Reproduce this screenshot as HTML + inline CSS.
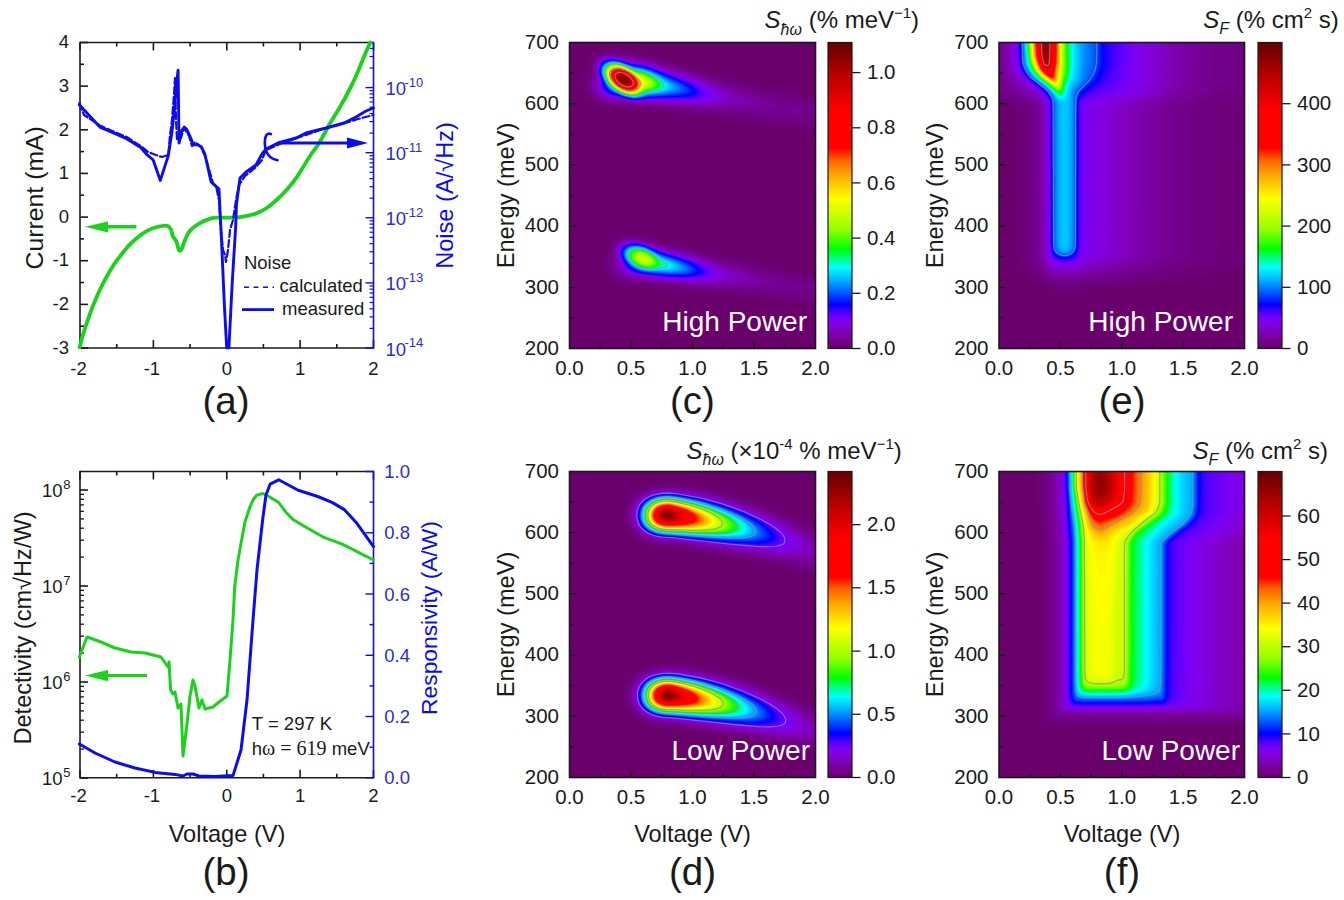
<!DOCTYPE html>
<html><head><meta charset="utf-8"><style>html,body{margin:0;padding:0;background:#fff;}svg{display:block}</style></head>
<body><svg width="1344" height="900" viewBox="0 0 1344 900" font-family="Liberation Sans, sans-serif">
<rect width="1344" height="900" fill="#fff"/>
<line x1="80.0" y1="42.5" x2="373.5" y2="42.5" stroke="#1a1a1a" stroke-width="1.6" />
<line x1="80.0" y1="348.0" x2="373.5" y2="348.0" stroke="#1a1a1a" stroke-width="1.6" />
<line x1="80.0" y1="41.7" x2="80.0" y2="348.8" stroke="#1a1a1a" stroke-width="1.6" />
<line x1="80.0" y1="348.0" x2="80.0" y2="340.0" stroke="#1a1a1a" stroke-width="1.6" />
<line x1="80.0" y1="42.5" x2="80.0" y2="50.5" stroke="#1a1a1a" stroke-width="1.6" />
<line x1="116.7" y1="348.0" x2="116.7" y2="344.0" stroke="#1a1a1a" stroke-width="1.6" />
<line x1="116.7" y1="42.5" x2="116.7" y2="46.5" stroke="#1a1a1a" stroke-width="1.6" />
<line x1="153.4" y1="348.0" x2="153.4" y2="340.0" stroke="#1a1a1a" stroke-width="1.6" />
<line x1="153.4" y1="42.5" x2="153.4" y2="50.5" stroke="#1a1a1a" stroke-width="1.6" />
<line x1="190.1" y1="348.0" x2="190.1" y2="344.0" stroke="#1a1a1a" stroke-width="1.6" />
<line x1="190.1" y1="42.5" x2="190.1" y2="46.5" stroke="#1a1a1a" stroke-width="1.6" />
<line x1="226.8" y1="348.0" x2="226.8" y2="340.0" stroke="#1a1a1a" stroke-width="1.6" />
<line x1="226.8" y1="42.5" x2="226.8" y2="50.5" stroke="#1a1a1a" stroke-width="1.6" />
<line x1="263.4" y1="348.0" x2="263.4" y2="344.0" stroke="#1a1a1a" stroke-width="1.6" />
<line x1="263.4" y1="42.5" x2="263.4" y2="46.5" stroke="#1a1a1a" stroke-width="1.6" />
<line x1="300.1" y1="348.0" x2="300.1" y2="340.0" stroke="#1a1a1a" stroke-width="1.6" />
<line x1="300.1" y1="42.5" x2="300.1" y2="50.5" stroke="#1a1a1a" stroke-width="1.6" />
<line x1="336.8" y1="348.0" x2="336.8" y2="344.0" stroke="#1a1a1a" stroke-width="1.6" />
<line x1="336.8" y1="42.5" x2="336.8" y2="46.5" stroke="#1a1a1a" stroke-width="1.6" />
<line x1="373.5" y1="348.0" x2="373.5" y2="340.0" stroke="#1a1a1a" stroke-width="1.6" />
<line x1="373.5" y1="42.5" x2="373.5" y2="50.5" stroke="#1a1a1a" stroke-width="1.6" />
<line x1="80.0" y1="348.0" x2="88.0" y2="348.0" stroke="#1a1a1a" stroke-width="1.6" />
<text x="69.0" y="353.7" font-size="18.5" text-anchor="end" fill="#1a1a1a" >-3</text>
<line x1="80.0" y1="326.2" x2="84.0" y2="326.2" stroke="#1a1a1a" stroke-width="1.6" />
<line x1="80.0" y1="304.4" x2="88.0" y2="304.4" stroke="#1a1a1a" stroke-width="1.6" />
<text x="69.0" y="310.1" font-size="18.5" text-anchor="end" fill="#1a1a1a" >-2</text>
<line x1="80.0" y1="282.5" x2="84.0" y2="282.5" stroke="#1a1a1a" stroke-width="1.6" />
<line x1="80.0" y1="260.7" x2="88.0" y2="260.7" stroke="#1a1a1a" stroke-width="1.6" />
<text x="69.0" y="266.4" font-size="18.5" text-anchor="end" fill="#1a1a1a" >-1</text>
<line x1="80.0" y1="238.9" x2="84.0" y2="238.9" stroke="#1a1a1a" stroke-width="1.6" />
<line x1="80.0" y1="217.1" x2="88.0" y2="217.1" stroke="#1a1a1a" stroke-width="1.6" />
<text x="69.0" y="222.8" font-size="18.5" text-anchor="end" fill="#1a1a1a" >0</text>
<line x1="80.0" y1="195.2" x2="84.0" y2="195.2" stroke="#1a1a1a" stroke-width="1.6" />
<line x1="80.0" y1="173.4" x2="88.0" y2="173.4" stroke="#1a1a1a" stroke-width="1.6" />
<text x="69.0" y="179.1" font-size="18.5" text-anchor="end" fill="#1a1a1a" >1</text>
<line x1="80.0" y1="151.6" x2="84.0" y2="151.6" stroke="#1a1a1a" stroke-width="1.6" />
<line x1="80.0" y1="129.8" x2="88.0" y2="129.8" stroke="#1a1a1a" stroke-width="1.6" />
<text x="69.0" y="135.5" font-size="18.5" text-anchor="end" fill="#1a1a1a" >2</text>
<line x1="80.0" y1="108.0" x2="84.0" y2="108.0" stroke="#1a1a1a" stroke-width="1.6" />
<line x1="80.0" y1="86.1" x2="88.0" y2="86.1" stroke="#1a1a1a" stroke-width="1.6" />
<text x="69.0" y="91.8" font-size="18.5" text-anchor="end" fill="#1a1a1a" >3</text>
<line x1="80.0" y1="64.3" x2="84.0" y2="64.3" stroke="#1a1a1a" stroke-width="1.6" />
<line x1="80.0" y1="42.5" x2="88.0" y2="42.5" stroke="#1a1a1a" stroke-width="1.6" />
<text x="69.0" y="48.2" font-size="18.5" text-anchor="end" fill="#1a1a1a" >4</text>
<text x="78.5" y="375.4" font-size="18.5" text-anchor="middle" fill="#1a1a1a" >-2</text>
<text x="151.9" y="375.4" font-size="18.5" text-anchor="middle" fill="#1a1a1a" >-1</text>
<text x="226.8" y="375.4" font-size="18.5" text-anchor="middle" fill="#1a1a1a" >0</text>
<text x="300.1" y="375.4" font-size="18.5" text-anchor="middle" fill="#1a1a1a" >1</text>
<text x="373.5" y="375.4" font-size="18.5" text-anchor="middle" fill="#1a1a1a" >2</text>
<line x1="373.5" y1="41.7" x2="373.5" y2="348.8" stroke="#0c0cf0" stroke-width="1.6" />
<line x1="373.5" y1="348.0" x2="365.5" y2="348.0" stroke="#0c0cf0" stroke-width="1.4" />
<line x1="373.5" y1="328.4" x2="369.5" y2="328.4" stroke="#0c0cf0" stroke-width="1.2" />
<line x1="373.5" y1="316.9" x2="369.5" y2="316.9" stroke="#0c0cf0" stroke-width="1.2" />
<line x1="373.5" y1="308.8" x2="369.5" y2="308.8" stroke="#0c0cf0" stroke-width="1.2" />
<line x1="373.5" y1="302.5" x2="369.5" y2="302.5" stroke="#0c0cf0" stroke-width="1.2" />
<line x1="373.5" y1="297.3" x2="369.5" y2="297.3" stroke="#0c0cf0" stroke-width="1.2" />
<line x1="373.5" y1="293.0" x2="369.5" y2="293.0" stroke="#0c0cf0" stroke-width="1.2" />
<line x1="373.5" y1="289.2" x2="369.5" y2="289.2" stroke="#0c0cf0" stroke-width="1.2" />
<line x1="373.5" y1="285.9" x2="369.5" y2="285.9" stroke="#0c0cf0" stroke-width="1.2" />
<text x="385.5" y="355.5" font-size="18.5" text-anchor="start" fill="#2b2bd9" >10</text>
<text x="404.5" y="347.2" font-size="13" text-anchor="start" fill="#2b2bd9" >-14</text>
<line x1="373.5" y1="282.9" x2="365.5" y2="282.9" stroke="#0c0cf0" stroke-width="1.4" />
<line x1="373.5" y1="263.3" x2="369.5" y2="263.3" stroke="#0c0cf0" stroke-width="1.2" />
<line x1="373.5" y1="251.8" x2="369.5" y2="251.8" stroke="#0c0cf0" stroke-width="1.2" />
<line x1="373.5" y1="243.7" x2="369.5" y2="243.7" stroke="#0c0cf0" stroke-width="1.2" />
<line x1="373.5" y1="237.4" x2="369.5" y2="237.4" stroke="#0c0cf0" stroke-width="1.2" />
<line x1="373.5" y1="232.2" x2="369.5" y2="232.2" stroke="#0c0cf0" stroke-width="1.2" />
<line x1="373.5" y1="227.9" x2="369.5" y2="227.9" stroke="#0c0cf0" stroke-width="1.2" />
<line x1="373.5" y1="224.1" x2="369.5" y2="224.1" stroke="#0c0cf0" stroke-width="1.2" />
<line x1="373.5" y1="220.8" x2="369.5" y2="220.8" stroke="#0c0cf0" stroke-width="1.2" />
<text x="385.5" y="290.4" font-size="18.5" text-anchor="start" fill="#2b2bd9" >10</text>
<text x="404.5" y="282.1" font-size="13" text-anchor="start" fill="#2b2bd9" >-13</text>
<line x1="373.5" y1="217.8" x2="365.5" y2="217.8" stroke="#0c0cf0" stroke-width="1.4" />
<line x1="373.5" y1="198.2" x2="369.5" y2="198.2" stroke="#0c0cf0" stroke-width="1.2" />
<line x1="373.5" y1="186.7" x2="369.5" y2="186.7" stroke="#0c0cf0" stroke-width="1.2" />
<line x1="373.5" y1="178.6" x2="369.5" y2="178.6" stroke="#0c0cf0" stroke-width="1.2" />
<line x1="373.5" y1="172.3" x2="369.5" y2="172.3" stroke="#0c0cf0" stroke-width="1.2" />
<line x1="373.5" y1="167.1" x2="369.5" y2="167.1" stroke="#0c0cf0" stroke-width="1.2" />
<line x1="373.5" y1="162.8" x2="369.5" y2="162.8" stroke="#0c0cf0" stroke-width="1.2" />
<line x1="373.5" y1="159.0" x2="369.5" y2="159.0" stroke="#0c0cf0" stroke-width="1.2" />
<line x1="373.5" y1="155.7" x2="369.5" y2="155.7" stroke="#0c0cf0" stroke-width="1.2" />
<text x="385.5" y="225.3" font-size="18.5" text-anchor="start" fill="#2b2bd9" >10</text>
<text x="404.5" y="217.0" font-size="13" text-anchor="start" fill="#2b2bd9" >-12</text>
<line x1="373.5" y1="152.7" x2="365.5" y2="152.7" stroke="#0c0cf0" stroke-width="1.4" />
<line x1="373.5" y1="133.1" x2="369.5" y2="133.1" stroke="#0c0cf0" stroke-width="1.2" />
<line x1="373.5" y1="121.6" x2="369.5" y2="121.6" stroke="#0c0cf0" stroke-width="1.2" />
<line x1="373.5" y1="113.5" x2="369.5" y2="113.5" stroke="#0c0cf0" stroke-width="1.2" />
<line x1="373.5" y1="107.2" x2="369.5" y2="107.2" stroke="#0c0cf0" stroke-width="1.2" />
<line x1="373.5" y1="102.0" x2="369.5" y2="102.0" stroke="#0c0cf0" stroke-width="1.2" />
<line x1="373.5" y1="97.7" x2="369.5" y2="97.7" stroke="#0c0cf0" stroke-width="1.2" />
<line x1="373.5" y1="93.9" x2="369.5" y2="93.9" stroke="#0c0cf0" stroke-width="1.2" />
<line x1="373.5" y1="90.6" x2="369.5" y2="90.6" stroke="#0c0cf0" stroke-width="1.2" />
<text x="385.5" y="160.2" font-size="18.5" text-anchor="start" fill="#2b2bd9" >10</text>
<text x="404.5" y="151.9" font-size="13" text-anchor="start" fill="#2b2bd9" >-11</text>
<line x1="373.5" y1="87.6" x2="365.5" y2="87.6" stroke="#0c0cf0" stroke-width="1.4" />
<line x1="373.5" y1="68.0" x2="369.5" y2="68.0" stroke="#0c0cf0" stroke-width="1.2" />
<line x1="373.5" y1="56.5" x2="369.5" y2="56.5" stroke="#0c0cf0" stroke-width="1.2" />
<line x1="373.5" y1="48.4" x2="369.5" y2="48.4" stroke="#0c0cf0" stroke-width="1.2" />
<text x="385.5" y="95.1" font-size="18.5" text-anchor="start" fill="#2b2bd9" >10</text>
<text x="404.5" y="86.8" font-size="13" text-anchor="start" fill="#2b2bd9" >-10</text>
<text transform="translate(42.8,197.8) rotate(-90)" font-size="24.8" text-anchor="middle" fill="#1a1a1a">Current (mA)</text>
<text transform="translate(452.8,195.5) rotate(-90)" font-size="23.6" text-anchor="middle" fill="#0c0cf0">Noise (A/√Hz)</text>
<text x="226.0" y="414.0" font-size="38.5" text-anchor="middle" fill="#1a1a1a" >(a)</text>
<path d="M79.6,347.3 C80.5,344.2 82.5,335.9 84.9,328.7 C87.3,321.4 90.8,311.2 93.8,303.8 C96.8,296.4 99.7,290.1 102.7,284.2 C105.7,278.3 108.6,272.9 111.6,268.2 C114.5,263.5 117.5,259.7 120.4,255.8 C123.4,252.0 126.3,248.2 129.3,245.1 C132.3,242.0 135.2,239.5 138.2,237.1 C141.2,234.7 144.1,232.5 147.1,230.9 C150.1,229.3 153.0,228.2 156.0,227.3 C159.0,226.4 162.8,225.8 164.9,225.6 C167.0,225.4 167.4,225.7 168.4,226.4 C169.4,227.1 170.3,228.4 171.1,230.0 C171.8,231.6 172.0,234.3 172.9,236.2 C173.8,238.1 175.4,239.2 176.4,241.6 C177.4,244.0 178.2,249.2 179.1,250.4 C180.0,251.6 180.9,250.2 181.8,248.7 C182.7,247.2 183.1,244.6 184.4,241.6 C185.7,238.6 187.1,234.0 189.8,230.9 C192.5,227.8 196.9,225.0 200.4,222.9 C203.9,220.8 208.1,219.3 211.1,218.4 C214.1,217.5 214.0,217.7 218.2,217.6 C222.3,217.5 231.4,217.9 236.0,217.6 C240.6,217.3 242.7,216.7 246.0,216.0 C249.3,215.3 252.7,214.8 256.0,213.5 C259.3,212.2 262.7,210.7 266.0,208.5 C269.3,206.3 272.7,203.5 276.0,200.5 C279.3,197.5 282.6,194.4 286.0,190.5 C289.4,186.6 292.7,183.1 296.7,177.3 C300.7,171.6 306.2,161.8 310.0,156.0 C313.8,150.2 316.0,148.1 319.3,142.7 C322.6,137.3 326.6,129.4 330.0,123.5 C333.4,117.5 337.0,112.2 340.0,107.0 C343.0,101.8 345.3,97.7 348.0,92.5 C350.7,87.3 353.0,82.8 356.0,76.0 C359.0,69.2 363.6,57.6 366.0,52.0 C368.4,46.4 369.8,44.1 370.5,42.5" fill="none" stroke="#1ad21a" stroke-width="3.8" stroke-linejoin="round" stroke-linecap="round" />
<path d="M79.4,104.9 L86.0,112.0 L99.9,127.1 L112.3,132.4 L126.6,138.7 L140.8,147.6 L146.1,153.8 L153.2,160.0 L160.3,180.4 L168.3,155.6 L171.9,132.4 L174.6,107.6 L176.3,86.2 L178.1,70.2 L179.0,143.1 L181.7,130.7 L184.3,127.1 L187.0,129.8 L191.4,139.6 L193.2,144.9 L197.7,144.9 L201.2,146.7 L204.8,153.8 L211.1,182.0 L218.9,188.9 L221.5,240.0 L224.4,305.6 L226.7,347.8 L228.9,347.8 L232.2,283.3 L235.6,227.8 L236.5,204.0 L240.0,178.0 L246.0,172.0 L256.0,165.0 L262.0,154.0 L266.0,149.0 L278.0,143.0 L296.0,138.0 L306.0,133.0 L326.0,128.0 L344.0,123.0 L356.0,117.0 L366.0,111.0 L373.5,108.0" fill="none" stroke="#0c0cf0" stroke-width="2.9" stroke-linejoin="round" stroke-linecap="round" />
<path d="M79.4,103.0 L82.0,110.0 L84.0,115.0 L99.9,125.5 L112.3,131.0 L126.6,137.0 L140.8,146.0 L148.0,152.0 L156.0,155.0 L162.0,157.0 L168.3,155.0 L170.0,135.0 L172.0,120.0 L174.0,95.0 L175.0,78.0 L176.0,120.0 L177.0,140.0 L181.0,138.0 L184.0,128.0 L189.0,136.0 L192.0,146.0 L195.0,142.0 L201.0,147.0 L205.0,156.0 L211.0,176.0 L213.0,183.0 L216.0,186.0 L219.0,200.0 L221.0,230.0 L223.0,250.0 L225.0,255.0 L226.0,262.0 L228.0,250.0 L230.0,230.0 L233.0,220.0 L236.0,200.0 L239.0,185.0 L245.0,176.0 L255.0,168.0 L262.0,160.0 L266.0,150.0 L280.0,144.0 L300.0,137.0 L320.0,130.0 L344.0,123.5 L358.0,119.0 L373.5,115.0" fill="none" stroke="#0c0cf0" stroke-width="2.2" stroke-linejoin="round" stroke-linecap="round" stroke-dasharray="7,3"/>
<line x1="280.0" y1="143.0" x2="358.0" y2="143.0" stroke="#0c0cf0" stroke-width="3.0" />
<path d="M368,143 L347,137.5 L347,148.5 Z" fill="#0c0cf0"/>
<path d="M271,134.2 C266.5,132 264.6,137 264.8,143 C265,151.5 269,158.5 277.5,160.3" fill="none" stroke="#0c0cf0" stroke-width="2.6" stroke-linecap="round"/>
<line x1="136.4" y1="226.8" x2="100.0" y2="226.8" stroke="#1ad21a" stroke-width="3.6" />
<path d="M84.9,226.8 L108,221.6 L108,232.4 Z" fill="#1ad21a"/>
<text x="243.9" y="268.6" font-size="18.5" text-anchor="start" fill="#1a1a1a" >Noise</text>
<text x="279.6" y="291.8" font-size="18.5" text-anchor="start" fill="#1a1a1a" >calculated</text>
<text x="282.0" y="315.0" font-size="18.5" text-anchor="start" fill="#1a1a1a" >measured</text>
<line x1="244.0" y1="287.3" x2="274.0" y2="287.3" stroke="#0c0cf0" stroke-width="1.6" stroke-dasharray="5,4.5"/>
<line x1="242.0" y1="309.6" x2="274.0" y2="309.6" stroke="#0c0cf0" stroke-width="2.8" />
<line x1="80.0" y1="471.5" x2="373.5" y2="471.5" stroke="#1a1a1a" stroke-width="1.6" />
<line x1="80.0" y1="777.8" x2="373.5" y2="777.8" stroke="#1a1a1a" stroke-width="1.6" />
<line x1="80.0" y1="470.7" x2="80.0" y2="778.6" stroke="#1a1a1a" stroke-width="1.6" />
<line x1="80.0" y1="777.8" x2="80.0" y2="769.8" stroke="#1a1a1a" stroke-width="1.6" />
<line x1="80.0" y1="471.5" x2="80.0" y2="479.5" stroke="#1a1a1a" stroke-width="1.6" />
<line x1="116.7" y1="777.8" x2="116.7" y2="773.8" stroke="#1a1a1a" stroke-width="1.6" />
<line x1="116.7" y1="471.5" x2="116.7" y2="475.5" stroke="#1a1a1a" stroke-width="1.6" />
<line x1="153.4" y1="777.8" x2="153.4" y2="769.8" stroke="#1a1a1a" stroke-width="1.6" />
<line x1="153.4" y1="471.5" x2="153.4" y2="479.5" stroke="#1a1a1a" stroke-width="1.6" />
<line x1="190.1" y1="777.8" x2="190.1" y2="773.8" stroke="#1a1a1a" stroke-width="1.6" />
<line x1="190.1" y1="471.5" x2="190.1" y2="475.5" stroke="#1a1a1a" stroke-width="1.6" />
<line x1="226.8" y1="777.8" x2="226.8" y2="769.8" stroke="#1a1a1a" stroke-width="1.6" />
<line x1="226.8" y1="471.5" x2="226.8" y2="479.5" stroke="#1a1a1a" stroke-width="1.6" />
<line x1="263.4" y1="777.8" x2="263.4" y2="773.8" stroke="#1a1a1a" stroke-width="1.6" />
<line x1="263.4" y1="471.5" x2="263.4" y2="475.5" stroke="#1a1a1a" stroke-width="1.6" />
<line x1="300.1" y1="777.8" x2="300.1" y2="769.8" stroke="#1a1a1a" stroke-width="1.6" />
<line x1="300.1" y1="471.5" x2="300.1" y2="479.5" stroke="#1a1a1a" stroke-width="1.6" />
<line x1="336.8" y1="777.8" x2="336.8" y2="773.8" stroke="#1a1a1a" stroke-width="1.6" />
<line x1="336.8" y1="471.5" x2="336.8" y2="475.5" stroke="#1a1a1a" stroke-width="1.6" />
<line x1="373.5" y1="777.8" x2="373.5" y2="769.8" stroke="#1a1a1a" stroke-width="1.6" />
<line x1="373.5" y1="471.5" x2="373.5" y2="479.5" stroke="#1a1a1a" stroke-width="1.6" />
<text x="78.5" y="802.4" font-size="18.5" text-anchor="middle" fill="#1a1a1a" >-2</text>
<text x="151.9" y="802.4" font-size="18.5" text-anchor="middle" fill="#1a1a1a" >-1</text>
<text x="226.8" y="802.4" font-size="18.5" text-anchor="middle" fill="#1a1a1a" >0</text>
<text x="300.1" y="802.4" font-size="18.5" text-anchor="middle" fill="#1a1a1a" >1</text>
<text x="373.5" y="802.4" font-size="18.5" text-anchor="middle" fill="#1a1a1a" >2</text>
<line x1="80.0" y1="778.0" x2="88.0" y2="778.0" stroke="#1a1a1a" stroke-width="1.6" />
<line x1="80.0" y1="749.1" x2="84.0" y2="749.1" stroke="#1a1a1a" stroke-width="1.3" />
<line x1="80.0" y1="732.2" x2="84.0" y2="732.2" stroke="#1a1a1a" stroke-width="1.3" />
<line x1="80.0" y1="720.2" x2="84.0" y2="720.2" stroke="#1a1a1a" stroke-width="1.3" />
<line x1="80.0" y1="710.9" x2="84.0" y2="710.9" stroke="#1a1a1a" stroke-width="1.3" />
<line x1="80.0" y1="703.3" x2="84.0" y2="703.3" stroke="#1a1a1a" stroke-width="1.3" />
<line x1="80.0" y1="696.9" x2="84.0" y2="696.9" stroke="#1a1a1a" stroke-width="1.3" />
<line x1="80.0" y1="691.3" x2="84.0" y2="691.3" stroke="#1a1a1a" stroke-width="1.3" />
<line x1="80.0" y1="686.4" x2="84.0" y2="686.4" stroke="#1a1a1a" stroke-width="1.3" />
<text x="62.6" y="784.8" font-size="18.5" text-anchor="end" fill="#1a1a1a" >10</text>
<text x="63.2" y="777.0" font-size="13" text-anchor="start" fill="#1a1a1a" >5</text>
<line x1="80.0" y1="682.0" x2="88.0" y2="682.0" stroke="#1a1a1a" stroke-width="1.6" />
<line x1="80.0" y1="653.1" x2="84.0" y2="653.1" stroke="#1a1a1a" stroke-width="1.3" />
<line x1="80.0" y1="636.2" x2="84.0" y2="636.2" stroke="#1a1a1a" stroke-width="1.3" />
<line x1="80.0" y1="624.2" x2="84.0" y2="624.2" stroke="#1a1a1a" stroke-width="1.3" />
<line x1="80.0" y1="614.9" x2="84.0" y2="614.9" stroke="#1a1a1a" stroke-width="1.3" />
<line x1="80.0" y1="607.3" x2="84.0" y2="607.3" stroke="#1a1a1a" stroke-width="1.3" />
<line x1="80.0" y1="600.9" x2="84.0" y2="600.9" stroke="#1a1a1a" stroke-width="1.3" />
<line x1="80.0" y1="595.3" x2="84.0" y2="595.3" stroke="#1a1a1a" stroke-width="1.3" />
<line x1="80.0" y1="590.4" x2="84.0" y2="590.4" stroke="#1a1a1a" stroke-width="1.3" />
<text x="62.6" y="688.8" font-size="18.5" text-anchor="end" fill="#1a1a1a" >10</text>
<text x="63.2" y="681.0" font-size="13" text-anchor="start" fill="#1a1a1a" >6</text>
<line x1="80.0" y1="586.0" x2="88.0" y2="586.0" stroke="#1a1a1a" stroke-width="1.6" />
<line x1="80.0" y1="557.1" x2="84.0" y2="557.1" stroke="#1a1a1a" stroke-width="1.3" />
<line x1="80.0" y1="540.2" x2="84.0" y2="540.2" stroke="#1a1a1a" stroke-width="1.3" />
<line x1="80.0" y1="528.2" x2="84.0" y2="528.2" stroke="#1a1a1a" stroke-width="1.3" />
<line x1="80.0" y1="518.9" x2="84.0" y2="518.9" stroke="#1a1a1a" stroke-width="1.3" />
<line x1="80.0" y1="511.3" x2="84.0" y2="511.3" stroke="#1a1a1a" stroke-width="1.3" />
<line x1="80.0" y1="504.9" x2="84.0" y2="504.9" stroke="#1a1a1a" stroke-width="1.3" />
<line x1="80.0" y1="499.3" x2="84.0" y2="499.3" stroke="#1a1a1a" stroke-width="1.3" />
<line x1="80.0" y1="494.4" x2="84.0" y2="494.4" stroke="#1a1a1a" stroke-width="1.3" />
<text x="62.6" y="592.8" font-size="18.5" text-anchor="end" fill="#1a1a1a" >10</text>
<text x="63.2" y="585.0" font-size="13" text-anchor="start" fill="#1a1a1a" >7</text>
<line x1="80.0" y1="490.0" x2="88.0" y2="490.0" stroke="#1a1a1a" stroke-width="1.6" />
<text x="62.6" y="496.8" font-size="18.5" text-anchor="end" fill="#1a1a1a" >10</text>
<text x="63.2" y="489.0" font-size="13" text-anchor="start" fill="#1a1a1a" >8</text>
<line x1="373.5" y1="470.7" x2="373.5" y2="778.6" stroke="#0c0cf0" stroke-width="1.6" />
<line x1="373.5" y1="777.8" x2="365.5" y2="777.8" stroke="#0c0cf0" stroke-width="1.4" />
<text x="384.3" y="784.4" font-size="18.5" text-anchor="start" fill="#2b2bd9" >0.0</text>
<line x1="373.5" y1="747.2" x2="369.5" y2="747.2" stroke="#0c0cf0" stroke-width="1.4" />
<line x1="373.5" y1="716.5" x2="365.5" y2="716.5" stroke="#0c0cf0" stroke-width="1.4" />
<text x="384.3" y="723.1" font-size="18.5" text-anchor="start" fill="#2b2bd9" >0.2</text>
<line x1="373.5" y1="685.9" x2="369.5" y2="685.9" stroke="#0c0cf0" stroke-width="1.4" />
<line x1="373.5" y1="655.3" x2="365.5" y2="655.3" stroke="#0c0cf0" stroke-width="1.4" />
<text x="384.3" y="661.9" font-size="18.5" text-anchor="start" fill="#2b2bd9" >0.4</text>
<line x1="373.5" y1="624.6" x2="369.5" y2="624.6" stroke="#0c0cf0" stroke-width="1.4" />
<line x1="373.5" y1="594.0" x2="365.5" y2="594.0" stroke="#0c0cf0" stroke-width="1.4" />
<text x="384.3" y="600.6" font-size="18.5" text-anchor="start" fill="#2b2bd9" >0.6</text>
<line x1="373.5" y1="563.4" x2="369.5" y2="563.4" stroke="#0c0cf0" stroke-width="1.4" />
<line x1="373.5" y1="532.8" x2="365.5" y2="532.8" stroke="#0c0cf0" stroke-width="1.4" />
<text x="384.3" y="539.4" font-size="18.5" text-anchor="start" fill="#2b2bd9" >0.8</text>
<line x1="373.5" y1="502.1" x2="369.5" y2="502.1" stroke="#0c0cf0" stroke-width="1.4" />
<line x1="373.5" y1="471.5" x2="365.5" y2="471.5" stroke="#0c0cf0" stroke-width="1.4" />
<text x="384.3" y="478.1" font-size="18.5" text-anchor="start" fill="#2b2bd9" >1.0</text>
<text transform="translate(31,628) rotate(-90)" font-size="23.6" text-anchor="middle" fill="#1a1a1a">Detectivity (cm√Hz/W)</text>
<text transform="translate(436.5,618) rotate(-90)" font-size="22.8" text-anchor="middle" fill="#0c0cf0">Responsivity (A/W)</text>
<text x="227.0" y="842.0" font-size="23.6" text-anchor="middle" fill="#1a1a1a" >Voltage (V)</text>
<text x="226.0" y="885.0" font-size="38.5" text-anchor="middle" fill="#1a1a1a" >(b)</text>
<path d="M79.4,657.0 L87.0,637.0 L101.0,642.0 L115.0,648.0 L131.0,652.0 L145.0,653.0 L161.0,657.0 L168.0,667.0 L169.0,662.0 L170.6,690.0 L173.0,694.0 L175.0,692.0 L178.0,708.0 L181.0,704.0 L183.0,756.0 L187.0,724.0 L190.0,696.0 L193.0,680.0 L195.0,686.0 L199.0,708.0 L202.0,700.0 L205.0,709.0 L213.0,707.0 L219.0,702.0 L227.0,696.0 L230.0,660.0 L233.0,620.0 L234.7,586.9 L238.0,560.0 L242.0,538.0 L245.0,522.0 L249.3,508.7 L253.0,500.0 L256.7,495.2 L262.8,493.5 L268.9,496.5 L278.7,502.6 L286.0,512.3 L293.3,519.7 L305.6,527.0 L322.7,536.8 L342.2,544.1 L373.5,560.0" fill="none" stroke="#1ad21a" stroke-width="3" stroke-linejoin="round" stroke-linecap="round" />
<path d="M79.4,744.0 L95.0,753.0 L115.0,762.0 L135.0,768.0 L155.0,772.4 L175.0,774.4 L183.0,776.0 L187.0,774.0 L193.0,774.0 L199.0,776.0 L215.0,776.5 L233.0,775.6 L241.0,750.0 L247.0,700.0 L253.0,620.0 L257.0,570.0 L262.8,518.5 L266.0,495.0 L270.1,484.2 L278.7,479.8 L298.2,490.3 L317.8,496.5 L332.5,502.6 L344.7,509.9 L356.9,523.3 L373.5,546.6" fill="none" stroke="#0c0cf0" stroke-width="3" stroke-linejoin="round" stroke-linecap="round" />
<line x1="147.0" y1="675.6" x2="100.0" y2="675.6" stroke="#1ad21a" stroke-width="3" />
<path d="M85,675.6 L108,670 L108,681.2 Z" fill="#1ad21a"/>
<text x="251.8" y="729.7" font-size="18.5" text-anchor="start" fill="#1a1a1a" >T = 297 K</text>
<text x="251.8" y="755.4" font-size="18.5" fill="#1a1a1a">h<tspan font-family="Liberation Serif, serif" font-size="20">ω = 619</tspan> meV</text>
<defs><linearGradient id="cbg" x1="0" y1="0" x2="0" y2="1"><stop offset="0.000" stop-color="#640000"/><stop offset="0.100" stop-color="#b40000"/><stop offset="0.220" stop-color="#ff0000"/><stop offset="0.345" stop-color="#ff0000"/><stop offset="0.385" stop-color="#ff6400"/><stop offset="0.435" stop-color="#ffaa00"/><stop offset="0.510" stop-color="#ffff00"/><stop offset="0.610" stop-color="#96ff00"/><stop offset="0.675" stop-color="#00ff00"/><stop offset="0.735" stop-color="#00ffff"/><stop offset="0.780" stop-color="#00aaff"/><stop offset="0.857" stop-color="#0000ff"/><stop offset="0.885" stop-color="#5500ff"/><stop offset="0.905" stop-color="#7d00f5"/><stop offset="0.925" stop-color="#8200dc"/><stop offset="0.950" stop-color="#7f00b4"/><stop offset="0.972" stop-color="#760091"/><stop offset="1.000" stop-color="#69006c"/></linearGradient></defs>
<clipPath id="cpc"><rect x="569.5" y="42.5" width="246.0" height="306.0"/></clipPath>
<g clip-path="url(#cpc)">
<rect x="568.5" y="41.5" width="248.0" height="308.0" fill="#69006c"/>
<path fill="#6d0079" fill-rule="evenodd" d="M608.5 48.4l6-.2 7 .7 26 5.1 21.6 6.5 46.4 12.4 15 4.8 30 7.6 57 13.3 0 32.1-23.5-3.2-33.5-5.1-30-3.7-20-1.5-45-5.1-10-.7-18 .2-10-.7-20-2.8-9-2.8-7-4.1-5.6-5.7-1.8-3-1.3-4-.4-3 .4-4 1.3-4 2.4-4 2.4-12 2.5-5 2.1-2.1 4-2.5 5-2.1zM626.5 233.4l9-.8 10 1.4 21.1 6.5 53.9 14.2 40 9.8 57 12 0 28.6-21.7-2.6-35.3-4.7-40-3.8-29-2-59-5.8-7-1.2-7-2.2-7-3.5-5.7-4.8-3-5-.8-3 0-3 1.2-4 3.9-6 1.3-8 2.2-4 2.9-2.7 3-1.8z"/>
<path fill="#700081" fill-rule="evenodd" d="M610.5 51.4l5-.2 6 .7 29 5.9 61 17.2 19.5 6.5 86.5 22.6 0 21.2-22-2.4-35-4.7-30-3.2-19-.8-62-6-19 0-11-1.6-9-.6-8-2-7-3.5-5.6-5-3.2-6-.6-3 .1-4 1.3-4 3-5.9.3-9.1 2.1-5 2.6-2.7 3-1.8 4-1.4zM626.5 236.3l9-.5 9 1.2 16.9 5.5 29.1 6.6 30 8.6 22 5.4 18 5.2 57 13 0 18.9-18.3-1.7-38.7-4.5-18-.9-22-2.1-31-1.7-38-4.7-17-.7-7-1.1-6-1.8-7-3.5-4.7-4-2.9-5-.5-5 .8-3 2.7-5 .6-8 2-4.5 2-2.1 3-2 5-1.8z"/>
<path fill="#73008a" fill-rule="evenodd" d="M605.5 53.4l8-.3 7 .6 10 2 11 1.5 8 1.8 45 12.9 23 7.1 13 4.9 30 8.9 32.4 8.7 24.6 8 0 10.3-16-.6-71-6.7-17-.3-50-4.6-16.6-1.1-16.4-.3-9-1.3-9-.2-8-1.8-7-3.3-4.9-4.1-3.2-5-1.1-6 .7-4 2.9-6 0-9 1.6-5 2-2.7 3-2.3 3-1.3zM627.5 237.5l6-.2 9 1.3 16.1 4.9 28.9 6.4 22 6.2 11 3.7 24 6.2 16 5.1 30.5 7.4 26.5 7.7 0 9.2-18-.7-39-3.6-15-.2-25-2-31-1.2-38-4.6-18-.9-9-2-7-3.2-4.5-3.5-2.8-4-1-5 .6-3 2.1-5 0-8 1.5-4 2.1-2.5 3-2.1 4-1.6z"/>
<path fill="#760092" fill-rule="evenodd" d="M604.5 54.5l9-.2 16 2.7 14 1.7 46 13.2 23 7.2 18 6.9 49.4 15.5 15.5 6 4.3 3 .3 1-.7 1-4.8 1.1-10 .2-54-3.5-13 .4-24-1.4-29-2.8-29-1.2-13-1.7-8 0-9-1.7-6-2.7-5-3.9-3.3-4.8-1.1-5 .4-4 2.8-7-.4-8 1.3-5 2.1-3 2.2-1.8zM626.5 238.4l7-.2 7 .9 16 5 31 7.1 21 6 12 4.2 24 6.6 16 5.8 27.4 7.7 9.7 4 2.3 2-.2 1-5.2 1.3-11 .2-23-1.5-16 .4-24-1.6-12 .1-20-1-37-4.4-17-1-9-1.9-6-2.7-4.9-3.9-2.6-4-.7-4 2.1-7-.4-8 1.2-4 1.4-2 2.9-2.4 4-1.8z"/>
<path fill="#79009b" fill-rule="evenodd" d="M603.5 55.4l4-.7 6 .2 15 2.9 14 1.5 47 13.6 22 7.1 10 3.7 9 4.1 20 6.7 24 10 2.5 2 0 1-1.5.8-5 .7-7 0-16 .5-17-.9-9 .6-11-.1-20-1.1-27-2.5-27-.8-13-1.9-11-.3-7-1.6-6-2.9-4.2-3.5-2.7-4-1.2-5 .5-4 2.2-6-.5-8 1-5 1.9-3 2-1.8zM624.5 239.5l8-.8 9 1.2 14 4.7 36 8.6 19 5.8 10 3.7 23 6.6 8.5 3.2 8.5 4.1 11.4 3.9 3.9 2 1.1 1-.1 1-2.3.8-11 .4-19 1.5-24-1.2-11 .3-17-.6-21-1.8-20-2.7-16-1-9-1.9-6-2.7-4-3-2.3-3.1-1.2-4 1.5-7-.7-8 .9-4 1.2-2 2.6-2.4z"/>
<path fill="#7b00a4" fill-rule="evenodd" d="M606.5 55.4l9 .3 12.2 2.8 13.8 1.3 5 1.1 44 13.2 26 8.9 14 6.5 18.9 7 5.5 3 2.4 2 .9 2-.4 1-2.3 1.4-6 1.1-8 .3-11-.4-14 1.2-23-.9-30-2.5-15-.7-13 .1-12-2-11-.4-7-1.7-6-3.1-3.8-3.4-2.4-4-.8-5 .5-3 1.8-5-.6-9 1.2-5 2-3 2.1-1.7 3-1.5zM627.5 239.5l6-.3 7 1 16.1 5.3 31.9 7.6 56.5 18.4 10.3 5 2.4 2 1.1 2-.7 2-2.6 1.4-5 1.2-6 .5-24-.8-17 .5-16-.7-19-1.8-17-2.3-16-1.1-10-2.4-6.3-3.5-2.2-2-1.9-3-.7-4 1.1-6-.9-8 1-4 2.9-3.6 4-2.2z"/>
<path fill="#7d00ac" fill-rule="evenodd" d="M604.5 56.2l4-.6 5 .2 14 3.2 16 1.8 47 14.1 23 8 9 3.8 8 4.5 12.9 5.3 3.4 2 2.2 2 .3 2-2.8 1.6-5 .9-8 .2-16 1.8-25-.7-29-2.2-15-.7-13 .2-12-2.1-11-.4-7-1.8-5-2.6-3.6-3.2-2.6-4-.9-4 .3-3 1.8-6-.8-8 .9-5 2.9-4.2 3-2zM625.5 240.3l8-.6 9 1.4 15.8 5.4 34.2 8.5 18 5.8 10 4.2 17.7 5.5 11 5 2.7 2 1.2 2-.8 2-1.8 1-8 1.5-22-.3-13 .8-20-.6-19-1.7-18-2.4-14-.9-10-2.3-6-3.2-2.1-1.9-2-3-.8-4 .7-6-1.1-7 .6-4 1.9-3 3.8-2.8z"/>
<path fill="#7f00b5" fill-rule="evenodd" d="M605.5 56.5l4-.5 5 .3 13 3.2 14 1.4 5 1.2 45 13.9 22 7.9 11 5.2 6 4.1 6.8 3.3 3.4 3-.2 1.4-2 1.2-8 1.1-3.8 1.3-7.2 1.2-9 .3-20-.5-39-2.5-15 .3-14-2.3-11-.7-6-1.7-5-2.8-3.4-3.3-2.2-4-.6-4 1.8-7-.9-9 .9-5 3.4-4.4 3-1.7zM627.5 240.4l6-.4 7 1 19 6.3 28 6.8 21 6.8 12 5.1 16.2 5.5 8 4 2.3 2 .4 2-.9 1.1-3 1.2-9 1-14-.1-16 1-18-.4-17-1.5-18-2.5-15-1.1-10-2.4-5.7-3.3-3.2-4-.9-3 .4-6-1.4-8 .8-4 2-3 4-2.7z"/>
<path fill="#8000be" fill-rule="evenodd" d="M608.5 56.4l7 .4 12 3.1 14 1.5 7 1.7 43 13.7 25 9.4 9.4 5.3 3.2 3 2.9 4-.5 1-5 3.3-4 1.2-6 .8-24 .1-43-2.5-13 .6-14-2.5-10-.7-7-1.9-6-3.8-2.2-2.6-1.6-3-.5-4 1.5-7-1-10 1-4 2.8-3.7 4-2.3zM630.5 240.5l6 .2 6 1.1 15.9 5.7 33.1 8.4 18 6.2 11 5.1 12.2 4.3 7.4 4 1.6 2 0 1-.9 1-3.3 1.2-11 .9-6-.1-13 1.4-21-.2-50-5.1-5-.9-5-1.7-5.5-3.5-2.8-4-.4-8-1.5-9 1.3-4 2.9-3 5-2.3z"/>
<path fill="#8000c7" fill-rule="evenodd" d="M605.5 57.3l4-.6 5 .3 13.9 3.5 13.1 1.3 5 1.2 44 14.1 21 8 10.6 5.4 3.7 3 2 3-.3 3-2 1.8-4 1.6-5 .8-24 .5-28-1.8-15-.5-13 .7-15-2.6-9-.7-6-1.6-4.1-2.2-3.5-3-1.9-3-1.1-4 1.3-7-1.1-9 .7-5 2.7-4.1 3-2.1zM626.5 241.4l8-.6 8 1.3 15 5.6 30 7.6 22 7.6 11 5.4 10.3 4.2 4.5 3 .6 2-1.4 1.2-4 1-6 .5-4 .1-12 1.8-21 .1-17-1.4-18-2.3-15-1.3-9-2.1-5.1-2.6-3.7-4-1-3-.2-5-1.7-8 .5-4 1.7-3 3.5-2.7z"/>
<path fill="#8100d0" fill-rule="evenodd" d="M606.5 57.4l4-.4 5 .4 13 3.5 13 1.4 7 1.7 42 13.8 19.7 7.7 6.3 3 4.8 3 3 3 1 2-.3 2-2.5 2.3-4 1.4-6 .8-21 .5-42-2-14 .8-14-2.7-9-.8-6-1.7-5.7-3.6-1.8-2-1.7-3-.6-4 1-7-1.2-9 .7-4 1.8-3 3.5-2.7zM628.5 241.4l7-.2 8 1.5 15.4 5.8 31.6 8.3 20 7.3 16.1 8.4 3.5 3 0 1-1.6 1.2-8 1.3-4 1.2-6 1-8 .5-22-.5-43-4.6-5-.9-5-1.7-4.2-2.5-3.1-4-3-16 1-4 2.3-2.8 3-1.9z"/>
<path fill="#8200d9" fill-rule="evenodd" d="M608.5 57.4l8 .4 12 3.4 13 1.5 8 2 40 13.3 20.8 8.5 5.8 3 4.1 3 2.3 3 .1 2-1.6 2-2.5 1.2-10 1.6-18 .5-26-1.4-15-.3-14 .9-14-2.8-10-1.1-5-1.6-5-3.2-3.5-4.8-.6-4 .8-6-1.4-10 1.3-5 2.4-2.9 4-2.3zM630.5 241.5l6 .1 7 1.4 17 6.4 30 7.9 21.3 8.2 5.2 3 6.6 5 .7 1 0 1-1.2 1-6.6 2.7-6 1.2-19 .8-18-1-37-4.2-5-1.1-4-1.5-4.2-2.9-2.2-3-3.1-13-.2-4 1-3 2.7-3.1 4-2z"/>
<path fill="#8100e2" fill-rule="evenodd" d="M605.5 58.3l4-.6 5 .1 14 3.7 14 1.7 10 2.9 43 14.9 16.6 7.5 4.6 3 2.8 3 .4 2-1.4 2.2-4 1.7-6 .9-18 .9-26-1.3-16-.2-13 1-5-.6-10-2.4-8-.9-5-1.5-5-2.9-2-2-1.7-2.9-.7-4 .6-6-1.5-8 .2-4 1.8-4 2.3-2.3zM627.5 242.2l7-.5 8 1.3 17 6.5 31 8.3 17.4 6.7 8.7 5 1.9 2 1 2-.3 2-2 2-2.7 1.2-5 1-18 1-17-.9-36-4-5-.9-5-1.7-4.1-2.7-2.4-3-3.9-15 .7-4 1.7-2.6 3-2.2z"/>
<path fill="#7f00eb" fill-rule="evenodd" d="M606.5 58.5l4-.6 5 .3 14 3.9 14 1.8 10 3 41 14.5 15 7.1 4.5 3 1.9 2 .7 2-1.1 2.2-4 1.8-5 .8-16 1.1-42-1.2-13 1.2-23-4.2-5-1.5-5-3.2-2.9-4-.7-3 .4-6-1.8-10 .6-4 1.7-3 2.7-2.4zM628.5 242.4l7-.3 8 1.5 15 6 29 7.8 18.4 7.1 8.6 5 1.9 2 .8 2-.6 2-2.1 1.6-8 2-17 1-18-1-33-3.9-9-2.4-3.9-2.3-2.5-3-3.7-11-.8-4 .8-4 2.1-2.9 3-1.9z"/>
<path fill="#7d00f3" fill-rule="evenodd" d="M608.5 58.4l8 .3 13 3.8 12 1.4 7 1.8 37 12.9 9.7 3.9 13.4 7 3.6 3 1.1 2-.6 2-2.2 1.4-10 1.9-12 .9-40-.9-13 1.3-23-4.5-5-1.6-5-3.4-2.4-4.1-.3-8-1.9-10 .7-4 1.9-3.2 3-2.3zM631.5 242.4l6 .2 7 1.6 15.4 6.3 29.6 8.2 16.6 6.8 5.1 3 2.3 2 1.2 2-.1 2-1.1 1.3-3 1.5-8 1.5-15 .7-19-1.2-29-3.4-6-1.3-4-1.5-3.8-2.6-2.2-3-3.7-10-.7-5 .8-3 2.6-3.1 4-2.1z"/>
<path fill="#7500f7" fill-rule="evenodd" d="M611.5 58.5l6 .6 12 3.6 12 1.6 8 2.1 36 12.8 10.3 4.3 11.9 7 2.1 2 .7 2-1.4 2-2.1 1-12.5 2.3-9 .3-36-.7-10 1.3-5 .1-22-4.6-5-1.7-4.3-3-2.5-4-.4-7-1.8-8-.2-4 1.1-4 3.1-3.6 4-1.8zM627.5 243.4l7-.8 9 1.5 16 6.6 27 7.5 15 5.8 8 4.5 2.2 2 1.1 2-.4 2-1.1 1-2.8 1.3-5 1.1-15 1.1-19-1-27-3.1-7-1.2-5-1.7-3.9-2.5-2.1-2.6-3.6-8.4-1.4-5 .2-3 1.3-3 2.5-2.4z"/>
<path fill="#6d00f9" fill-rule="evenodd" d="M606.5 59.3l4-.6 5 .2 15 4.2 13 1.8 10 3.1 39 14.5 6 3 6.2 4 2.5 2 1.2 2-.6 2-1.5 1-9.8 2.6-10 .6-38-.5-13 1.5-6-.8-21-5.3-4-2.5-2.9-3.6-.9-3-.3-6-2-9 .4-4 1.4-3 2.3-2.3zM628.5 243.3l7-.4 8 1.4 17 7 25 6.9 16 6.3 6.8 4 2.2 2 .9 2-.7 2-1.3 1-7.9 2.2-14 .9-19-.9-25-2.9-8-1.5-5-1.8-3.2-2-2.5-3-4-9-1-4 .1-3 1.6-3.2 3-2.5z"/>
<path fill="#6400fb" fill-rule="evenodd" d="M607.5 59.3l4-.5 5 .4 14 4.1 11 1.5 5 1.2 45 16.5 7.5 4 5.4 4 1.7 2 .1 2-1 1-8.8 3-9.9.8-38-.3-9 1.3-5 .1-7-1.1-19-5.1-4.2-2.7-2.7-4-.8-7-2.2-10 .4-4 1.5-3 3-2.7zM629.5 243.3l7-.2 8 1.7 15.9 6.7 26.1 7.3 13.9 5.7 6.7 4 2.1 2 .8 2-1 2-1.6 1-7.9 2-12 .8-19-.9-24-2.6-8-1.5-5.2-1.8-3.3-2-2.7-3-3.8-8-1.4-5 .4-4 2-2.9 3-2z"/>
<path fill="#5b00fd" fill-rule="evenodd" d="M607.5 59.5l4-.5 5 .4 14 4.1 15 2.5 9 2.8 36 13.7 8.9 5 3.4 3 1.4 2-.4 2-3 2-3.3 1.2-5 .8-44 .2-9 1.5-5 .1-7-1.2-19-5.2-4-2.8-2.4-3.6-3.3-17 .5-4 1.5-3 2.7-2.5zM630.5 243.4l6-.1 8 1.6 15.3 6.6 26.7 7.6 14 6 6.6 4.4 1.5 3-1.1 1.7-2.2 1.3-7.8 1.7-11 .8-18-.9-25-2.7-7-1.4-5-1.8-4-2.7-2.3-3-3.9-8-1-5 .5-3 2.2-3 3.5-2.1z"/>
<path fill="#5300ff" fill-rule="evenodd" d="M608.5 59.4l4-.3 5 .6 12.2 3.8 12.8 1.9 6 1.6 32 11.9 11.1 4.6 8 5 2.4 3 .3 2-1.7 2-2.1 1.1-9 1.7-41 .2-9 1.5-5 .1-7-1.1-19-5.5-4-2.9-2-3.1-1.1-7-2.2-8-.2-3 .9-4 1.6-2.5 3-2.3zM631.5 243.5l6 .1 7 1.5 15 6.5 27 7.9 13.8 6 5.6 4 1.2 2 0 1-1.6 2-2.1 1-7.9 1.6-10 .5-18-.8-24-2.7-7-1.4-5-1.9-4-2.8-2.5-3.5-3.4-7-1.1-5 .6-3 2.4-3.1 3.3-1.9z"/>
<path fill="#4900ff" fill-rule="evenodd" d="M609.5 59.4l8 .4 13 4 12 1.7 6 1.7 42.3 16.3 8 5 2.3 3 0 2-1.6 1.9-2.3 1.1-8.7 1.5-40 .3-9 1.6-5 .1-7-1.1-19-5.7-3.7-2.7-2-3-3.3-14-.4-4 .9-4 2.2-3 3.3-2.1zM633.5 243.5l5 .3 6 1.4 15 6.6 26.4 7.7 13.6 6 5.5 4 1.1 2 0 1-1.6 1.8-2 1-9 1.7-15 .3-20-1.6-16-1.9-7-1.6-4.1-1.7-3.9-3-3-4.3-3.1-6.7-.6-5 1-3 2.7-2.7 4-1.7z"/>
<path fill="#4000ff" fill-rule="evenodd" d="M610.5 59.4l7 .5 13 4 12 1.8 7 1.9 40.6 15.9 8 5 2.1 3 0 2-1.7 1.8-2.8 1.2-9.2 1.3-38 .4-9 1.5-5 .2-7-1.1-19-5.8-3.4-2.5-2-3-3.4-14-.4-4 .9-4 2.2-3 4.1-2.3zM628.5 244.3l7-.7 8 1.4 17 7.3 21 6 12 4.5 8.6 4.7 2.2 2 .9 2-.7 2-1.5 1-6.5 1.8-10 .9-18-.7-24-2.5-8-1.7-4-1.5-3.6-2.3-2.7-3-3.4-6-1.8-5-.1-3 1.1-3 2.5-2.5z"/>
<path fill="#3700ff" fill-rule="evenodd" d="M611.5 59.5l7 .7 12 3.8 12 1.8 7 2 30.6 11.7 11.3 5 4.8 3 2.1 2 1.1 2-.1 2-1.8 1.7-3 1.2-9 1.2-37 .4-9 1.6-5 .2-9-1.7-17-5.4-3-2.2-2.1-3-3.6-14-.3-5 1.4-4 2.6-2.7 4-1.8zM628.5 244.4l7-.7 8 1.4 17 7.4 21.1 6 11.9 4.6 7.9 4.4 2.1 2 .9 2-.9 1.9-1.7 1.1-6.3 1.6-10 .9-18-.8-23-2.4-7-1.4-5-1.8-3.3-2.1-2.8-3-3.5-6-1.7-5-.1-3 1.2-3 2.2-2.3z"/>
<path fill="#2e00ff" fill-rule="evenodd" d="M606.5 60.4l5-.8 5 .3 15 4.5 12 1.8 9 2.8 34.2 13.5 8.8 5 2 2 1.1 2-.3 2-1.8 1.5-3 1.2-5 .9-40 .8-9 1.6-5 .2-8-1.4-17-5.3-3.7-2.5-2.1-3-4.1-16 .2-4 1.2-3 2.5-2.6zM629.5 244.3l7-.4 7 1.3 17 7.4 21 6.1 12.4 4.8 6.8 4 2.1 2 .8 2-.3 1-1.8 1.5-7 2-10 .8-17-.7-23-2.4-7-1.5-5-1.9-4-2.8-2.5-3-3.4-6-1.4-5 .3-3 1.8-3 2.7-2z"/>
<path fill="#2500ff" fill-rule="evenodd" d="M607.5 60.2l4-.6 5 .4 14.9 4.5 14.1 2.4 9 3 31.5 12.6 8.8 5 2 2 1 2-.5 2-1.8 1.4-3 1.1-5 .8-39 .9-9 1.7-5 .2-8-1.4-17-5.4-3.4-2.3-2.1-3-4.3-16 .2-4 1.3-3 2.3-2.4zM629.5 244.4l7-.4 7 1.3 17 7.5 21 6.1 11.8 4.6 6.7 4 2 2 .7 2-.3 1-1.9 1.4-7 2-14 .6-21-1.4-16-1.9-6-1.5-4-1.6-3.7-2.6-2.6-3-3.4-6-1.4-5 .3-3 1.8-3 2.8-2z"/>
<path fill="#1c00ff" fill-rule="evenodd" d="M607.5 60.3l4-.6 5 .4 14.5 4.4 14.5 2.6 9 2.9 30.8 12.5 8.8 5 2 2 .9 2-.7 2-1.8 1.3-8 1.8-38 1-9 1.7-5 .2-8-1.3-16-5.2-4-2.5-2.3-3-4.4-16 .2-4 1.3-3 2.2-2.3zM630.5 244.3l7-.1 7 1.5 16 7.2 21 6.2 11.2 4.4 7.7 5 1.4 2 .1 1-1.7 2-6.7 2.1-6 .7-8 0-21-1.4-15-1.6-6-1.4-5-2-4-2.9-2.7-3.5-2.9-5-1.4-5 .4-3 1.8-3 2.8-1.9z"/>
<path fill="#1300ff" fill-rule="evenodd" d="M607.5 60.5l4-.7 5 .4 14 4.3 15 2.7 9 3 30.2 12.3 8.6 5 2 2 .8 2-.8 2-1.4 1-3.4 1.2-5 .7-37 1.1-9 1.7-5 .2-8-1.3-16-5.3-3.7-2.3-2.3-3-4.6-16 .3-4 1.3-3 3-2.8zM630.5 244.5l7-.2 7 1.5 16 7.3 20 5.8 11.6 4.6 6.5 4 2.4 3-.6 2-1.3 1-6.7 2-9.9.7-15-.6-23-2.3-6-1.3-5-1.8-4-2.6-3-3.3-3.4-5.8-1.3-4 .2-4 1.5-2.5 3-2.3z"/>
<path fill="#0a00ff" fill-rule="evenodd" d="M608.5 60.3l4-.4 5 .5 13 4.2 12 1.9 6 1.7 37.6 15.3 6.5 4 2 2 .7 2-1 2-1.8 1.1-3.1.9-5.9.8-35 1-9 1.8-5 .3-8-1.4-16.2-5.5-3.1-2-2.4-3-4-12-.8-4 .3-4 1.3-3 2.9-2.7zM631.5 244.4l6 0 7 1.5 16 7.3 20 5.9 11.1 4.4 7.4 5 1.2 2-.1 1-2.2 2-7.4 2-14 .4-18-1.3-14-1.4-6-1.4-5-1.8-4-2.7-3-3.3-3.3-5.5-1.4-5 .4-3 1.9-3 3.4-2.1z"/>
<path fill="#0100ff" fill-rule="evenodd" d="M608.5 60.4l5-.4 5 .7 12 4 12 1.9 6 1.7 37 15.2 6.4 4 1.9 2 .6 2-1.2 2-1.9 1-8.8 1.5-34 1.2-9 1.8-5 .3-8-1.4-16-5.5-3-1.9-2.5-3-4.1-12-.8-4 .3-4 1.4-3 2.7-2.5zM632.5 244.4l6 .2 6 1.4 16 7.3 20.5 6.2 11.9 5 5.4 4 1.1 2-.2 1-.8 1-2.9 1.5-7.1 1.5-18.9-.1-24-2.2-8-1.8-5-2.1-3.6-2.8-3.2-4-2.8-5-.9-4 .4-3 2.1-3.1 3.1-1.9z"/>
<path fill="#0008ff" fill-rule="evenodd" d="M609.5 60.3l4-.2 5 .7 14.7 4.7 9.3 1.3 7 2 35.3 14.7 6.3 4 1.8 2 .5 2-1.5 2-2.2 1-9.2 1.4-32 1.1-9 1.9-5 .3-8-1.4-16-5.6-3.7-2.7-2-3-3.8-11-.8-5 .7-4 1.9-3 2.7-1.9zM633.5 244.5l5 .2 6 1.5 16 7.3 19.8 6 12 5 5.2 4 .9 2-.2 1-1.7 1.5-3 1.3-8 1.1-17-.2-23-2.1-8-1.9-5-2.2-4-3.2-3.3-4.3-2.5-5-.5-4 .8-3 2.5-2.7 4-1.8z"/>
<path fill="#0011ff" fill-rule="evenodd" d="M609.5 60.5l4-.3 5 .7 14 4.6 10 1.4 7 2.1 34.4 14.5 6.3 4 1.7 2 .3 2-1.7 1.9-2 .8-9 1.4-31 1.3-10 2-5 .1-9-1.9-14-5.2-3.3-2.4-2.1-3-3.9-11-.9-5 .7-4 1.5-2.4 3-2.4zM629.5 245.2l7-.5 7 1.3 5 1.8 12 5.9 19.1 5.8 10 4 6.1 4 1.6 3-1.3 2-1.5.9-5 1.3-13 .5-18-1.1-14-1.4-10-2.9-4-2.4-3-3.1-3.2-4.8-1.6-4-.3-3 1.1-3.4 2.8-2.6z"/>
<path fill="#001aff" fill-rule="evenodd" d="M610.5 60.5l8 .5 13.6 4.5 10.4 1.6 7 2.1 33.5 14.3 6.2 4 1.6 2 .2 2-1.5 1.5-3 1.2-10 1.2-28 1.3-10 2-5 .2-9-1.9-14-5.4-2.9-2.1-2.1-3-4.2-11-.8-5 .7-4 2.1-3 3.2-2.1zM629.5 245.4l7-.6 7 1.3 5 1.9 12 5.9 18.3 5.6 10.1 4 6 4 1.4 3-1.8 2.2-6 1.8-17 .4-24-2-7-1.2-6-2.1-4-2.5-3-3.1-3-4.5-1.7-4-.2-3 .9-3 2-2.2z"/>
<path fill="#0023ff" fill-rule="evenodd" d="M612.5 60.5l6 .6 13.1 4.4 10.9 1.8 7 2 26.4 11.2 8.1 4 5.2 4 .8 2-.5 1.2-2 1.5-3 .9-10 1.1-26 1.3-10 2.1-5 .2-9-1.9-13.7-5.4-3.3-2.5-2.2-3.5-3.9-10-.7-6 1.2-4 2.6-2.8 4-1.8zM630.5 245.3l6-.4 7 1.3 5 1.9 13 6.4 16.5 5 10.1 4 6 4 1.2 2 0 1-.8 1.3-2 1.2-6 1.4-17 .1-23-1.8-7-1.5-6-2.4-4-2.9-2.9-3.4-2.5-4-1.3-4 .1-3 1.6-3 2.6-2z"/>
<path fill="#002cff" fill-rule="evenodd" d="M607.5 61.4l5-.8 5 .4 16 5.2 11 1.8 9 3 23.9 10.5 8.7 5 2 2 .7 2-1.3 1.8-2 .9-7 1.4-31 1.8-8 1.9-5 .4-9-1.6-13-4.9-4-2.6-2.5-3.1-3.8-9-1.3-5 0-4 1.2-3 2.4-2.6zM630.5 245.5l7-.3 7 1.5 17 8 15.7 4.8 10.2 4 5.9 4 1.1 2 0 1-2 2-5.9 1.5-16 .4-23-1.8-7-1.3-6-2.2-4-2.6-3-3.1-3.2-4.9-1.3-4 .2-3 1.6-3 2.7-2z"/>
<path fill="#0035ff" fill-rule="evenodd" d="M608.5 61.2l4-.5 5 .4 16 5.2 9 1.3 5 1.5 8 2.9 23.2 10.5 6.5 4 1.9 2 .5 2-.6 1-2.5 1.4-9 1.6-28 1.7-8 2-5 .4-9-1.6-13-5-3.8-2.5-2.4-3-3.9-9-1.4-5 .1-4 1.1-3 2.3-2.4zM631.5 245.4l6-.1 7 1.5 16 7.7 18.8 6 9.2 4 4 3 1 2-.1 1-2.4 2-5.5 1.3-16 .3-22-1.6-7-1.3-6-2.3-4-2.7-3-3.1-3-4.6-1.3-4 .2-3 1.6-3 2.9-2z"/>
<path fill="#003eff" fill-rule="evenodd" d="M608.5 61.3l4-.5 5 .4 16 5.3 9 1.3 5 1.4 8 3 22.4 10.3 7.4 5 1.1 2-.1 1-.7 1-2.1 1.1-9 1.6-27 1.9-8 2-6 .3-8-1.5-13-5.2-3.4-2.2-2.6-3.1-3.6-7.9-1.8-6 .1-4 1.2-3 2.1-2.3zM632.5 245.4l6 .1 6 1.4 16 7.7 18.1 5.9 9.1 4 4 3 .9 2-.2 1-2.8 2-6.1 1.1-15 .2-22-1.6-7-1.5-6-2.5-4-3.2-3-3.5-2.2-4-1-4 .6-3 1.6-2.2 3-1.9z"/>
<path fill="#0047ff" fill-rule="evenodd" d="M608.5 61.5l4-.6 5 .4 16 5.3 9 1.3 6 1.8 9.4 3.8 19.2 9 7.2 5 1 2-.3 1-.9 1-2.6 1.1-8 1.3-26 2-8 2-5 .5-9-1.6-12-4.7-4.1-2.6-2.6-3-3.8-8-1.7-6 .1-4 1.2-3 2.9-2.8zM633.5 245.5l6 .3 6 1.6 15 7.4 17.3 5.7 9.2 4 3.9 3 .8 2-.3 1-3.3 2-6.6 1-13 .1-22-1.5-8-1.9-5-2.3-4-3.1-3-3.6-2.1-3.7-.9-4 .7-3 2.3-2.8 3-1.5z"/>
<path fill="#0050ff" fill-rule="evenodd" d="M609.5 61.3l4-.3 5 .6 15 5.1 9 1.4 6 1.8 10 4.1 17.8 8.5 4.9 3 2.1 2 .8 2-.4 1-4.2 2.2-8 1.1-24 1.9-8 2.1-5 .5-9-1.6-12-4.8-3.8-2.4-2.7-3-3.9-8-1.7-6 .1-4 1.3-3 2.7-2.6zM629.5 246.4l6-.8 8 1.3 6 2.3 12 6.2 12.8 4.1 10 4 4.8 3 1.5 2 .2 1-1.7 2-3.6 1.1-14 .9-23-1.4-7-1.2-6-2.1-4-2.5-3-2.8-2.9-4-1.6-4-.2-3 1.2-3 2.1-2z"/>
<path fill="#0059ff" fill-rule="evenodd" d="M609.5 61.5l4-.4 5 .6 16 5.4 8 1.2 6 1.7 10 4.2 17.1 8.3 5.9 4 1.3 2 .1 1-.5 1-2.9 1.6-9 1.5-23 2-9 2.3-5 .2-9-1.8-11-4.6-4-2.6-2.9-3.6-3.8-8-1.3-5 .2-4 1.2-3 2.6-2.5zM630.5 246.3l7-.5 7 1.5 17 8.3 14 4.6 8 3.3 4.8 3 1.4 2 .1 1-2 2-4.3 1.1-14 .6-21-1.2-6-1-7-2.4-4-2.5-3-2.9-2.7-3.7-1.6-4-.2-3 1.2-3 2.3-2z"/>
<path fill="#0062ff" fill-rule="evenodd" d="M610.5 61.4l4-.2 5 .8 15 5.3 8 1.1 7 2.1 9.3 4 16 8 5.8 4 1.2 2 0 1-.7 1-2.6 1.4-9.4 1.6-21.6 1.9-9 2.4-5 .2-9-1.8-11.1-4.7-3.9-2.7-2.7-3.3-3.9-8-1.3-5 .2-4 1.7-3.5 3-2.4zM630.5 246.4l7-.5 7 1.5 17 8.4 14.1 4.7 7.1 3 4.8 3 1.4 2-.1 1-.7 1-1.8 1-4.8 1-13 .4-21-1.2-6-1.1-6-2.2-4-2.5-3-2.9-2.5-3.5-1.7-4-.1-3 1.3-3 2-1.8z"/>
<path fill="#006bff" fill-rule="evenodd" d="M611.5 61.4l8 .7 15 5.3 8 1.2 7 2.1 10 4.3 16.3 8.5 2.9 2 1.7 2 .2 2-.8 1-4.3 1.7-9 1.3-19 1.7-9 2.4-5 .3-9-1.8-12-5.3-4-3.3-2.6-4-3.2-7-1-5 .5-4 1.9-3 3.4-2.2zM631.5 246.3l7-.1 7 1.7 16 8.1 13.4 4.5 8.9 4 3.7 3 .3 2-.9 1-2.3 1-5.1.9-11 .3-22-1.2-7-1.6-5-2.2-4-2.9-3-3.3-2.3-4-.8-3 .2-3 1.1-2 2.5-2z"/>
<path fill="#0074ff" fill-rule="evenodd" d="M612.5 61.4l7 .8 15 5.3 8 1.2 7 2.1 10 4.4 15.6 8.3 2.7 2 1.7 2 0 2-1 1-4 1.4-10 1.5-17 1.7-8 2.2-6 .5-9-1.8-12-5.4-3.8-3.1-2.7-4-3.2-7-1-6 .7-3.3 2-2.9 4-2.2zM631.5 246.5l7-.2 7 1.7 16 8.2 12.7 4.3 8.8 4 3.6 3 .1 2-3.2 1.8-5 .8-10 .4-21-1.1-6-1.1-6-2.2-3.9-2.6-3.1-3-2.7-4-1.1-3-.1-3 1.4-3 2.5-2z"/>
<path fill="#007dff" fill-rule="evenodd" d="M608.5 62.2l5-.7 6 .8 15 5.4 8 1.2 7 2.1 11 5 13.8 7.5 2.7 2 1.6 2-.3 2-1.2 1-9.6 2.3-20 2.1-8 2.3-5 .6-9-1.6-10-4-4.4-2.7-3-3-3.5-6-2.3-6-.4-4 1.1-4 2.5-2.8zM632.5 246.4l6 0 7 1.7 16 8.3 12 4.1 6.9 3 4.5 3 1.1 2-.4 1-1.4 1-5.7 1.3-10 .5-21-1-6-1.1-6-2.3-4-2.7-3.6-3.7-2.4-4-.8-3 .3-3 1.5-2.3 2.4-1.7z"/>
<path fill="#0086ff" fill-rule="evenodd" d="M608.5 62.3l6-.7 6 1.1 14 5.1 8 1.2 7 2.2 11 5 13 7.3 2.7 2 1.4 2-.5 2-1.4 1-9.2 2.1-19 2.2-8 2.3-5 .6-9-1.5-10-4.2-4.1-2.5-3.1-3-3.6-6-2.2-6-.5-4 1.1-4 2.4-2.7zM633.5 246.4l6 .3 6 1.6 16 8.3 13.8 4.9 6.1 3 3.3 3 .2 1-.5 1-2.9 1.4-5 .8-8 .3-22-.9-6-1.3-6-2.6-3-2.2-3.4-3.5-2.4-4-.8-3 .3-3 1.3-2 3-2.1z"/>
<path fill="#008fff" fill-rule="evenodd" d="M608.5 62.4l6-.7 6 1 14 5.2 8 1.3 7 2.1 11 5.1 12.2 7.1 2.6 2 1.3 2-.7 2-1.8 1-8.8 2-6.8 1.2-11 .9-8 2.4-5 .6-9-1.5-10-4.2-5-3.3-2.8-3.1-2.9-5-2.2-6-.5-4 1.2-4 2.2-2.5zM634.5 246.5l5 .3 6 1.6 16 8.4 13.1 4.7 6 3 3.2 3 .1 1-.8 1-2.6 1.2-6 .9-7 .2-21-.9-7-1.6-5-2.3-4-3.1-2.9-3.4-2.1-4-.4-3 .9-3 1.9-2 2.6-1.3z"/>
<path fill="#0098ff" fill-rule="evenodd" d="M609.5 62.3l5-.5 6 1 14 5.2 8 1.3 7 2.2 10.8 5 10.4 6 3.8 3 1.1 2-1 2-2.1 1-8.8 2-16.2 2-9 2.6-5 .4-8-1.5-11-4.8-4-2.8-3-3.5-3.5-6.4-1.5-5-.1-4 1-3 2.1-2.4zM630.5 247.4l6-.8 8 1.5 5 2.2 12 6.7 16.6 6.5 4.2 3 .5 2-2.3 1.6-4 .9-8 .6-21-.7-5-.9-6-2.1-3.9-2.4-3.1-2.8-2.4-3.2-1.4-3-.5-3 1-3 2-2z"/>
<path fill="#00a1ff" fill-rule="evenodd" d="M609.5 62.4l5-.5 6 1 14 5.3 8 1.2 7 2.2 11 5.2 9.6 5.7 3.5 3 1 2-1.1 1.8-2.3 1.2-8.6 2-15.1 1.8-9 2.7-5 .4-8-1.5-11-4.8-4-2.9-3-3.5-3.4-6.2-1.5-5-.1-4 1.1-3 1.9-2.2zM631.5 247.2l6-.4 7 1.5 5.2 2.2 11.8 6.7 15.9 6.3 4 3 .3 2-2.2 1.4-4 .9-7 .5-21-.5-6-1.2-6-2.4-3.9-2.7-2.9-3-2-3-1.1-3 0-3 .8-2 2.1-2z"/>
<path fill="#00aaff" fill-rule="evenodd" d="M609.5 62.5l5-.5 6 1 14 5.3 8 1.3 7 2.2 11 5.3 10.3 6.4 2 2 .8 2-1.6 2-2 1-8.4 2-14.1 1.6-9 2.8-5 .4-8-1.5-11-4.8-4-2.9-3-3.6-3.3-6-1.5-5-.1-4 1.1-3 2.8-2.8zM631.5 247.4l7-.4 7 1.7 16 8.7 15.1 6.1 3 2 1.2 2-.3 1-1.4 1-3.9 1-6.7.6-21-.5-6-1.1-6-2.4-3.7-2.6-2.9-3-2-3-1.1-3 0-3 .8-2 2.2-2z"/>
<path fill="#00b3ff" fill-rule="evenodd" d="M610.5 62.4l5-.2 6 1.2 13 5 8 1.3 7 2.3 11.4 5.5 9.2 6 1.8 2 .6 2-.5 1-2.5 1.7-9 2.3-13 1.5-9 2.7-5 .5-9-1.8-10-4.6-4-2.9-2.8-3.4-3.3-6-1.6-5-.1-4 1.2-3 2.6-2.6zM632.5 247.3l6-.2 7 1.8 16 8.7 14.3 5.9 2.8 2 .8 1 .1 1.5-2.1 1.5-4.9 1-14 .3-12-.4-6-1.4-5-2.1-3.5-2.4-2.9-3-2-3-1.1-3 0-3 .9-2 2.3-2z"/>
<path fill="#00bcff" fill-rule="evenodd" d="M611.5 62.3l4 0 5 .9 14 5.4 8 1.3 7 2.3 9.2 4.3 8 5 4.4 4 .4 2-.6 1-3.4 1.9-9 2.2-11 1.2-9 2.8-6 .4-9-2-10-4.9-3.2-2.6-3.2-4-3-6-1.3-5 .3-4 1.7-3 2.7-2zM632.5 247.5l6-.2 7 1.7 5 2.3 11 6.5 13.4 5.7 2.7 2 .9 2-.7 1-2.3 1-5 .8-24-.1-6-1.3-5.3-2.4-5.9-5-2-3-1.1-3 0-3 1-2 2.3-2z"/>
<path fill="#00c5ff" fill-rule="evenodd" d="M611.5 62.5l4-.1 4 .6 15 5.7 11 2.3 7 2.6 9.1 4.9 7.1 5 1.6 2 .3 2-.7 1-2.4 1.4-9.8 2.6-10.2 1.1-9 2.9-6 .4-9-2-10-5-3.9-3.4-2.9-4-2.5-5-1.3-5 .4-4 1.7-3 2.5-1.9zM633.5 247.5l6 0 6 1.6 5 2.4 11 6.6 12.5 5.4 2.6 2 .6 2-2.7 1.7-5 .8-23 .1-6-1.4-6-2.8-3.1-2.4-2.7-3-1.7-3-.8-3 .6-3 1.6-2 2.1-1.2z"/>
<path fill="#00ceff" fill-rule="evenodd" d="M612.5 62.5l8 .9 15 5.7 7 1.1 5 1.6 6.5 2.7 7.1 4 6.9 5 1.5 2 .1 2-2.4 2-6 2-5 1-8.7.9-9 3-6 .4-9-2-10-5-4-3.6-3.3-4.7-2.3-5-.9-5 .8-4 1.7-2.3 3-1.9zM634.5 247.5l6 .3 6 1.9 15 8.6 11.6 5.2 2.5 2 .3 2-2.4 1.4-6 .9-15 .4-7-.4-6-1.6-5.3-2.7-5.3-5-1.7-3-.8-3 .7-3 1.4-1.8 3-1.6z"/>
<path fill="#00d7ff" fill-rule="evenodd" d="M608.5 63.5l5-1 7 1 15 5.8 7 1.1 6.5 2.1 8.4 4 9.9 7 1.7 3-.5 1.2-2 1.5-8 2.7-12 1.6-8 2.7-5 .6-9-1.8-9-4.1-4-2.8-3-3.3-2.7-4.3-2.1-5-.6-4 .5-3 1.8-3zM631.5 248.3l6-.7 8 1.8 5 2.4 11 6.8 8.9 3.9 3.1 2 1.4 2-.3 1-1.1.7-4 1.1-12 .7-10-.1-6-1.2-5.4-2.2-5.6-4.4-2.1-2.6-1.4-3-.3-3 .6-2 1.8-2z"/>
<path fill="#00e0ff" fill-rule="evenodd" d="M609.5 63.2l6-.5 6 1.1 14 5.6 7 1.2 7 2.3 9.2 4.6 7.8 6 1.6 3-.6 1.3-2 1.3-4 1.7-5 1.2-10 1.3-8 2.8-5 .6-4-.4-5-1.4-9-4.1-4-2.9-3.1-3.4-3-5-1.8-5-.3-4 .8-3 2.4-2.8zM631.5 248.5l6-.8 8 1.8 5 2.5 11 6.9 8 3.6 3.1 2 1.1 2-1.2 1.4-4 1.1-11 .7-10 0-5-.8-6.1-2.4-5.9-4.6-3.3-5.4-.3-3 .7-2 1.8-2z"/>
<path fill="#00e9ff" fill-rule="evenodd" d="M609.5 63.4l6-.6 6 1.1 14 5.6 7 1.2 7 2.4 8.8 4.4 7.5 6 1.3 2 .1 1-1.7 2-3 1.5-7 2-9 1.1-8 2.9-5 .6-4-.4-5-1.4-9.3-4.3-4-3-3.4-4-2.8-5-1.3-4-.3-4 .9-3 2.2-2.6zM632.5 248.3l6-.3 7 1.7 5.7 2.8 10.3 6.6 7.2 3.4 2.9 2 .9 2-2 1.5-4 .8-9 .7-11 0-6-1.4-5-2.3-3.1-2.3-2.8-3-2.4-5 .2-3 1.1-1.9z"/>
<path fill="#00f2ff" fill-rule="evenodd" d="M609.5 63.5l6-.6 6 1.1 14 5.7 7 1.2 7 2.3 8.3 4.3 4.3 3 3 3 1.2 2 0 1-.5 1-3.3 2.2-7 2-9 1.2-8 3-5 .6-8-1.4-10-4.6-4-2.9-3-3.4-2.9-4.7-1.8-5-.3-4 .9-3 2.1-2.5zM633.5 248.3l6-.1 7 2 4.4 2.3 11.6 7.5 6.9 3.5 1.9 2-.1 1-.7.7-2 .9-5 .5-11 .9-7-.3-6-1.6-5-2.6-3-2.5-2.4-3-1.5-3-.3-2 .3-2 1.3-2 1.6-1.2z"/>
<path fill="#00fbff" fill-rule="evenodd" d="M610.5 63.3l5-.4 6 1.2 14 5.7 7 1.2 7 2.4 7.9 4.1 6.3 5 1.5 2 .2 2-3.3 3-6.6 2-9 1.3-8 3-5 .6-8-1.4-10-4.6-3.9-2.9-3.1-3.5-2.8-4.5-1.8-5-.3-4 1-3 1.9-2.3zM633.5 248.4l6 0 7 2 22 13.1 1.7 2-.2 1-1.6 1-4.9.8-10 1-8-.2-6-1.7-5-2.6-2.8-2.3-2.4-3-1.5-3-.3-2 .4-2 1.3-2z"/>
<path fill="#00fffa" fill-rule="evenodd" d="M610.5 63.4l5-.4 6 1.2 14 5.7 7 1.3 7 2.4 9.1 4.9 4.6 4 1.3 2 .1 2-3.2 3-6.9 2-8 1.1-9 3.3-5 .4-8-1.7-9-4.3-3.8-2.8-3.2-3.6-2.7-4.4-1.8-5-.2-4 .9-3 2.8-2.8zM634.5 248.4l6 .3 6 1.8 21 13 1.6 2-.5 1-7.1 1.8-9 .9-7-.3-6-1.6-5.1-2.8-4.9-5-1.5-3-.3-2 .4-2 1.4-2 2-1.3z"/>
<path fill="#00fff1" fill-rule="evenodd" d="M610.5 63.5l5-.4 6 1.1 14 5.8 7 1.3 7 2.4 8.9 4.8 4.6 4 1.2 2 .1 2-1.6 2-1.6 1-7.6 2.1-7 .9-9 3.3-5 .4-9-2-8-3.9-4-3.1-3-3.4-2.6-4.3-1.8-5-.3-4 1-3 2.7-2.8zM635.5 248.4l6 .5 6 2.1 19.5 12.5 1.5 2-.6 1-7.4 1.8-9 .8-6-.2-7-2.1-5-3-4.5-5.3-1.1-3 0-2 .8-2 1.8-1.6z"/>
<path fill="#00ffe8" fill-rule="evenodd" d="M611.5 63.3l5-.1 6 1.4 13 5.4 7 1.3 7 2.4 8.7 4.8 4.6 4 1.2 2 0 2-1.6 2-1.6 1-8.3 2.1-6 .8-9 3.4-5 .4-9-2.1-9-4.6-3.7-3-3.1-4-2.7-5-1.1-4 .2-4 1.4-2.9 2.5-2.1zM635.5 248.5l6 .5 6 2.1 19 12.4 1.4 2-.8 1-7.6 1.9-9 .7-6-.5-6-1.9-5.2-3.2-4.3-5-1-3 0-2 .9-2 1.6-1.5z"/>
<path fill="#00ffdf" fill-rule="evenodd" d="M611.5 63.4l5-.2 6 1.4 13 5.5 7 1.3 7 2.4 8.6 4.7 4.5 4 1.1 2 0 2-1.6 2-1.7 1-7.9 2.1-6 .8-9 3.3-5 .4-9-2-9-4.6-3.6-3-3.2-4-2.6-5-1.1-4 .1-4 1.4-2.9 2.6-2.1zM636.5 248.5l6 .8 5.7 2.2 17.8 12 1.3 2-1 1-8.2 2-7.6.5-6-.4-7-2.4-5-3.5-3.8-5.2-.6-4 .9-2 1.5-1.4 3-1.3z"/>
<path fill="#00ffd6" fill-rule="evenodd" d="M611.5 63.4l5-.1 6 1.3 13 5.6 7 1.3 7 2.4 8.4 4.6 4.5 4 1.1 2-.1 2-1.6 2-1.7 1-7.8 2-5.8.8-9 3.4-5 .4-9-2-9-4.7-3.5-2.9-3.2-4-2.7-5-1.1-4 .2-4 1.3-2.8 2.7-2.2zM632.5 249.2l4-.6 5 .5 5 1.7 5.1 2.7 14.9 11 .1 1-1.2 1-3.9 1.1-8 1.2-7 0-6-1.4-5-2.5-5-4.4-2.3-5 0-2 .9-2z"/>
<path fill="#00ffcd" fill-rule="evenodd" d="M611.5 63.5l5-.2 6 1.4 13 5.5 7 1.3 7 2.5 8.2 4.5 4.5 4 1.1 2-.1 2-1.6 2-1.9 1-8.2 2-5 .7-9 3.4-5 .4-9-2-9-4.6-3.5-2.9-3.2-4-2.6-5-1.1-4 .1-4 1.3-2.7 2.8-2.3zM632.5 249.3l4-.7 5 .6 5 1.6 4.9 2.7 12.5 9 2 2 0 1-1.3 1-4.1 1.2-8 1.1-7-.2-5-1.3-5-2.4-4.9-4.4-2.3-5 0-2 .9-2z"/>
<path fill="#00ffc4" fill-rule="evenodd" d="M612.5 63.4l4 0 4 .7 15 6.2 9.7 2.2 6.3 2.5 7.4 4.5 3.8 4 .5 2-.8 2-3.9 2.3-8 1.8-5 .8-8 3.2-6 .3-9-2.3-9-5-3.3-3.1-3-4-2.3-5-.9-4 .3-3 1.5-3 2.7-2zM632.5 249.4l5-.7 5 .8 5 1.8 5.3 3.2 10.7 8 1.9 2-.1 1-1.4 1-4.4 1.4-8 .9-6-.3-6-1.7-4.4-2.3-4.4-4-2.3-5 0-2 1-2z"/>
<path fill="#00ffbb" fill-rule="evenodd" d="M612.5 63.4l4 0 4 .8 15 6.1 9.5 2.2 6.5 2.6 7.2 4.4 3.8 4 .4 2-.8 2-3.6 2.2-8.1 1.8-4.9.9-8 3.1-5 .5-9-2-9-4.7-4-3.5-3.2-4.3-2.4-5-.8-4 .2-3 1.6-3 2.6-2zM632.5 249.5l5-.7 5 .7 5 1.9 5.2 3.1 9.3 7 2.8 3-.1 1-1.5 1-3.7 1.2-8 1-6-.2-6-1.7-4.3-2.3-4.4-4-2.3-5 0-2 1-2z"/>
<path fill="#00ffb2" fill-rule="evenodd" d="M612.5 63.4l4 .1 4 .7 15 6.2 9.3 2.1 6.7 2.6 7.1 4.4 3.7 4 .4 2-.8 2-4.4 2.4-7.8 1.6-4.2.8-8 3.2-6 .4-5-1-5-1.8-8-4.6-3.2-3-3-4-2.4-5-.8-4 .3-3 1.6-3 2.7-2zM633.5 249.2l5-.3 6.8 1.6 5.8 3 7 5 4.8 4 1.4 2-.2 1-1.5 1-5.1 1.5-7 .6-6-.4-6-1.9-4.6-2.8-4.3-5-1.1-4 1.1-3z"/>
<path fill="#00ffa9" fill-rule="evenodd" d="M612.5 63.5l4 0 4 .7 15 6.2 9.1 2.1 6.9 2.7 6.9 4.3 3.7 4 .4 2-.9 2-4.1 2.3-8.6 1.7-3.4.7-8 3.2-6 .4-5-.9-5-1.8-7.9-4.6-3.3-3-3.5-5-1.8-4-.8-4 .3-3 1.6-3 2.7-2zM633.5 249.3l5-.3 5 .9 5 2.1 5.4 3.5 7.6 6 2.4 3-.4 1-1.4 1-3.6 1.2-7 .8-6-.1-6-1.8-5-2.8-4.2-4.3-1.7-4 .1-2 1.1-2z"/>
<path fill="#00ffa0" fill-rule="evenodd" d="M613.5 63.5l8 1.1 14 5.9 7 1.4 4.7 1.6 4.7 2 6.3 4 3.7 4 .4 2-1 2-4.8 2.5-8.3 1.5-10.7 3.9-6 .4-5-1-5-1.8-8-4.6-3.9-3.9-2.7-4-2.2-5-.5-4 .7-3 1.6-2.4 3-1.8zM633.5 249.4l5-.4 6.5 1.5 5.9 3 6.8 5 4.6 4 1.1 2-.3 1-1.5 1-4.1 1.3-7 .7-6-.4-6-2-4.3-2.6-3.8-4-1.7-4 .1-2 1.1-2z"/>
<path fill="#00ff97" fill-rule="evenodd" d="M613.5 63.5l4 .2 4 .9 14 6 7 1.4 4.5 1.5 4.7 2 6.3 4 3.7 4 .4 2-1 2-1.6 1.2-4 1.5-7.8 1.3-10.2 3.8-6 .4-9-2.3-5-2.4-4-2.7-3.9-3.8-2.7-4-2.1-5-.5-4 .6-3 1.6-2.3 3-1.9zM633.5 249.5l5-.4 5 1 5 2.1 5.2 3.3 6.3 5 2.7 3 .3 1-.4 1-4.2 2-6.9.9-6-.2-6-1.7-5-2.8-4-4.2-1.7-4 .2-2 1-2z"/>
<path fill="#00ff8e" fill-rule="evenodd" d="M609.5 64.4l5-.9 7 1.1 14 6 7 1.4 6 2.2 6.5 3.3 5.1 4 1.4 2 .3 2-1 2-1.3 1-8 2.4-6 1.1-8 3.3-5 .5-8-1.7-9-4.4-4-3.2-2.6-3-3-5-1.3-4-.3-3 .7-3 1.5-2.2zM634.5 249.3l5 0 6 1.5 5.1 2.7 6.8 5 4.3 4 .9 2-.4 1-1.5 1-3.2 1.1-7 .8-6-.4-6-2-4.1-2.5-3.9-4.1-1.4-2.9-.2-2 .5-2 1.1-1.3z"/>
<path fill="#00ff85" fill-rule="evenodd" d="M609.5 64.4l5-.9 7 1.2 14 6 7 1.4 6 2.1 6.3 3.3 5.1 4 1.4 2 .3 2-1 2-1.4 1-7.7 2.3-5 .8-8 3.4-5 .7-8-1.3-9-4.1-3.9-2.8-3.1-3.3-2.5-3.7-2.1-5-.5-4 .6-3 1.5-2.1zM634.5 249.4l5-.1 6 1.6 5 2.6 8 6 3 3 .8 2-2 2-3.8 1.1-7 .7-5-.4-6-2-5-3.2-3.5-4.2-1-4 1.5-3.2z"/>
<path fill="#00ff7c" fill-rule="evenodd" d="M609.5 64.5l5-.9 7 1.1 14 6 7 1.5 6 2.1 6.2 3.2 5 4 1.4 2 .3 2-.9 1.8-1.6 1.2-8.4 2.4-5 .9-8 3.4-5 .5-8-1.6-9-4.5-3.9-3.1-2.6-3-3-5-1.3-4-.3-3 .7-3 1.4-2.1zM634.5 249.5l5-.1 6 1.6 5 2.6 6.7 4.9 4 4 .7 2-2 2-3.4 1-7 .7-5-.3-5-1.6-5-2.9-4-4.3-1.2-2.6-.2-2 1.4-3.1z"/>
<path fill="#00ff73" fill-rule="evenodd" d="M610.5 64.2l6-.5 6 1.3 14 6.1 6 1.1 6.3 2.3 7.2 4 4.3 4 .9 2-.4 2-1.3 1.4-3 1.5-7 1.5-4 .9-8 3.3-5 .5-8-1.6-9.1-4.5-3.7-3-2.7-3-2.9-5-1.4-4-.1-4 .9-2.6 2-2.3zM635.5 249.4l5 .2 6 1.9 5.3 3 6.4 5 2.8 3 .6 2-2.1 2-4 1.1-6 .6-5-.4-6-2-5-3.3-3.3-4-1-4 1.4-3 1.9-1.3z"/>
<path fill="#00ff6a" fill-rule="evenodd" d="M610.5 64.2l5-.5 6 1.1 15 6.4 6 1.1 6.1 2.2 5.8 3 4.9 4 1.4 2 .3 2-1.2 2-1.6 1-7.7 2.2-5 1-8 3.4-5 .5-8-1.6-9-4.5-3.8-3-2.6-3-3-5-1.3-4-.2-4 .9-2.5 2-2.3zM635.5 249.5l5 .2 6 1.8 5.2 3 7.4 6 2.1 3-.6 2-2.1 1.3-4 .8-6 .5-5-.6-5.4-2-4.6-3.1-3.2-3.9-1-4 1.4-3 1.8-1.2z"/>
<path fill="#00ff61" fill-rule="evenodd" d="M610.5 64.3l5-.6 6 1.1 15 6.4 6 1.2 5.9 2.1 5.8 3 4.9 4 1.4 2 .2 2-1.2 2-1.6 1-7.4 2.2-5 .9-8 3.5-5 .5-8-1.7-9-4.4-3.7-3-2.7-3-2.9-5-1.4-4-.1-4 .8-2.4 2-2.3zM636.5 249.5l5 .4 6 2.2 5.5 3.4 5.9 5 2.1 3-.7 2-1.8 1.1-5 1.1-6 .3-5-.9-6-2.5-3.8-3.1-2.8-4-.5-2 .2-2 .9-1.6 1.8-1.4z"/>
<path fill="#00ff58" fill-rule="evenodd" d="M610.5 64.3l5-.5 6 1 15 6.5 6 1.1 5.7 2.1 5.8 3 5 4 1.3 2 .2 2-1 1.7-1.9 1.3-7.1 2.1-5 .9-8 3.5-5 .5-8-1.6-8-3.8-4-3-3.3-3.6-3-5-1.4-4-.2-3 .9-3.3 2-2.4zM632.5 250.5l4-1 4 .3 5 1.4 5 2.7 7.2 5.6 2.6 3 .2 2.3-3 2-6 1-6 0-4.8-1.3-4.2-2-4.6-4-2.2-4-.2-2 .7-2z"/>
<path fill="#00ff4f" fill-rule="evenodd" d="M610.5 64.4l5-.6 6 1.1 15 6.5 6 1.1 5.5 2 5.9 3 4.9 4 1.3 2 .2 2-1.4 2-1.6 1-6.9 2-4.9.9-8 3.6-5 .5-8-1.6-8-3.8-4-3-3.3-3.6-3-5-1.3-4-.2-3 .8-3.2 2-2.4zM633.5 250.2l4-.6 5 .7 5 1.9 5.2 3.3 5.9 5 1.9 3-.8 2-4.2 1.6-6 .8-5-.4-5-1.6-4.3-2.4-4-4-1.6-4 .7-3z"/>
<path fill="#00ff46" fill-rule="evenodd" d="M610.5 64.4l5-.6 6 1.1 15 6.5 6 1.2 5.3 1.9 5.9 3 4.9 4 1.3 2 .2 2-1.4 2-1.7 1-7.2 2-4.3.9-8 3.5-5 .5-8-1.6-8.8-4.3-3.8-3-2.6-3-3-5-1.4-4-.2-3 .8-3.1 2-2.4zM633.5 250.3l4-.6 5 .7 5 1.9 5.1 3.2 5.8 5 1.8 3-.8 2-3.9 1.5-6 .8-5-.3-5-1.6-4.2-2.4-4-4-1.6-4 .7-3z"/>
<path fill="#00ff3d" fill-rule="evenodd" d="M610.5 64.5l5-.6 6 1 14 6.2 8 1.9 6 2.3 4 2.2 4.9 4 1.3 2 .2 2-1.4 1.9-1.8 1.1-7.2 1.9-4 .9-8 3.6-5 .5-8-1.6-9-4.5-4-3.3-2.9-3.5-2.3-4-1.3-4-.2-3 .7-3 2-2.5zM633.5 250.4l4-.7 5 .7 5 1.9 5 3.2 5.8 5 1.7 3-.9 2-3.6 1.4-5 .8-5.4-.2-5.6-1.7-4.1-2.3-4-4-1.6-4 .8-3z"/>
<path fill="#00ff34" fill-rule="evenodd" d="M611.5 64.2l5-.2 6 1.3 14 6.2 6 1.2 6 2.3 6.3 3.5 4.2 4 .7 2-.6 2-3.6 2.4-7 1.6-3 .7-8 3.6-5 .6-8-1.6-9-4.5-4-3.3-2.8-3.5-2.8-5-1-4 0-3 1.3-3 2.3-2.1zM633.5 250.5l4-.7 5 .7 5 1.9 4.9 3.1 5.7 5 1.7 3-1 2-3.3 1.3-5 .8-5-.1-5-1.4-5-2.6-4-4-1.6-4 .8-3z"/>
<path fill="#00ff2b" fill-rule="evenodd" d="M611.5 64.3l5-.3 6 1.3 14 6.3 6 1.2 6 2.2 6.2 3.5 4.1 4 .6 3-.9 1.4-2.4 1.6-7.6 1.9-3 .7-8 3.7-5 .5-8-1.6-9-4.5-4-3.3-2.8-3.4-2.3-4-1.3-4-.1-4 1.2-3 2.3-2zM634.5 250.2l5-.2 5 1.2 4.8 2.3 4.3 3 4.3 4 1.6 3-1 2-4 1.4-5 .7-5-.3-5.4-1.8-4.8-3-2.8-3.2-1.5-3.8.8-3 1.7-1.5z"/>
<path fill="#00ff22" fill-rule="evenodd" d="M611.5 64.3l5-.2 6 1.3 14 6.2 6 1.3 6 2.2 6 3.4 4.1 4 .7 2-.7 2-4.1 2.5-7 1.5-10 4.2-6 .5-9-2.3-7.9-4.4-3.4-3-3.1-4-2.1-4-1-4 0-3 1.3-3 2.2-2zM634.5 250.3l5-.2 5 1.1 4.7 2.3 5.4 4 4 4 .7 2-1.1 2-4.7 1.5-5 .5-5-.5-5-1.9-4-2.6-3-3.3-1.4-3.7.9-3z"/>
<path fill="#00ff19" fill-rule="evenodd" d="M611.5 64.4l5-.3 6 1.3 14 6.3 6 1.2 6.7 2.6 5.2 3 4 4 .7 2-.6 1.8-4 2.6-7 1.5-9.5 4.1-5.5.8-8-1.6-9-4.6-4-3.3-2.7-3.3-2.3-4-1.3-4-.1-4 1.3-3 2.1-1.9zM634.5 250.4l4-.4 5 1 5 2.2 4.8 3.3 4.3 4 1.5 3-1.2 2-3.4 1.2-5 .7-5-.3-5-1.6-4.9-3-3.1-3.5-1.3-3.5.9-3z"/>
<path fill="#00ff10" fill-rule="evenodd" d="M611.5 64.4l5-.3 6 1.3 14 6.4 6 1.2 6.5 2.5 5.2 3 4 4 .7 2-.4 1.4-3.3 2.6-7.7 1.8-9 4-6 .9-8-1.6-9-4.5-4-3.4-2.7-3.2-2.3-4-1.3-4-.1-4 1.3-3 2.1-1.9zM634.5 250.5l4-.4 5 .9 5 2.2 4.7 3.3 4.2 4 1.5 3-1.3 2-3.1 1.1-5 .8-5-.3-5-1.7-4.8-2.9-3.2-3.6-1.2-3.4.9-3z"/>
<path fill="#00ff07" fill-rule="evenodd" d="M611.5 64.5l5-.3 6 1.3 14 6.3 6 1.3 6.3 2.4 5.2 3 4 4 .5 3-1.8 2-1.8 1-7.4 1.7-9 4-6 1-4-.5-5-1.5-8-4.1-4-3.4-2.6-3.2-2.3-4-1.4-4-.2-3 .9-3 2.6-2.8zM635.5 250.4l4-.1 5.2 1.2 4.8 2.4 4.8 3.6 3.7 4 .7 2-1.5 2-3.7 1.2-5 .6-5-.5-5-1.9-4-2.7-3.1-3.7-.9-4 .9-2 1.1-1z"/>
<path fill="#03ff00" fill-rule="evenodd" d="M612.5 64.3l5 0 6 1.5 13 6.1 6 1.2 6.1 2.4 5.3 3 3.9 4 .7 2-.9 2-4.1 2.4-7.3 1.6-8.6 4-6.1.6-5-.9-4-1.4-8-4.5-3.1-2.8-3.1-4-2.1-4-1.1-4 .1-3 1.4-3 2.3-2zM635.5 250.4l4-.1 5 1.2 5 2.5 4.6 3.5 3.7 4 .6 2-1.5 2-3.4 1.2-5 .5-5-.5-5-1.9-4-2.7-3-3.6-.9-4 1.9-2.9z"/>
<path fill="#0cff00" fill-rule="evenodd" d="M612.5 64.4l5 0 6 1.5 13 6.1 6 1.3 5.8 2.2 5.3 3 3.9 4 .6 2-.6 1.6-3.4 2.4-8.2 2-8.4 3.9-6 .6-5-.9-4-1.4-8-4.5-3-2.7-3.1-4-2.1-4-1.1-4 .1-3 1.4-3 2.4-2zM636.5 250.4l5 .4 5 1.6 5 3.1 3.5 3 2.5 3 .6 2-1.8 2-3.8 1.2-5 .4-4.3-.6-5.1-2-4.1-3-2.8-4-.4-3 1.7-2.7z"/>
<path fill="#15ff00" fill-rule="evenodd" d="M612.5 64.5l5-.1 6 1.6 13 6.1 6 1.3 5.4 2.1 5.4 3 3.9 4 .3 3-1.9 2-2.1 1-8 2-8 3.9-6 .6-8-1.9-5-2.4-4-2.6-3-2.7-3.1-3.9-2.1-4-1-4 .1-3 1.4-3 2.5-2zM633.5 251.4l4-.9 4 .4 4 1.2 4.4 2.4 4.9 4 2.8 4-.5 2-2.6 1.5-4 .9-5 0-4.9-1.4-4.1-2.1-3.3-2.9-2.1-4 .2-3z"/>
<path fill="#1eff00" fill-rule="evenodd" d="M613.5 64.4l5 .3 5 1.3 13 6.2 6 1.3 6 2.4 5.8 3.6 1.9 2 1 2-.1 2-.7 1-3.5 2-8.4 2.3-7 3.5-3 .6-4-.1-4-.8-5-1.8-8-5-3-3-2.6-3.7-1.8-4-.8-4 .5-3 1.7-2.6 3-1.8zM634.5 251.2l4-.5 5 .8 4.5 2 4.3 3 3.1 3 1.9 3-.7 2-4.1 1.9-4 .4-4-.2-5-1.7-4-2.4-3-3.2-1.4-3.8 1.2-3z"/>
<path fill="#27ff00" fill-rule="evenodd" d="M613.5 64.5l5 .2 5 1.4 13 6.2 6 1.4 6 2.4 5.5 3.4 1.9 2 1 2-.2 2-.8 1-3.6 2-7.8 2.1-7 3.6-3 .6-4-.1-4-.8-5-1.8-8-5-3-3-2.5-3.6-1.9-4-.7-4 .5-3 1.6-2.5 3-1.9zM634.5 251.4l4-.6 4.4.7 4.9 2 4.3 3 3.1 3 1.7 3-.8 2-3.6 1.7-4 .5-4-.3-5-1.6-4-2.5-3-3.3-1.2-3.5 1.2-2.9z"/>
<path fill="#30ff00" fill-rule="evenodd" d="M614.5 64.5l4 .3 5 1.3 13 6.3 6 1.4 6 2.4 5.2 3.3 1.9 2 .9 2-.2 2-.8 1-3 1.7-6 1.5-3 1.4-7 3.3-7 .1-9-2.9-7.6-5.1-3.5-4-2.4-4-1.3-4-.2-3 1-3 1.7-2 2.3-1.3zM635.5 251.3l4-.3 4 .8 4 1.7 4.4 3 3 3 1.6 3-.9 2-3.1 1.5-5 .6-4-.5-5-2-3.7-2.6-2.4-3-.8-3 .9-2.5z"/>
<path fill="#39ff00" fill-rule="evenodd" d="M610.5 65.3l5-.7 6 1 6 2.3 9 4.6 6 1.4 8.2 3.6 4.6 4 .9 2-.3 2-3.4 2.5-6 1.5-8 4.1-6 1.1-8-1.5-8-4-6.3-5.7-2.6-4-1.6-4-.4-3 .5-3 1.4-2.2zM635.5 251.4l4-.3 4 .8 4 1.7 4.2 2.9 3 3 1.5 3-1 2-2.7 1.3-4 .6-4-.2-5-1.7-4-2.6-2.9-3.4-.8-3 .7-2.2z"/>
<path fill="#42ff00" fill-rule="evenodd" d="M610.5 65.4l5-.8 7 1.3 14 6.7 7 1.8 8 3.8 2.7 2.3 1.4 2 .3 2-.4 1-3 2.3-6.4 1.7-7.6 4.1-6 1.1-8-1.6-8-3.9-6.2-5.7-2.6-4-1.6-4-.4-3 .5-3 1.3-2.1zM636.5 251.4l4 0 4.3 1.1 3.9 2 3.9 3 2.5 3 .7 2-1.1 2-3.2 1.4-4 .4-4-.5-5-2-3.3-2.3-2.4-3-.8-3 .5-1.7 1-1.2z"/>
<path fill="#4bff00" fill-rule="evenodd" d="M611.5 65.2l5-.5 6 1.3 14 6.7 6.9 1.8 8.2 4 3.6 4 .3 2-.4 1-2.6 2-7 2.1-8 4.2-6 .8-8-1.9-8-4.3-3.4-2.9-3.2-4-2.1-4-.9-3-.1-3 1-3 1.9-2zM637.5 251.4l4 .3 5 1.7 4.7 3.1 3 3 1.1 2-.1 2-2.7 1.9-3 .6-4 .1-4-1.1-4-1.9-3.1-2.6-1.9-3-.1-3 1.6-2z"/>
<path fill="#54ff00" fill-rule="evenodd" d="M611.5 65.2l5-.4 6 1.2 14 6.8 6.5 1.7 8.3 4 3.6 4 .3 2-.5 1-2.7 2-7.5 2.4-7 3.8-6 .8-8-1.9-8-4.3-3.3-2.8-3.2-4-2.1-4-.9-3-.1-3 1-3 1.9-2zM634.5 252.4l3-.8 4 .3 4 1.2 4.2 2.4 3.4 3 1.9 3-.2 2-3.3 2-4 .5-3-.2-4-1.3-3.6-2-3.1-3-1.3-3 .2-2z"/>
<path fill="#5dff00" fill-rule="evenodd" d="M611.5 65.3l5-.4 6 1.2 14 6.7 6.2 1.7 8.3 4 3.6 4 .2 2-.5 1-2.8 2-6.5 2-7.5 4.2-6 .7-8-1.8-8-4.4-3.2-2.7-3.2-4-2.2-4-.8-3-.1-3 1-3 2-2zM635.5 252.2l4-.5 4 .8 4 1.7 3.3 2.3 2.9 3 1 2-.3 2-2.9 1.8-4 .6-3.6-.4-4.4-1.6-3.6-2.4-2.4-2.9-.8-2.1.8-3z"/>
<path fill="#66ff00" fill-rule="evenodd" d="M611.5 65.4l5-.5 6 1.3 14 6.7 6 1.7 8.2 3.9 2.3 2 1.3 2 .1 2-.5 1-2.9 2-6.3 2-7.2 4.1-6 .8-8-1.9-8-4.3-3.1-2.7-3.3-4-2.1-4-.9-3 0-3 1-3 2-2zM635.5 252.4l3-.5 4.5.6 3.5 1.4 4 2.6 2.9 3 1 3-1.6 2-2.3.8-4 .4-3-.4-4-1.6-3.4-2.2-1.8-2-1.3-3 .5-2.5z"/>
<path fill="#6fff00" fill-rule="evenodd" d="M611.5 65.5l5-.5 6 1.2 14 6.8 6 1.7 8 3.9 2.2 1.9 1.3 2 .1 2-.6 1-3 2-6.1 2-6.9 4-6 .8-8-1.9-8-4.3-3-2.6-3.3-4-2.1-4-.9-3-.1-3 1.1-3 2.1-2zM636.5 252.3l4-.1 4 .9 3 1.5 3.9 2.9 2.3 3 .4 2-1.6 1.9-3 1-4 .1-3.9-1-3.9-2-2.4-2-1.9-3-.2-2 1-2z"/>
<path fill="#78ff00" fill-rule="evenodd" d="M612.5 65.3l5-.1 6 1.4 14 7 5 1.3 3.7 1.6 5.2 3 2.2 3 .1 2-.6 1-2.6 1.7-4 1.2-3 1.5-6.3 3.6-2.7.6-4 0-8-2.1-7.7-4.5-3.3-3.1-2.8-3.9-1.9-4-.6-3 .2-3 1.1-2.2 2-1.8zM637.5 252.3l4 .2 3.5 1 3.7 2 3.4 3 1.4 2 .2 2-1.2 1.5-3 1.2-4 .2-3-.7-4-1.9-2.9-2.3-1.9-3-.2-2 1.1-2z"/>
<path fill="#81ff00" fill-rule="evenodd" d="M612.5 65.4l5-.2 6 1.5 13 6.5 7 2.2 7 3.7 2.8 3.4 0 2-.6 1-2.2 1.5-4 1.2-3 1.6-6.6 3.7-6.4.6-8-2.2-7.6-4.4-3.2-3-3-4-1.8-4-.6-3 .2-3 1-2.1 2-1.8zM638.5 252.4l3 .2 4 1.3 3 1.6 3.4 3 1.3 2 .2 2-1.9 1.9-3 .7-4-.1-4-1.3-3.6-2.2-1.9-2-1.3-3 .4-2 1.4-1.3z"/>
<path fill="#8aff00" fill-rule="evenodd" d="M612.5 65.5l5-.2 6 1.5 14 7 8 2.7 5.3 3 2.2 3 0 2-.7 1-1.8 1.2-5 1.7-3 2-6 3.2-6 .4-8-2.1-8-4.8-3-2.9-2.7-3.7-1.8-4-.7-3 .3-3 1-2 1.9-1.8zM635.5 253.5l3-.9 4 .4 4 1.5 3 2 2.9 3 .7 2-.8 2-1.7 1-3.1.6-3-.2-4-1.3-3-1.8-2.3-2.3-1-2-.2-2z"/>
<path fill="#93ff00" fill-rule="evenodd" d="M613.5 65.4l5 .1 6 1.7 12 6.2 6.6 2.1 7.4 4 2.2 3-.1 2-.7 1-1.4 1-5 1.8-3.4 2.2-5.7 3-2.9.5-4-.2-8-2.4-7.6-4.9-2.9-3-2.7-4-1.6-4-.3-3 .7-3 1.4-1.9 2-1.4zM636.5 253.3l3-.5 4 .6 5.8 3.1 2.8 3 .7 2-.9 2-2 1-3.4.4-3-.4-6.1-3-1.9-2-1.3-3 .6-2z"/>
<path fill="#9cff00" fill-rule="evenodd" d="M613.5 65.4l5 .2 6 1.7 13 6.7 5.2 1.5 7.4 4 2.2 3-.1 2-.7.9-6 2.7-4 2.7-6 2.8-6 .2-4-1-5-2-7-4.8-5.1-6.5-1.6-4-.3-3 .7-3 1.3-1.8 2-1.4zM637.5 253.3l3-.2 3 .6 4 1.8 2.6 2 1.7 2 .7 2-1.1 2-2.5 1-3.4.2-3-.7-3.3-1.5-2.6-2-1.5-2-.5-2 .7-2z"/>
<path fill="#a5ff00" fill-rule="evenodd" d="M614.5 65.5l5 .4 6 1.9 12 6.4 6.6 2.3 6.3 4 1.3 3-1.2 2-5 2.2-4 2.8-3.2 2-2.8 1-6 .1-8-2.4-4-2.2-4-3.1-4.9-6.4-1.6-4-.3-3 .7-3 1.6-2 2.5-1.4zM639.5 253.5l6 1.3 4.9 3.7 1.2 2-.2 2-1.2 1-2.7.8-3-.1-3-1-3.1-1.7-2-2-1-2 .1-2 1-1.2z"/>
<path fill="#aeff00" fill-rule="evenodd" d="M611.5 66.3l5-.7 7 1.5 14 7.4 5.9 2 5.1 3 2 2.1.4 1.9-.4 1-8.1 5-5.9 3.5-6 .6-7-1.7-7.9-4.4-5.7-6-2.1-4-.9-3 .1-3 .6-2 1.7-2zM638.5 254.2l5 .3 5.3 3 1.7 2 .4 2-.5 1-1.9 1.1-5-.1-5.5-3-1.6-2-.3-2 .4-1.1z"/>
<path fill="#b7ff00" fill-rule="evenodd" d="M611.5 66.5l5-.7 7 1.5 6 2.7 8 4.7 5.2 1.8 4.9 3 2.4 3-.5 1.9-8 5.5-5 2.9-6 .7-8-2.2-7-4.1-5.4-5.7-2.2-4-.8-3 0-3 .8-2 1.6-1.9zM638.5 255.1l2-.4 3 .4 4.5 2.4 2.1 3-.1 1-1.5 1.4-4 .4-3-1-2.7-1.8-1.8-3 .5-1.8z"/>
<path fill="#c0ff00" fill-rule="evenodd" d="M612.5 66.3l5-.3 7 1.8 13 7.1 5 1.9 4.3 2.7 2 2 .2 2-8.5 6.9-5 2.6-3 .4-4-.3-7-2.3-7-4.5-4.9-5.8-2.3-6 0-3 .8-2 1.8-2zM640.5 255.4l4 .6 3.7 2.5 1 2-.2 1-2.5 1.3-4-.7-3.7-2.6-.8-2 .3-1z"/>
<path fill="#c9ff00" fill-rule="evenodd" d="M612.5 66.5l5-.4 7 1.8 14 7.8 4 1.4 3.5 2.4 1.8 2 .1 2-7.9 7-2.5 1.6-3 .9-6-.1-7-2.3-7-4.5-4.7-5.6-2.4-6 .1-3 .8-2 2-2zM641.5 256.4l3 .3 3 2.2.6 1.6-.5 1-2.1.7-3-.7-2.5-2-.5-2z"/>
<path fill="#d2ff00" fill-rule="evenodd" d="M613.5 66.4l5-.1 6 1.7 6 3 8 5 4 1.5 2.7 2 1.7 2 0 2-7.4 7.1-5 2.3-6-.1-8-2.8-6.5-4.5-4.7-6-1.3-3-.5-3 .5-3 1.3-2zM642.5 257.9l3 .4 1.1 1.2-.1 1.2-2 .5-1.8-.7-1-1-.1-1z"/>
<path fill="#dbff00" fill-rule="evenodd" d="M614.5 66.4l5 .2 6 2 13 7.6 4 1.7 2 1.6 1.6 2-.1 2-4.4 5-3.8 3-5.3 1.5-6-.8-7-2.9-6.3-4.8-4.2-6-1.1-3-.2-3 .5-2 1.4-2 1.9-1.3z"/>
<path fill="#e4ff00" fill-rule="evenodd" d="M615.5 66.5l5 .5 6 2.1 12 7.4 4 1.9 2.2 2.1.7 2-.8 2-4.4 5-3.7 2.4-5 .9-7-1.3-7-3.5-5.1-4.5-3.7-6-.8-3 .2-3 .9-2 1.5-1.5 2-1z"/>
<path fill="#edff00" fill-rule="evenodd" d="M612.5 67.2l5-.6 7 1.8 6.2 3.1 12.6 8 1.3 2-.1 2-2.7 4-3.3 3.1-5 2-6-.4-7-2.6-5.9-4.1-4.2-5-2.3-6 .2-3 .9-2z"/>
<path fill="#f6ff00" fill-rule="evenodd" d="M612.5 67.3l5-.5 7 1.7 7 3.6 11.2 7.4 1.3 2-.5 3-3 4-3 2.5-5 1.5-6-.6-6-2.4-6-4.2-4.6-5.8-1.7-5 .6-4 1.6-2z"/>
<path fill="#ffff00" fill-rule="evenodd" d="M613.5 67.2l6-.1 6 1.9 6.3 3.5 10.2 7 1.4 2-.3 3-2.9 4-2.7 2.3-5 1.6-6-.6-7-3-5.7-4.3-4.2-6-1.3-5 .3-2 1.1-2 1.8-1.5z"/>
<path fill="#fff600" fill-rule="evenodd" d="M613.5 67.4l5-.3 7 2.1 6.1 3.3 9.9 7.2 1.4 1.8-.3 3-2.7 4-2.4 2.1-5 1.7-6-.7-7-2.9-5.5-4.2-4.3-6-1.2-5 .3-2 1.1-2z"/>
<path fill="#ffed00" fill-rule="evenodd" d="M613.5 67.5l5-.3 7 2.1 7.4 4.2 8.6 6.7 1.1 2.3-.4 2-2.6 4-2.2 2-4.9 1.6-6-.6-6-2.4-6-4.3-4.1-5.3-1.7-5 .8-4.1 1.8-1.9z"/>
<path fill="#ffe400" fill-rule="evenodd" d="M614.5 67.4l6 .3 6 2.2 6.2 3.6 8.5 7 .9 2-.7 3-3 4-2.9 1.8-5 .7-6-1.2-6-3-5.1-4.3-3.4-5-1.2-5 .4-2 1.2-2 2.1-1.5z"/>
<path fill="#ffdb00" fill-rule="evenodd" d="M615.5 67.4l6 .7 6 2.4 6.4 4 6.8 6 1 3-1.2 3-2.4 3-3.6 2-5 .3-6-1.5-6-3.3-4.9-4.5-2.9-5-.6-5 .7-2 1.7-1.7z"/>
<path fill="#ffd200" fill-rule="evenodd" d="M616.5 67.5l6 1 6 2.6 6.4 4.4 5.3 5 1.1 3-1.1 3-2.7 3.3-4 1.8-5 0-6.6-2.1-5.4-3.3-4.5-4.7-2.5-5-.4-3 .4-2 1-1.6 1.7-1.4z"/>
<path fill="#ffc900" fill-rule="evenodd" d="M613.5 68.1l5-.4 6 1.6 7.6 4.2 6 5 2.3 3 .3 3-2.1 4-3.1 2.3-4 .9-6-.9-6-2.7-5-3.9-3.6-4.7-1.6-5 .9-4z"/>
<path fill="#ffc000" fill-rule="evenodd" d="M613.5 68.3l5-.5 6 1.6 7.4 4.1 5.9 5 2.3 3 .3 3-2.1 4-3.8 2.5-5 .5-5-1.1-5.8-2.9-4.8-4-3.4-5-1.1-4 .2-2 .8-2z"/>
<path fill="#ffb700" fill-rule="evenodd" d="M613.5 68.4l5-.5 6 1.6 7 3.8 5 4.2 2.7 3 1 3-1.4 4-3.3 2.9-4 1-6-.8-6-2.7-5-4-3.3-4.4-1.6-5 .9-3.8z"/>
<path fill="#ffae00" fill-rule="evenodd" d="M614.5 68.3l5-.1 6 1.9 6 3.4 5.8 5 2.1 3 .4 3-2 4-2.8 2-4.5.8-6-1.2-5.4-2.6-4.9-4-3.4-5-1.1-5 1.2-3 1.6-1.4z"/>
<path fill="#ffa500" fill-rule="evenodd" d="M614.5 68.4l5-.1 6 1.9 6 3.4 5.6 4.9 2 3 .4 3-1.9 4-3 2-4.1.7-6-1.2-5.2-2.5-4.9-4-3.5-5-1-4 .2-2 1-2z"/>
<path fill="#ff9c00" fill-rule="evenodd" d="M615.5 68.3l5 .3 6 2.1 6.1 3.8 5.1 5 1.5 3-.1 3-1.7 3-3.9 2.2-5 .2-5-1.3-5.6-3.1-4.3-4-3-5-.6-4 1.5-3.3 2-1.3z"/>
<path fill="#ff9300" fill-rule="evenodd" d="M615.5 68.5l5 .2 5.3 1.8 6.6 4 4.3 4 2.3 4-.1 3-1.7 3-3.7 2.1-5 .2-5-1.3-5.4-3-4.4-4-3-5-.5-4 1.3-3.1 2-1.4z"/>
<path fill="#ff8a00" fill-rule="evenodd" d="M616.5 68.4l5 .6 6 2.4 6 4.1 3.8 4 1.7 4-.6 3-2.7 3-3.2 1.2-5-.1-5-1.6-5.6-3.5-3.8-4-2.6-5 0-4 2-2.8z"/>
<path fill="#ff8100" fill-rule="evenodd" d="M613.5 69.3l4-.8 6 1.2 5.7 2.8 5.3 4 3.3 4 1 3-1.2 4-3.1 2.5-4 .8-5-.8-5-2.2-5-3.7-3.6-4.6-1.4-4 .6-4z"/>
<path fill="#ff7800" fill-rule="evenodd" d="M613.5 69.4l4-.8 5.1.9 5.9 2.7 5.8 4.3 3.3 4 1 3-.2 2-1 2-2.9 2.4-4 .8-5-.8-5.4-2.4-4.6-3.5-3.5-4.5-1.4-4 .6-4z"/>
<path fill="#ff6f00" fill-rule="evenodd" d="M614.5 69.2l5-.3 5 1.4 5.9 3.2 4.8 4 2.8 4 .4 3-.6 2-1.3 1.8-3 1.8-5 .3-5-1.3-5-2.7-4-3.5-2.9-4.4-1-4 .9-3.2z"/>
<path fill="#ff6600" fill-rule="evenodd" d="M614.5 69.3l5-.3 5 1.4 5.8 3.1 4.7 4 2.8 4 .4 3-1.2 3-2.5 2.1-4 .9-5-.8-5.1-2.2-5.2-4-3.5-5-1-4 .9-3z"/>
<path fill="#ff5d00" fill-rule="evenodd" d="M614.5 69.4l4-.4 5 1.1 5 2.4 5.4 4 3.3 4 .9 3-.2 2-1 2-2.5 2-3.9.9-5-.8-5-2.1-5.2-4-3.5-5-.9-4 .8-3z"/>
<path fill="#ff5400" fill-rule="evenodd" d="M614.5 69.5l5-.4 5 1.4 5.5 3 4.8 4 2.7 4 .5 3-1.2 3-2.6 2-3.7.8-5-.7-5-2.2-5.1-3.9-3-4-1.4-4 0-2 .8-2z"/>
<path fill="#ff4b00" fill-rule="evenodd" d="M615.5 69.3l4-.1 5 1.3 5.4 3 4.8 4 2.7 4 .5 3-1.2 3-3.2 2.2-5 .5-5-1.4-5-2.7-4-3.6-2.6-4-.9-4 .4-2 1.1-1.7z"/>
<path fill="#ff4200" fill-rule="evenodd" d="M615.5 69.3l4-.1 5 1.4 5.4 2.9 4.7 4 2.7 4 .5 3-1.3 3-3 2.2-5 .4-5-1.3-5-2.8-3.9-3.5-2.6-4-.9-4 .9-3 1.5-1.4z"/>
<path fill="#ff3900" fill-rule="evenodd" d="M615.5 69.4l4-.1 5 1.4 5.3 2.8 4.8 4 2.7 4 .4 3-1.3 3-2.9 2.1-5 .4-5-1.3-5-2.7-3.8-3.5-2.6-4-1-4 1-3 1.4-1.3z"/>
<path fill="#ff3000" fill-rule="evenodd" d="M615.5 69.5l4-.2 5 1.4 5.2 2.8 4.8 4 2.7 4 .4 3-1.3 3-2.8 2-5 .5-5-1.3-5-2.8-3.8-3.4-2.6-4-.9-4 1-3z"/>
<path fill="#ff2700" fill-rule="evenodd" d="M616.5 69.4l4 .1 5.6 2 5.4 3.4 3.8 3.6 2.1 4-.1 3-1.8 2.7-3 1.5-5 .1-5-1.6-4.5-2.7-4-4-2.2-4-.4-4 1.9-3z"/>
<path fill="#ff1e00" fill-rule="evenodd" d="M616.5 69.4l5 .4 5 1.9 5.7 3.8 3.7 4 1.5 4-.6 3-2.3 2.4-3 1-4-.2-5-1.6-4.4-2.6-4-4-2.3-4-.3-4 2-3z"/>
<path fill="#ff1500" fill-rule="evenodd" d="M616.5 69.5l4 .1 5.4 1.9 5 3 4.2 4 2.1 4-.1 3-2.2 3-3.4 1.3-4-.1-5-1.6-4.3-2.6-4.1-4-2.2-4-.4-4 2-2.9z"/>
<path fill="#ff0c00" fill-rule="evenodd" d="M617.5 69.5l5 .7 5 2.2 4.6 3.1 3.7 4 1.4 4-.6 3-2.1 2.2-4 1.1-4-.4-5.1-1.9-4.4-3-3.5-4-1.8-4 .3-4 1.8-2z"/>
<path fill="#ff0000" fill-rule="evenodd" d="M614.5 70.2l4-.7 5 1.1 5 2.4 4.6 3.5 3.2 4 .9 3-.7 3-3 2.6-4 .7-5-1-4.7-2.3-3.8-3-3.1-4-1.3-4 .5-3z"/>
<path fill="#f90000" fill-rule="evenodd" d="M616.5 72.4l3-.6 4 .8 4 2 3.7 2.9 2.1 3 .7 3-.7 2-2.8 1.8-3 .1-3.7-.9-3.3-1.7-3-2.5-2.1-2.8-1-3 .2-2z"/>
<path fill="#f00000" fill-rule="evenodd" d="M617.5 72.4l3-.2 4 1 4 2.3 2.3 2 1.7 2.1 1.1 2.9-.2 2-1.9 2.1-3 .6-4-.7-4-2-2.5-2-2.3-3-1-3 .8-2.8z"/>
<path fill="#e70000" fill-rule="evenodd" d="M618.5 72.5l3 .1 3 .9 3.6 2 3.3 3 1.6 3 .2 2-.9 2-2.8 1.3-3 0-4-1.4-3-1.9-2.8-3-1.5-3-.1-2 1.1-2z"/>
<path fill="#de0000" fill-rule="evenodd" d="M617.5 73.2l3-.5 3.3.8 3.8 2 3.4 3 1.7 3 .1 2-1.1 2-2.2 1-3 0-3-.9-3-1.7-2.7-2.4-1.4-2-1-3 .5-2z"/>
<path fill="#d50000" fill-rule="evenodd" d="M618.5 73.2l3 0 3 .9 3 1.6 3.1 2.8 1.7 3 .1 2-.9 1.5-2 1.1-3 .1-3-.9-3-1.7-2.4-2.1-1.6-2.4-.7-2.6.6-2z"/>
<path fill="#cc0000" fill-rule="evenodd" d="M619.5 73.4l3 .3 3 1.1 3 2 2.5 2.7.9 2 0 2-1.4 1.8-2 .6-3-.2-3-1.1-3-2.1-1.8-2-1.4-3 .1-2 1.1-1.4z"/>
<path fill="#c30000" fill-rule="evenodd" d="M618.5 74.1l2-.4 3 .6 5.3 3.2 1.8 2 1 3-.9 2-1.2.8-2 .3-3-.5-3-1.5-2.6-2.1-2.2-4 .3-2z"/>
<path fill="#ba0000" fill-rule="evenodd" d="M619.5 74.3l2-.1 3 .8 4.8 3.5 1.4 2 .3 2-.5 1.4-2 1.2-2 .1-3-.8-3-1.9-2-2-1.1-2-.2-2 .4-1z"/>
<path fill="#b10000" fill-rule="evenodd" d="M618.5 75.3l2-.7 2 .1 5 2.5 2.1 2.3.9 2 0 1.1-1 1.5-2 .7-2-.2-4.5-2.1-2-2-1.1-2-.1-2z"/>
<path fill="#a80000" fill-rule="evenodd" d="M619.5 75.3l2-.3 2.5.5 4.4 3 1.6 3-.5 2-1 .6-2 .3-2-.4-4.2-2.5-1.6-2-.6-2 .4-1.4z"/>
<path fill="#9f0000" fill-rule="evenodd" d="M620.5 75.4l4 .7 3.5 2.4 1.6 3-1.1 2.1-2 .4-2-.3-4-2.5-1.3-1.7-.6-2 .3-1z"/>
<path fill="#960000" fill-rule="evenodd" d="M620.5 76l2-.1 2 .5 3 2.1 1.5 3-.5 1.3-1.1.7-3.9-.6-3-2.2-1.3-3.2z"/>
<path fill="#8d0000" fill-rule="evenodd" d="M621.5 76.3l2 .2 2 .9 2.2 2.1.7 2-.5 1-1.4.5-3-.5-2.6-2-1-2 0-1z"/>
<path fill="#840000" fill-rule="evenodd" d="M621.5 77.2l2 0 2.6 1.3 1.4 2 0 1-2 1-2.6-1-1.4-1.2-.9-1.8z"/>
<path fill="#7b0000" fill-rule="evenodd" d="M622.5 78.1l2 .2 1.4 1.2.5 1-.9 1-3-1.3-.6-1.7z"/>
<path fill="none" stroke="#8c8ca0" stroke-opacity="0.78" stroke-width="1.1" d="M611.5 63.3l4-.2 5 .9 15 6.1 7 1.3 8 2.8 6.1 3.3 4.3 3 2.5 3 .7 2-.2 1-1.6 2-2.8 1.5-5 1.3-8 1.1-10 3.6-7-.2-9-2.9-6-3.4-4-3.4-3.4-4.6-2.7-6-.6-4 1.1-4 2.6-2.7 4-1.5M635.5 248.5l6 .5 7 2.6 17.9 11.9 1 1 .4 1-1.3 1.1-7 1.7-9 .8-6-.5-7-2.4-3-1.8-3.3-2.9-2.1-3-1.1-3 .3-3 1.5-2 2.7-1.4 3-.6"/>
<path fill="none" stroke="#8c8ca0" stroke-opacity="0.78" stroke-width="1.1" d="M613.5 68.2l5-.4 5 1.2 5.3 2.5 5.8 4 4.2 4 1.7 3-.3 3-1.8 3-1.9 1.6-2 .9-5 .5-7-1.9-6-3.7-4.9-5.4-2.1-5 0-3 .9-2 3.1-2.3"/>
<path fill="none" stroke="#8c8ca0" stroke-opacity="0.78" stroke-width="1.1" d="M618.5 72.4l3 .1 3 1 3.6 2 2.4 2 2.6 4 .2 2-1 2-2.8 1.4-4-.3-4-1.7-3.2-2.4-2.3-3-1-3 .4-2 .7-1 2.4-1.1"/>
</g>
<rect x="569.5" y="42.5" width="246.0" height="306.0" fill="none" stroke="#1a1a1a" stroke-width="1.6"/>
<text x="569.5" y="374.8" font-size="20.5" text-anchor="middle" fill="#1a1a1a" >0.0</text>
<line x1="600.2" y1="348.5" x2="600.2" y2="344.5" stroke="#1a1a1a" stroke-width="1.3"/>
<line x1="631.0" y1="348.5" x2="631.0" y2="341.5" stroke="#1a1a1a" stroke-width="1.3"/>
<text x="631.0" y="374.8" font-size="20.5" text-anchor="middle" fill="#1a1a1a" >0.5</text>
<line x1="661.8" y1="348.5" x2="661.8" y2="344.5" stroke="#1a1a1a" stroke-width="1.3"/>
<line x1="692.5" y1="348.5" x2="692.5" y2="341.5" stroke="#1a1a1a" stroke-width="1.3"/>
<text x="692.5" y="374.8" font-size="20.5" text-anchor="middle" fill="#1a1a1a" >1.0</text>
<line x1="723.2" y1="348.5" x2="723.2" y2="344.5" stroke="#1a1a1a" stroke-width="1.3"/>
<line x1="754.0" y1="348.5" x2="754.0" y2="341.5" stroke="#1a1a1a" stroke-width="1.3"/>
<text x="754.0" y="374.8" font-size="20.5" text-anchor="middle" fill="#1a1a1a" >1.5</text>
<line x1="784.8" y1="348.5" x2="784.8" y2="344.5" stroke="#1a1a1a" stroke-width="1.3"/>
<text x="815.5" y="374.8" font-size="20.5" text-anchor="middle" fill="#1a1a1a" >2.0</text>
<text x="559.0" y="354.7" font-size="20.5" text-anchor="end" fill="#1a1a1a" >200</text>
<line x1="569.5" y1="317.9" x2="573.5" y2="317.9" stroke="#1a1a1a" stroke-width="1.3"/>
<line x1="569.5" y1="287.3" x2="576.5" y2="287.3" stroke="#1a1a1a" stroke-width="1.3"/>
<text x="559.0" y="293.5" font-size="20.5" text-anchor="end" fill="#1a1a1a" >300</text>
<line x1="569.5" y1="256.7" x2="573.5" y2="256.7" stroke="#1a1a1a" stroke-width="1.3"/>
<line x1="569.5" y1="226.1" x2="576.5" y2="226.1" stroke="#1a1a1a" stroke-width="1.3"/>
<text x="559.0" y="232.3" font-size="20.5" text-anchor="end" fill="#1a1a1a" >400</text>
<line x1="569.5" y1="195.5" x2="573.5" y2="195.5" stroke="#1a1a1a" stroke-width="1.3"/>
<line x1="569.5" y1="164.9" x2="576.5" y2="164.9" stroke="#1a1a1a" stroke-width="1.3"/>
<text x="559.0" y="171.1" font-size="20.5" text-anchor="end" fill="#1a1a1a" >500</text>
<line x1="569.5" y1="134.3" x2="573.5" y2="134.3" stroke="#1a1a1a" stroke-width="1.3"/>
<line x1="569.5" y1="103.7" x2="576.5" y2="103.7" stroke="#1a1a1a" stroke-width="1.3"/>
<text x="559.0" y="109.9" font-size="20.5" text-anchor="end" fill="#1a1a1a" >600</text>
<line x1="569.5" y1="73.1" x2="573.5" y2="73.1" stroke="#1a1a1a" stroke-width="1.3"/>
<text x="559.0" y="48.7" font-size="20.5" text-anchor="end" fill="#1a1a1a" >700</text>
<text transform="translate(513.5,195.5) rotate(-90)" font-size="23.6" text-anchor="middle" fill="#1a1a1a">Energy (meV)</text>
<clipPath id="cpd"><rect x="569.5" y="471.5" width="246.0" height="306.0"/></clipPath>
<g clip-path="url(#cpd)">
<rect x="568.5" y="470.5" width="248.0" height="308.0" fill="#69006c"/>
<path fill="#6d0079" fill-rule="evenodd" d="M658.5 482.4l14-.6 17 1.9 21 4.2 23 6.1 22 6.9 21 8 21 9.2 20 10 0 47.1-29-6.3-36.2-7.4-33.9-6-61.9-7.8-10-2.8-11-6-6.9-6.4-2.7-4-1.7-4-1.2-5-.2-5 .4-5 1.5-5 4.2-7 3.6-3.7 4-2.9 11-5.8zM659.5 662.4l13-.5 18 2 20 4 24 6.3 22 6.9 21 8 20 8.8 20 10 0 47.2-30-6.5-62.8-12.1-36.3-5-30.9-3.6-10-2.8-10-5.2-7.5-6.4-2.9-4-1.9-4-1.3-5-.4-5 .3-5 1.2-5 1.9-4 2.8-4 3.8-3.8 4-2.9 11-5.7z"/>
<path fill="#700081" fill-rule="evenodd" d="M659.5 485.5l12-.5 17 1.9 23 4.2 23 5.9 21 6.9 21 8.2 21 9.7 20 10.7 0 38.3-28-5.2-43.4-8.1-42.2-7-20.5-3-24.9-2.7-11-2.7-9-4.2-4-3-3.2-3.4-2.7-4-1.7-4-1-5-.1-5 .4-4 1.6-5 2.2-4 2.5-3 7-5.6 9-4zM661.5 665.4l13-.2 21 2.8 20 3.9 22 5.9 21 7 20 8 20 9.3 19 10.1 0 38.6-29-5.4-42.3-7.9-42.2-7-20.7-3-24.8-2.7-11-2.8-8-3.8-4-3-3.6-3.7-4-7-1.2-5-.2-5 .5-5 1.1-4 2.1-4 3.1-4 7.2-5.7 9-3.9z"/>
<path fill="#73008a" fill-rule="evenodd" d="M657.5 487.3l12-.6 17 1.5 22 3.8 20 5 19 5.9 21 8 20 8.9 17 8.9 12 7.1 0 31.7-25-3.8-53.6-9.2-51-8-14.3-2-17.1-1.6-8-1.9-7-3.1-7.1-5.4-3.2-4-2-4-1.2-4-.4-4 .2-5 .8-4 3.6-7 6.3-6.1 9-4.6zM658.5 667.4l12-.6 20 1.9 18 3.2 21 5.3 21 6.6 21 8.1 20 9.2 17 9 9 5.3 0 32.2-26-4.1-52.5-9-51.1-8-14.4-2-16-1.4-8-1.9-7-3-7.5-5.7-3.2-4-1.5-3-1.4-4-.6-5 .2-5 .9-4 3.5-7 2.7-3 3.9-3.2 9-4.5z"/>
<path fill="#760092" fill-rule="evenodd" d="M657.5 488.3l12-.6 16 1.4 18 3 20 4.8 20 6.1 19 7 18 7.8 16 8.1 21 12.8 0 25.9-25-2.8-110.9-17.3-25.1-2.6-8-2-6-2.7-4-2.7-3.4-3-2.3-3-2.2-4-1.6-8 .2-5 .9-4 1.7-4 2-3 5.7-5.4 8-4.2zM658.5 668.4l11-.7 16 1.4 18 3 21 4.9 19 5.8 19 7 19 8.3 16 8.1 20 12.1 0 26.4-25-2.9-110.9-17.3-24.1-2.4-8-2-6-2.7-4-2.5-3.7-3.4-2.4-3-2.1-4-1.2-4-.4-4 .2-5 .9-4 1.2-3 2.6-4 5.9-5.5 8-4.1z"/>
<path fill="#79009b" fill-rule="evenodd" d="M663.5 488.5l13 .4 17 2.2 19 3.8 16 4.3 18 5.8 18 7 18 8.2 15 7.9 10.4 6.4 9.6 6.9 0 20.6-12-.4-18.2-2.1-107.4-16-23.4-2.3-8-2.2-6-2.8-3.9-2.7-3.1-3-2.2-3-2-4-1-4-.3-5 .6-5 1.3-4 2.3-4 2.3-2.7 7-5.2 9-3.5zM666.5 668.5l13 .7 19 2.7 18 4 18 5 18 6.2 17 6.8 17 8 15 8.3 16 10.7 0 21.2-12-.4-20-2.4-105.6-15.8-22.4-2.2-8-2.1-7-3.3-4-3-3.2-3.4-2-3-1.6-4-1-5 .1-5 .7-4 1.6-4 2.7-4 2.7-2.8 7-4.7 9-3.1z"/>
<path fill="#7b00a4" fill-rule="evenodd" d="M659.5 489.4l10-.4 18 1.8 17 3 17 4.2 17 5.1 16 5.8 17 7.1 16 7.9 17.7 10.6 12.3 9.8 0 14.7-10 .9-17-1.3-113.4-16.1-18.6-1.6-8-1.8-6-2.5-7.1-5.1-2.5-3-2.3-4-1.3-4-.5-4 .2-5 1-4 1.8-4 2.1-3 5.6-4.9 8-3.9zM660.5 669.5l10-.4 17 1.7 18 3.2 16 3.9 17 5.1 17 6.1 17 7.2 16 7.9 17.2 10.3 11.8 9.2 0 15.6-10 .7-17-1.3-113.5-16.2-18.5-1.6-7-1.6-6-2.5-4-2.4-3.5-2.9-3.2-4-1.6-3-1.2-4-.5-4 .2-5 1-4 1.3-3 2.7-4 5.8-5 8-3.8z"/>
<path fill="#7d00ac" fill-rule="evenodd" d="M665.5 489.5l11 .5 16 2.2 18 3.6 16 4.3 18 5.9 16 6.2 15 6.7 14 7.3 13.2 8.3 9.8 8 2.6 3 2.4 3.9 0 4.5-3 2.6-6 1.4-9 .1-14-1.1-104.5-14.4-23.5-2.3-6-1.4-7-2.9-4-2.6-3.1-2.8-2.4-3-2.1-4-1.1-4-.3-5 .4-4 1.2-4 2.2-4 2.4-3 3.8-3.2 4-2.3 9-3.2zM657.5 670.4l10-.8 10 .5 15 2 19 3.9 18 4.9 16 5.3 17 6.6 16 7.3 13 7 11.8 7.4 8.8 7 5.4 6.4 0 7.2-3 1.8-8 1.3-14-.6-23-2.7-88.5-12.4-22.5-2.2-6-1.3-6-2.3-7-4.7-3.2-3.5-1.8-3-2.1-7-.1-5 .6-4 1.4-4 1.7-3 5.5-5.6 7-3.9z"/>
<path fill="#7f00b5" fill-rule="evenodd" d="M659.5 490.4l9-.5 14 1.3 17 2.8 17 3.9 17 5 15 5.2 17 7 14 6.8 13.5 7.6 10.1 7 7.4 7 2.7 5 .1 3-.8 1.7-1.5 1.3-2.5 1-8 1-14-.6-25-2.9-84.3-11.5-18.7-1.6-7-1.6-6-2.4-7-5.1-4.5-6.3-1.3-4-.5-4 .9-8 1.6-4 2.1-3 5.7-5.2 7-3.5zM660.5 670.5l9-.5 13 1.2 17 2.7 18 4.2 17 5 17 6 14 5.8 15 7.2 13 7.4 10.2 7 7.4 7 2.8 5 .2 2-.6 2.3-1.7 1.7-2.3 1-8 1.1-14-.6-26-3-84.4-11.5-17.6-1.5-6-1.2-7-2.7-7-4.9-2.4-2.7-2.4-4-1.3-4-.5-4 .9-8 1.2-3 2.6-4 5.9-5.3 7-3.4z"/>
<path fill="#8000be" fill-rule="evenodd" d="M663.5 490.5l11 .2 16 2.1 16 3.2 15 3.8 16 5 16 6 14 6 14 7.1 11.1 6.6 9.4 7 5.7 6 1.5 3 .3 2-.2 2-1.4 2-5.2 2-9.2.6-13-.7-107-13.8-15-1.2-7-1.6-6-2.5-4-2.6-3-2.6-2.7-3.6-1.5-3-1.2-4-.3-4 .2-4 1-4 2-4 2.4-3 6.1-4.8 9-3.7zM666.5 670.5l11 .6 15 2 15 3 18 4.8 16 5.2 16 6.1 15 6.8 13 6.9 10.6 6.6 8.7 7 4.6 6 .8 3-.2 2-1.3 2-1.6 1-5.6 1.4-10 .2-14-1-97-12.6-20-1.8-8-1.7-7-3-3.7-2.5-3.2-3-3.7-6-1.1-4-.3-5 .4-4 1.3-4 1.6-3 2.7-3.4 7-5.1 9-3.2z"/>
<path fill="#8000c7" fill-rule="evenodd" d="M658.5 491.4l10-.7 12 1.1 15 2.3 17 3.8 15 4.2 17 5.8 15 6.1 13 6.1 13.5 7.4 10.2 7 6.5 6 3 5 .3 2-.5 2.1-1.7 1.9-2 1-8.3 1.3-12-.3-26-2.7-79.5-10.3-16.5-1.3-7-1.5-6-2.4-6.9-4.8-4.3-6-1.9-7 .6-8 1-3 2.3-4 5.2-5 7-3.8zM659.5 671.4l10-.6 12 1.1 14 2.2 18 4 17 4.9 15 5.1 15 6.1 14 6.6 13.6 7.7 10 7 6.1 6 2.4 5 0 2-.9 2-1.2 1.1-3 1.3-8 1-12-.4-25-2.5-80.7-10.5-16.3-1.3-6-1.3-7-2.8-6.3-4.6-4.3-6-1.3-4-.6-4 .2-4 .8-4 3.1-6 5.4-5.1 7-3.7z"/>
<path fill="#8100d0" fill-rule="evenodd" d="M660.5 491.5l9-.4 15 1.6 14 2.5 16 3.7 17 5 14 5 15 6.2 12 5.8 11.8 6.6 10 7 6 6 1.8 3 .5 2-.1 2-1 2-4 2.1-8 1-12-.3-25-2.5-78-9.8-15-1.2-7-1.5-6-2.4-6.2-4.4-4.5-6-1.9-7 .1-5 .8-4 3.1-6 5.6-5.2 7-3.5zM662.5 671.5l8-.2 16 1.7 16 2.9 16 4 14 4.2 16 5.8 14 5.9 13 6.4 12.5 7.3 8.1 6 5.6 6 1.4 3 .3 2-1.1 3-1.8 1.3-3 1.1-8 .8-13-.4-30-3.2-67.5-8.6-18.5-1.6-6-1.1-7-2.7-7-5-2.2-2.6-2.3-4-1.1-4-.3-4 .2-4 1.1-4 3.7-6 5.9-4.9 8-3.5z"/>
<path fill="#8200d9" fill-rule="evenodd" d="M665.5 491.5l10 .5 15 2 15 3.1 15 3.9 16 5.1 15 5.7 14 6.3 12.2 6.4 9.5 6 7.4 6 4 5 1 3-.2 2-.9 1.8-1.5 1.2-5.5 1.6-9 .5-13-.7-28-2.9-67.9-8.5-14.1-1.1-7-1.5-7-3-3.4-2.4-3.1-3-3.5-6-1-4-.2-4 .5-4 1.3-4 4.2-6 6.2-4.5 8-3.1zM658.5 672.3l9-.8 10 .7 17 2.5 15 3.3 15 4.1 15 4.9 15 5.9 14 6.4 12 6.5 10 6.7 6.6 6 3 5 .2 2-.5 2-2 2-2.3 1-7 1.1-11-.1-28-2.6-76-9.4-12-.8-7-1.3-6-2.2-7-4.7-4.5-6-1.9-7 .6-8 2.8-6 5-5.1 6-3.4z"/>
<path fill="#8100e2" fill-rule="evenodd" d="M658.5 492.5l9-.7 11 .9 15 2.3 14 3 15 4.1 15 4.9 15 5.9 13 5.9 12.3 6.7 9 6 6.7 6 2.9 5 .2 2-.6 2-1.5 1.6-2 1-7 1.3-11 0-26-2.2-71.9-8.7-16.1-1.3-7-1.4-6-2.3-6-4-2.8-3-1.8-3-2-7 .6-8 2.8-6 5.2-5.2 6-3.3zM660.5 672.4l9-.5 11 1 14 2.2 17 3.8 14 4 15 5 15 6 13 6.2 11.5 6.4 9.9 7 5 5 1.8 3 .6 2-.1 2-1.1 2-3.8 2-7.8 1.1-11-.2-25-2.2-72-8.7-16-1.3-7-1.5-6-2.5-6.4-4.7-4.1-6-1.4-6 .6-8 2.9-6 5.4-5.3 8-4z"/>
<path fill="#7f00eb" fill-rule="evenodd" d="M661.5 492.5l8-.3 15 1.7 13 2.3 16 3.8 16 4.8 14 5 14 6 11.5 5.7 10.2 6 8 6 4.5 5 1.4 3 .1 2-1.5 3-5.2 2.2-8 .7-12-.3-31-3-62-7.3-13-1-7-1.4-6-2.4-6.3-4.5-4.2-6-1.6-7 .1-4 .8-4 3.4-6 5.8-5 8-3.5zM663.5 672.4l8 0 15 1.8 15 2.8 16 4 16 5 13 4.9 12 5.1 12 6 10.8 6.5 7.6 6 4.1 5 .9 4-1.4 3-5 2.2-8 .8-12-.3-26-2.4-67-7.9-13-.9-8-1.7-6-2.5-3.5-2.3-3.2-3-3.6-6-1-4-.2-4 1.5-7 3.9-6 6.1-4.7 7-2.8z"/>
<path fill="#7d00f3" fill-rule="evenodd" d="M657.5 493.4l8-.9 9 .5 15 2.1 15 3.1 15 4 15 4.9 13 5 13 5.8 12.2 6.6 8.9 6 5.5 5 2.9 5 .1 2-.6 2-3 2.2-7 1.5-11 .1-27-2.1-67.1-7.7-12.9-.9-7-1.3-6-2.2-6-3.9-4.5-5.7-2-6 .3-8 2.5-6 4.6-5 6.1-3.7zM658.5 673.4l8-.8 8 .4 15 2.1 15 3 15 4 15 4.8 14 5.4 13 5.9 11.7 6.3 9 6 5.5 5 2.9 5 .2 2-.6 2-2.7 2.2-7 1.5-10 .3-24-1.7-72.3-8.3-12.7-.9-7-1.4-6-2.4-6-4.2-3.9-5.1-1.9-6 .3-8 2.6-6 4.6-5 6.3-3.7z"/>
<path fill="#7500f7" fill-rule="evenodd" d="M659.5 493.4l9-.6 10 .9 14 2.3 14 3 14 3.9 15 5 13 5.1 13 6.1 9.8 5.4 8.8 6 5.1 5 1.9 3 .5 2-.2 2-.9 1.7-4 2.2-7 1-10.2.1-23.8-1.8-64.3-7.2-16.7-1.3-6-1.2-6-2.3-6.2-4.2-2.6-3-1.8-3-1.6-7 .7-7 3-6 4.5-4.4 7-3.7zM660.5 673.4l9-.5 11 1.1 13 2.1 17 3.9 14 4 14 4.8 13 5.3 12 5.7 10 5.7 8.3 6 4.8 5 1.5 3 .2 2-1.3 3-4.5 2.2-7 .9-11-.1-23-1.7-64.5-7.3-15.5-1.2-7-1.4-6-2.4-6-4.4-3.9-5.6-1.6-7 .7-7 3-6 4.8-4.5 7-3.6z"/>
<path fill="#6d00f9" fill-rule="evenodd" d="M660.5 493.4l8-.4 11 1.1 16 2.7 14 3.2 14 4.1 14 4.8 13 5.3 12 5.8 9.5 5.5 8.1 6 4.5 5 1.3 4-1 3-1.4 1.2-3 1.2-7 1-11 0-25-1.9-62-6.9-15-1.1-7-1.5-6-2.5-5.8-4.5-3.9-6-1.3-7 1.1-7 2.9-5.3 5-4.5 7-3.5zM661.5 673.5l8-.4 11 1.1 16 2.7 14 3.3 13 3.8 15 5.1 14 5.8 11.4 5.6 10.2 6 6.6 5 4.5 5 1.4 4-.9 3-4.2 2.4-8 1.1-11 0-25-2-59-6.5-17-1.4-7-1.4-6-2.5-6-4.5-3.6-5.2-1.7-7 .8-7 3.1-6 5.4-4.9 7-3.4z"/>
<path fill="#6400fb" fill-rule="evenodd" d="M661.5 493.5l8-.3 14 1.6 13 2.4 15 3.6 14 4.2 14 5 12 5.1 11 5.4 10 6 6.5 5 4.2 5 1 4-1.5 3-4.5 2-7.7.9-10 0-23-1.7-64-7-12-.8-7-1.3-6-2.4-6.5-4.7-3.9-6-1.3-7 1-7 3.6-6 5.1-4.2 7-3.2zM663.5 673.5l7-.2 14 1.7 15 2.8 13 3.2 14 4.2 14 5 13 5.6 11.3 5.7 9.7 6 6.2 5 3.7 5 .3 4-2.2 2.7-5 1.7-7 .7-11-.2-22-1.7-62-6.7-14-1.1-7-1.4-6-2.5-5.9-4.5-3.9-6-1.2-7 1.1-7 3.6-6 5.3-4.3 7-3.1z"/>
<path fill="#5b00fd" fill-rule="evenodd" d="M664.5 493.4l9 .4 15 2.1 14 2.9 13 3.4 26 8.9 13 5.8 10.7 5.6 9.2 6 5.5 5 2.4 4 .3 2-.4 2-2.7 2.5-5 1.4-8 .6-11-.3-23-1.8-59-6.4-12-.8-8-1.6-6-2.6-6.1-5-3.4-6-.9-7 1.4-7 3.3-5 5.7-4.6 8-3.1zM666.5 673.5l9 .5 14 2 14 2.9 15 4.1 13 4.2 13 5 13 5.9 9.9 5.4 7.5 5 5.6 5 2.4 4 .4 2-.3 2-2.5 2.4-5.4 1.6-8.6.6-12-.4-93-9-8-1.8-6-2.8-5.5-4.6-3.3-6-.9-4 0-4 .7-4 1.2-3 2-3 2.8-2.9 6-3.7 8-2.6z"/>
<path fill="#5300ff" fill-rule="evenodd" d="M657.5 494.5l8-.9 8 .3 14 2 15 3.1 14 3.7 13 4.2 13 5 12.5 5.6 11 6 7.4 5 5.3 5 2.2 4 .1 2-.6 2-2.9 2.2-6 1.4-10.4.4-25.6-1.6-60.4-6.4-13.6-1-7-1.3-5-1.9-6-4-2.6-2.8-1.8-3-1.7-6 .4-7 2-5 4.7-5.3 6-3.5zM659.5 674.3l8-.7 8 .6 14 2 17 3.7 14 3.9 13 4.4 12 4.7 12 5.6 10.7 6 7 5 4.9 5 1.6 4-.6 3-1.6 1.6-2 .9-7 1.4-10 .2-25-1.7-60.7-6.4-12.3-.8-7-1.3-6-2.4-6-4.2-3.8-5.3-1.6-6 .4-7 2.7-6 4.3-4.4 6-3.5z"/>
<path fill="#4900ff" fill-rule="evenodd" d="M658.5 494.4l8-.7 8 .5 14 2 17 3.7 14 3.9 13 4.4 12 4.7 11.9 5.6 10.6 6 6.9 5 4.6 5 1.4 4-.9 3-3.5 2.1-7 1.3-10 .2-27-1.8-55-5.8-15-1.1-7-1.4-5-1.9-6-4-4.2-5.6-1.7-6 .4-7 2-5 4.5-5.1 6-3.6zM659.5 674.5l8-.7 8 .5 16 2.5 14 3 15 4.2 12 4 13 5.2 11.4 5.3 10.6 6 7 5 4.7 5 1.4 4-.8 3-1.3 1.1-3 1.4-7 1.1-9 .1-24-1.5-59.3-6.2-13.7-1-7-1.3-6-2.3-6-4.4-3.6-5-1.6-6 .4-7 2.1-5 4.7-5.2 6-3.5z"/>
<path fill="#4000ff" fill-rule="evenodd" d="M659.5 494.4l8-.6 10 .9 14 2.2 14 3.1 26 8 13 5.2 11.4 5.3 8.9 5 7.2 5 5 5 1.9 4-.1 2-1.1 2-3.2 1.8-7 1.3-10 .2-26-1.7-55-5.7-15-1.1-6-1.1-6-2.2-6-4.1-4.1-5.4-1.6-6 .4-7 2.7-6 4.6-4.7 7-3.6zM660.5 674.4l8-.5 10 .9 14 2.3 14 3.1 14 4 14 4.8 12 4.8 11 5.3 9.4 5.4 6.9 5 4.6 5 1.2 4-1.1 3-4 2.1-7 1.1-10 .2-26-1.7-54.1-5.7-15.9-1.2-6-1.2-6-2.4-5.8-4.2-3.6-5-1.1-3-.6-4 .7-7 2.5-5 4.9-4.8 7-3.5z"/>
<path fill="#3700ff" fill-rule="evenodd" d="M660.5 494.4l8-.5 11 1.1 16 2.9 13 3.1 25 7.9 13 5.4 10.8 5.2 10 6 6.3 5 3.3 4 1 4-1.5 3-4.6 2-7.3.9-9 .1-25-1.6-55-5.7-14-1-7-1.4-6-2.5-6-4.6-3.3-5.2-1.4-6 .8-7 2.9-5.6 4.7-4.4 6.3-3.2zM661.5 674.4l8-.4 10 1 13 2.2 16 3.7 26 8.3 12 4.9 11.3 5.4 10.1 6 6.3 5 3.3 4 1.1 4-1.4 3-4.3 2-6.4.9-10 .2-25-1.6-55-5.7-14-1-7-1.3-6-2.4-6-4.5-3.7-5.6-1.3-6 .8-7 2.5-5 5.3-5 6.4-3.2z"/>
<path fill="#2e00ff" fill-rule="evenodd" d="M660.5 494.5l8-.5 10 1 13 2.2 16 3.6 14 4.1 12 4.2 12 4.9 11.2 5.5 10 6 6.3 5 3.1 4 .8 4-.8 2-1.1 1-3.5 1.5-7 1.1-10 .1-24-1.5-69-6.6-7-1.5-6-2.4-6-4.7-3.2-5-1.3-6 .8-7 2.7-5.4 5-4.6 7-3.4zM662.5 674.4l7-.3 11 1.2 15 2.6 13 3.1 14 4.1 13 4.6 12 5 11 5.5 8.8 5.3 6.3 5 3.1 4 .9 4-.7 2-1.1 1-4.3 1.8-7 .9-10 .1-23-1.5-69-6.6-7-1.4-6-2.4-6-4.5-3.5-5.4-1.3-7 1.1-7 3-5 5.7-4.8 6-2.6z"/>
<path fill="#2500ff" fill-rule="evenodd" d="M661.5 494.5l7-.4 10 1 15 2.6 14 3.3 14 4.1 12 4.2 12 5 10.7 5.2 10 6 6.1 5 3 4 .6 4-1 2-1.3 1-4.1 1.5-7 .8-10 .1-26-1.7-65-6.2-7-1.5-6-2.5-5.8-4.5-3.6-6-1-7 1.2-6 2.9-5 5.3-4.5 6-2.8zM663.5 674.4l7-.1 13 1.6 13 2.4 15 3.7 25 8.3 12 5.1 10.1 5.1 8.1 5 6.2 5 3 4 .7 4-.9 2-1.2 1-4 1.5-7 .9-11 .1-25-1.7-65-6.2-7-1.4-6-2.4-6-4.6-3.4-5.2-1.3-7 1.2-7 3-5 5.5-4.6 7-3z"/>
<path fill="#1c00ff" fill-rule="evenodd" d="M662.5 494.5l7-.2 13 1.5 13 2.5 15 3.7 25 8.3 12 5.1 10 5.1 8.1 5 6 5 2.9 4 .4 4-2.4 2.8-4 1.4-7 .9-11 0-24-1.6-65-6.2-7-1.4-6-2.5-5.6-4.4-3.2-5-1-3-.4-4 1.1-7 3-5 5.1-4.4 7-3.1zM664.5 674.5l8 .1 12 1.6 14 2.7 13 3.2 13 4 13 4.8 12 5.2 10.3 5.4 7.7 5 5.6 5 2.4 4 .3 2-.6 2-2.7 2.3-5 1.3-7 .6-10 0-24-1.7-64-6-7-1.4-6-2.5-6-4.6-3.2-5-1.3-7 1.2-7 3-5 5.3-4.5 7-3z"/>
<path fill="#1300ff" fill-rule="evenodd" d="M663.5 494.5l7 0 13 1.6 14 2.7 13 3.3 13 4 13 4.8 12 5.2 10.3 5.4 7.6 5 4.6 4 2.7 4 .5 2-.3 2-2.4 2.6-4.2 1.4-7.8.8-11 0-22-1.5-65-6.1-7-1.4-6-2.6-5.4-4.2-3.3-5-.9-3-.5-4 1.2-7 3-5 5.9-4.8 7-2.9zM666.5 674.5l9 .5 13 2 26 6.1 12 3.9 13 4.9 12 5.4 9.5 5.2 7.2 5 4.3 4 2.2 4 .2 2-.7 2-2.6 2-5.1 1.4-8 .6-10-.1-22-1.5-64-6-8-1.7-6-2.8-5-4.1-3.4-5.8-1-7 .6-4 1-3 3.8-5.2 6-4.2 7-2.5z"/>
<path fill="#0a00ff" fill-rule="evenodd" d="M665.5 494.5l8 .4 14 2 26 6.2 12 3.8 13 5 10.3 4.6 9.4 5 7.6 5 4.5 4 2.6 4 .4 2-.4 2-2.4 2.3-5.6 1.7-7.4.6-11-.1-25-1.8-60-5.6-7-1.4-6.1-2.7-5.1-4-2.3-3-1.4-3-1-7 .5-4 1-3 3.6-5 5.8-4.2 7-2.6zM658.5 675.5l7-.9 8 .3 14 2 14 2.9 13 3.5 14 4.5 11 4.3 11.9 5.4 9 5 7.3 5 4.1 4 2.1 4 0 2-.8 2-3.1 2-6.5 1.4-9 .3-25-1.3-67-6.1-6-1.2-6-2.2-5.6-3.9-3.8-5-1.7-6 .4-7 2.2-5 4.5-4.8 5-3z"/>
<path fill="#0100ff" fill-rule="evenodd" d="M658.5 495.4l8-.8 7 .4 14 2 14 3 14 3.8 12 4 11 4.3 11.9 5.4 9 5 7.1 5 4 4 1.8 4-.4 3-1.4 1.5-2 1.1-6.6 1.4-9.4.4-24-1.2-66-6.1-7-1.3-6-2.3-6-4.4-3.4-5.1-1.3-6 .5-6 2.1-5 4.1-4.5 6-3.5zM659.5 675.4l7-.7 7 .3 14 2 14 2.9 14 3.8 13 4.3 12 4.7 11 5.1 10 5.7 6.7 5 3.6 4 1.3 4-1.2 3-3.5 2-5.9 1.1-10 .4-24-1.3-65-5.9-7-1.3-6-2.2-5.5-3.8-3.7-5-1.8-6 .5-7 2.2-5 4.3-4.6 6-3.5z"/>
<path fill="#0008ff" fill-rule="evenodd" d="M658.5 495.5l7-.8 7 .3 14 2 14 2.9 14 3.8 13 4.3 12 4.7 10.3 4.8 9 5 7 5 3.9 4 1.7 4-.7 3-3.2 2.3-6 1.3-10 .5-26-1.4-64-5.8-6-1.2-6-2.3-5.8-4.4-3.4-5-1.4-6 .5-6 2.2-5 3.9-4.3 6-3.6zM660.5 675.3l8-.5 7 .5 15 2.4 14 3.1 14 4 12 4.1 11.3 4.6 10.5 5 8.6 5 6.7 5 3.4 4 1.1 4-1.5 3-4.1 2-6 .9-9 .3-26-1.4-62-5.7-7-1.2-6-2.3-5.2-3.6-3.9-5-1.7-6 .4-7 3-6 4.1-4 6.3-3.3z"/>
<path fill="#0011ff" fill-rule="evenodd" d="M659.5 495.4l8-.6 7 .6 15 2.3 14 3.1 14 4 12 4.2 11.2 4.5 10.4 5 8.6 5 6.4 5 3.3 4 .8 4-.9 2-1.1 1-3.7 1.5-6 1-9 .3-25-1.4-63-5.6-6-1.2-6-2.4-5.6-4.2-3.4-5-1.4-6 .5-6 2.2-5 4.7-4.9 6-3.3zM660.5 675.5l8-.6 9 .8 13 2.2 14 3.1 25 7.8 11.7 4.7 10.4 5 8.6 5 6.5 5 3.3 4 .9 4-.8 2-1.1 1-3.5 1.5-6 1-9 .4-25-1.3-63-5.7-7-1.4-5-2.1-6-4.4-3.3-5-1.4-6 .5-6 3-6 4.2-4 6-3.2z"/>
<path fill="#001aff" fill-rule="evenodd" d="M660.5 495.4l8-.5 8 .8 13 2.2 14 3.1 25 7.8 11.6 4.7 10.4 5 8.5 5 6.3 5 3.1 4 .6 4-1.5 2.3-4 1.9-6 .9-10 .3-23-1.2-62-5.5-7-1.3-6-2.4-5.4-4-3.4-5-1.4-6 .8-7 2.6-5 4.8-4.4 6-3zM661.5 675.5l7-.5 9 .9 13 2.1 14 3.2 25 7.8 12 4.9 9.5 4.6 8.5 5 6.4 5 3.2 4 .6 4-1.2 2.1-4 2.1-6 1-10 .3-24-1.2-62-5.5-6-1.2-6-2.3-5.8-4.3-3.3-5-1.4-6 .8-7 2.7-5 5-4.5 6-2.9z"/>
<path fill="#0023ff" fill-rule="evenodd" d="M661.5 495.4l7-.3 10 1 15 2.7 13 3.2 13 3.9 12 4.3 11 4.6 9.2 4.7 8 5 4.8 4 2.9 4 .6 2-.2 2-1.4 2-4.7 2-7.2.9-9 .2-25-1.4-58-5.1-7-1.3-6-2.5-5.1-3.8-3.5-5-1.4-6 .8-7 2.7-5 4.5-4.2 6-3zM662.5 675.5l7-.3 9 1 15 2.6 13 3.1 25 8.1 10.7 4.5 10 5 8.1 5 4.8 4 3 4 .6 2-.2 2-2 2.5-4 1.6-6.7.9-9.3.2-25-1.4-59-5.2-6-1.1-6-2.4-5.5-4.1-3.4-5-1.4-6 .8-7 2.7-5 4.8-4.3 6-2.9z"/>
<path fill="#002cff" fill-rule="evenodd" d="M662.5 495.4l7-.1 12 1.4 25 5.4 24 7.9 10.7 4.5 9.9 5 7.9 5 4.7 4 2.8 4 .4 2-.3 2-2.1 2.2-5 1.7-15 .9-24-1.3-58-5-7-1.4-6-2.4-5.8-4.7-3-5-.8-3-.2-4 1.1-6 3.2-5 4.5-3.7 6-2.7zM664.5 675.4l6 0 13 1.7 14 2.7 12 3.1 24 8.1 10.3 4.5 9.6 5 7.5 5 4.3 4 2.3 4-.2 3-1.8 2.1-5.2 1.9-6.8.8-10 0-24-1.3-57-5-7-1.5-6-2.6-5.2-4.4-2.9-5-1-7 1.2-6 3.2-5 5.1-4 6.6-2.7z"/>
<path fill="#0035ff" fill-rule="evenodd" d="M663.5 495.5l6-.1 13 1.6 14 2.8 12 3.1 24 8.1 10.2 4.5 9.5 5 7.4 5 4.2 4 2 4-.4 3-2.1 2-4.8 1.6-7 .8-9 .1-23-1.3-57-4.9-7-1.3-6-2.5-5.6-4.5-3-5-1.1-7 1.2-6 3.2-5 5.3-4.1 6-2.5zM666.5 675.5l8 .4 13 2 25 6 23 8.2 9.8 4.4 9.1 5 5.8 4 4.2 4 2.1 4-.4 3-2.6 2.3-5 1.5-7 .7-10 0-22-1.2-57-4.9-7-1.5-6-2.7-5-4.2-2-3-1.3-3-.6-7 1.6-6 3.8-5 5.5-3.7 7-2.4z"/>
<path fill="#003eff" fill-rule="evenodd" d="M665.5 495.5l8 .4 13 2 25 6 23 8.2 9.7 4.4 9 5 5.7 4 4.1 4 1.8 4-.7 3-2.5 2-5.1 1.4-7 .7-10 0-24-1.4-53-4.5-8-1.7-5.5-2.5-4.9-4-2.1-3-1.3-3-.6-7 1.6-6 3.8-5 5-3.5 7-2.5zM659.5 676.3l7-.7 7 .3 13 2 14 2.9 24 7.2 11.4 4.5 10.7 5 8.7 5 5.4 4 3.6 4 1.2 4-1.4 3-3.6 1.8-6 1.1-8 .4-24-1-59-5-6-1-6-2.2-5-3.3-3.9-4.8-1.7-5 .2-7 1.9-5 4.5-5 6-3.4z"/>
<path fill="#0047ff" fill-rule="evenodd" d="M658.5 496.4l6-.7 7 .1 13 1.9 12 2.4 25 7.2 12 4.6 10.1 4.6 9 5 5.6 4 4 4 1.6 4-.9 3-3 2-5.4 1.3-9 .6-26-1.1-57-4.7-7-1.4-5-2-5.2-3.7-3.6-5-1.5-6 .5-6 2.4-5 3.8-4 5.6-3.2zM659.5 676.5l7-.8 7 .3 13 2 14 3 24 7.2 12 4.8 9.6 4.5 8.6 5 5.3 4 3.4 4 1 4-.7 2-1 1-3.2 1.5-6 1.1-8 .4-23-.9-59-4.9-6-1-6-2.2-5-3.4-3.7-4.6-1.8-6 .2-6 2-5 4.3-4.8 5-3z"/>
<path fill="#0050ff" fill-rule="evenodd" d="M659.5 496.4l7-.7 6 .3 13 2 14 3 24 7.2 12 4.8 9.5 4.5 8.5 5 5.2 4 3.3 4 .8 3-1.2 3-3.5 2-5.6 1.1-9 .5-25-1-56-4.7-7-1.3-5-2-5-3.6-3.6-5-1.5-6 .5-6 2.3-5 3.9-4 5.4-3.1zM660.5 676.4l7-.6 6 .4 13 1.9 14 3.1 23 6.9 11.3 4.4 10.7 5 8.6 5 5.2 4 3.3 4 .8 4-1.9 2.8-3 1.4-6 1.1-9 .4-25-1.1-55-4.5-7-1.3-5-2-5.4-3.8-3.6-5-1.4-6 .5-6 2.4-5 4-4 5.5-3.1z"/>
<path fill="#0059ff" fill-rule="evenodd" d="M660.5 496.3l7-.5 6 .5 12 1.8 14 3 13 3.6 12 4.1 19.9 8.7 8.5 5 5.1 4 3.1 4 .7 3-1.4 3-3.9 1.9-6 1.1-8 .3-24-.9-56-4.6-7-1.3-5-2.1-5-3.6-3.5-4.8-1.4-6 .5-6 2.3-5 4.1-4.1 6-3.3zM661.5 676.4l7-.5 9 .9 13 2.2 13 3.1 24 7.7 19.3 8.7 8.1 5 4.7 4 2.6 4 .2 3-1.2 2-4 2-6.7 1.1-9 .4-23-1-55-4.5-7-1.4-5-1.9-5.2-3.7-3.6-5-1.4-6 .5-6 2.4-5 4.3-4.2 6-3.2z"/>
<path fill="#0062ff" fill-rule="evenodd" d="M660.5 496.5l7-.6 6 .5 12 1.8 14 3.1 24 7.3 11 4.4 9.3 4.5 8.4 5 5 4 3.1 4 .5 3-.7 2-1 1-3.6 1.6-6 1.1-8 .4-23-.9-56-4.5-6-1.1-6-2.4-5-3.6-3.3-4.6-1.5-6 .6-6 2.3-5 4-4 5.9-3.2zM662.5 676.4l7-.3 9 1 12 2.1 15 3.6 23 7.6 9.7 4.1 9.8 5 6.2 4 4.6 4 2.5 4 0 3-1.8 2.3-4.3 1.7-6.7.9-9 .3-22-1-54-4.4-7-1.3-5.9-2.5-5.1-4-3-5-1.1-6 .9-6 2.9-5 4.3-3.7 6-2.9z"/>
<path fill="#006bff" fill-rule="evenodd" d="M661.5 496.4l7-.3 8 .8 13 2.3 13 3 24 7.8 18.6 8.5 6.5 4 4.9 4 2.9 4 .4 3-1.3 2.4-4 2-6 1-9 .4-24-1-53-4.2-6-1.1-6-2.4-5.4-4.1-3.1-5-1.1-6 .8-6 2.8-4.9 4-3.6 6-3zM662.5 676.5l7-.3 8 .8 12 2.1 13 3 24 7.7 10 4.1 9.1 4.6 6.6 4 4.9 4 3 4 .4 3.1-.8 1.9-1.1 1-3.1 1.4-6 1.1-9 .4-24-.9-53-4.3-6-1-6-2.3-5-3.6-3.5-4.8-1.4-6 .6-6 2.4-5 4.9-4.6 6-2.9z"/>
<path fill="#0074ff" fill-rule="evenodd" d="M662.5 496.4l6-.2 10 1.1 14 2.6 12 3 22 7.3 18.1 8.3 6.4 4 4.8 4 2.8 4 .2 3-1.3 2.2-4 1.9-6 1.1-10 .4-23-1-52-4.1-6-1.1-6-2.5-5.2-3.9-3.2-5-1.1-6 .9-6 2.9-5 4.7-4 6-2.7zM663.5 676.5l6-.2 11 1.3 24 5.2 22 7.2 18.6 8.5 6.5 4 4.8 4 2.8 4 .3 3.1-2 2.7-4 1.6-6 .9-9 .4-23-1-52-4.1-7-1.3-6-2.7-4.6-3.6-3.1-5-1.1-6 .9-6 3-5 4.8-4 6.1-2.7z"/>
<path fill="#007dff" fill-rule="evenodd" d="M663.5 496.4l6-.1 11 1.5 24 5.2 23 7.8 10 4.3 8.3 4.4 6 4 4.2 4 2 4-.6 3-2.5 2-4.4 1.3-15 1-22-.9-51-4-7-1.5-6-2.7-4.8-4.2-2.8-5-.7-6 1.3-6 3-4.6 5-3.8 6-2.4zM665.5 676.5l7 .2 11 1.5 13 2.7 12 3.2 22 7.7 10.3 4.7 7.1 4 5.7 4 3.8 4 1.2 3-.5 3-2.3 2-4.3 1.4-7 .8-9 .2-22-1-50-3.9-7-1.4-6-2.6-5.2-4.5-2.7-5-.7-6 1.3-6 3.3-4.8 5-3.7 6-2.3z"/>
<path fill="#0086ff" fill-rule="evenodd" d="M664.5 496.5l6 0 11 1.5 13 2.7 12 3.1 21 7.2 10.2 4.5 7.5 4 5.9 4 4.2 4 1.8 4-.8 3-2.8 2-4 1.1-7 .8-9 .2-21-1-50-3.8-7-1.5-6-2.7-4.7-4.1-2.7-5-.8-6 1.3-6 2.9-4.4 5-3.9 6-2.4zM667.5 676.5l8 .6 12 2 24 6 21 7.8 9.7 4.6 6.7 4 5.2 4 2.5 3 1.2 4-1.3 2.6-3 1.7-5 1.2-16 .6-20-.9-49-3.8-8-1.7-5.5-2.7-4.5-4-2.7-5-.7-7 1.8-6 3.6-4.5 5-3.3 7-2.4z"/>
<path fill="#008fff" fill-rule="evenodd" d="M658.5 497.4l6-.8 7 .2 11 1.5 13 2.7 24 7.1 19.7 8.4 7.1 4 5.4 4 3.6 4 .9 3-1 3-3.3 2-5.4 1.2-7 .6-23-.6-53-4-6-.9-6-2.3-5-3.4-3.4-4.6-1.5-5 .2-6 2.1-5 3.5-4 5.1-3.1zM659.5 677.5l6-.8 6 .1 11 1.5 13 2.7 24 7 11 4.2 9.2 4.3 7.1 4 5.5 4 3.6 4 1 3-.9 3-3.1 2-5.4 1.3-8 .6-23-.6-52-3.9-6-1-6-2.1-5-3.4-3.8-4.9-1.4-5 .3-6 2-5 3.7-4 5.2-3.2z"/>
<path fill="#0098ff" fill-rule="evenodd" d="M659.5 497.3l6-.7 6 .3 13 1.9 11 2.4 23 6.7 11 4.3 9.2 4.3 7 4 5.4 4 3.4 4 .8 3-1.2 3-3.6 1.9-5.1 1.1-7.9.5-24-.6-50-3.8-6-1-6-2.2-5-3.5-3.3-4.4-1.4-5 .2-6 2-5 3.6-4 5.9-3.4zM660.5 677.4l7-.7 6 .4 12 1.9 13 2.8 23 7.1 11 4.4 8.6 4.2 6.7 4 5 4 2.8 4 .3 3-1 2-3.6 2-5.8 1.2-8 .5-24-.8-49-3.6-7-1.3-6-2.4-4.8-3.6-3.2-5-1.1-5 .6-6 2.5-5 4-3.8 5-2.7z"/>
<path fill="#00a1ff" fill-rule="evenodd" d="M659.5 497.4l6-.6 6 .2 12 1.8 12 2.5 23 6.8 11 4.3 8.7 4.1 6.9 4 5.4 4 3.3 4 .7 3-1.5 3-3.5 1.7-6 1.2-7 .4-23-.6-50-3.7-7-1.2-5-2-5-3.6-3.1-4.2-1.5-5 .3-6 2-5 3.6-4 5.7-3.3zM660.5 677.5l6-.7 6 .3 12 1.8 13 2.8 22 6.6 19.2 8.2 7 4 5.4 4 3.3 4 .8 3-1.4 3-3.3 1.7-6 1.3-7 .4-23-.6-50-3.7-7-1.2-6-2.4-4.6-3.5-3.3-5-1.1-5 .6-6 2.6-5 3.8-3.6 5-2.7z"/>
<path fill="#00aaff" fill-rule="evenodd" d="M660.5 497.4l7-.6 6 .5 12 2 13 2.9 22 6.8 10 4.1 9 4.4 6.6 4 4.8 4 2.1 3 .6 3-1.1 2.4-3 1.8-6 1.3-8 .6-23-.6-49-3.6-7-1.3-5-2-5-3.6-3.4-5-1.1-5 .6-6 2.5-5 3.4-3.3 5-2.9zM661.5 677.4l6-.5 6 .4 12 1.9 13 2.9 23 7.1 18.6 8.3 6.5 4 4.9 4 2.6 4 0 3-1.6 2.1-4 1.8-6 .9-7 .4-23-.7-49-3.6-7-1.4-5-2.1-4.4-3.4-3.3-5-1.1-5 .6-6 2.6-5 3.6-3.5 6-3.1z"/>
<path fill="#00b3ff" fill-rule="evenodd" d="M660.5 497.5l6-.6 6 .4 12 1.9 13 2.9 23 7.1 10.4 4.3 8.1 4 6.5 4 4.7 4 2 3 .5 3-1 2-3.2 2-6 1.3-8 .6-22-.6-49-3.5-7-1.3-5-2-4.8-3.5-3.4-5-1.2-5 .6-6 1.9-4 3.9-4.2 6-3.2zM662.5 677.4l7-.3 8 .9 24 5 22 7.2 10.1 4.3 7.7 4 6.1 4 4.2 4 1.6 3-.1 3-1.7 2-3.9 1.6-6 1-8.4.4-21.6-.7-48-3.5-7-1.4-5-2.2-4.2-3.2-3.4-5-1.1-6 1-6 2.2-4 4.5-4 5-2.5z"/>
<path fill="#00bcff" fill-rule="evenodd" d="M661.5 497.5l7-.4 7 .7 12 2.1 12 2.8 21.2 6.8 17.7 8 6.4 4 4.6 4 2 3 .2 3-1.1 2-3.7 2-5.3 1.1-9 .5-21-.5-48-3.4-6-1-6-2.4-5-3.7-3-4.6-1.2-5 .6-6 2.6-5 4-3.7 5-2.6zM663.5 677.4l6-.2 8 .9 24 5.1 22 7.2 9.5 4.1 7.7 4 6 4 4.2 4 1.4 3-.3 3-1.9 2-4.6 1.6-14 1.2-21-.7-47-3.4-6-1.1-6-2.6-4.9-4-2.5-4-1.1-6 1-6 2.5-4.3 4.3-3.7 5.7-2.7z"/>
<path fill="#00c5ff" fill-rule="evenodd" d="M662.5 497.5l6-.3 8 .9 24 5.1 22 7.2 9.5 4.1 7.6 4 5.9 4 3.9 4 1.3 3-.5 3-2.4 2-3.3 1.1-6 .9-8 .4-22-.7-45-3.1-7-1.4-5.3-2.2-4.7-3.6-2.9-4.4-1.1-6 .9-6 3.1-5 4-3.2 5-2.3zM664.5 677.4l6 0 11 1.5 23 5.3 21.2 7.3 8.8 4 7.2 4 5.6 4 2.8 3 1.3 3-.4 3-2.3 2-4.2 1.4-6 .8-9 .3-21-.7-45-3.2-6-1.2-6-2.5-4.7-3.9-2.9-5-.7-6 .9-5 3.2-5 4.2-3.3 6-2.5z"/>
<path fill="#00ceff" fill-rule="evenodd" d="M663.5 497.5l6-.1 10 1.3 23 5.2 19.7 6.6 9.2 4 7.6 4 5.8 4 3.1 3 1.7 3-.1 3.3-2 2.1-4 1.5-6 .9-8 .4-21-.7-45-3.1-7-1.3-6-2.7-4.1-3.4-3-5-.8-6 1-5 2.3-4 4.6-4 6-2.7zM665.5 677.5l6 .1 10 1.4 23 5.3 20.6 7.2 8.9 4 7.1 4 5.5 4 2.7 3 1.2 3-.6 3-2.7 2-3.7 1.1-6.7.9-8.3.3-21-.7-44-3.1-6-1.2-6-2.6-4.5-3.7-2.9-5-.8-6 1.4-6 2.8-4 5-3.7 6-2.3z"/>
<path fill="#00d7ff" fill-rule="evenodd" d="M665.5 497.5l6 .2 11 1.7 23 5.5 19 6.7 8.4 3.9 7.1 4 5.3 4 2.6 3 1 3-.9 3-3.3 2-3.9 1-14.3.9-20-.6-43-3-7-1.3-6-2.7-4-3.4-2.9-4.9-.8-6 1.4-6 3.3-4.6 5-3.4 6-2.1zM659.5 678.4l6-.8 6 .1 10 1.4 13 2.7 22 6.6 10.5 4.1 8.3 4 6.8 4 4.8 4 2.2 3 .5 3-1.1 2.3-3 1.8-5 1.2-8 .6-22-.4-46-3.1-6-.9-6-2.4-4.4-3.1-3-4-1.5-5 .3-6 1.6-4 3.3-4 4.7-3z"/>
<path fill="#00e0ff" fill-rule="evenodd" d="M659.5 498.3l6-.7 6 .2 23 4.3 21.4 6.4 10.1 4 8.3 4 6.6 4 4.7 4 2 3 .3 3-1.1 2-3.7 2-4.7 1-6.9.6-22-.3-45-3-6-.9-6-2.1-4.7-3.3-3.2-4-1.5-5 .2-6 1.6-4 3.6-4.3 5-3zM660.5 678.3l6-.6 5 .1 10 1.5 13 2.7 21.8 6.5 10.1 4 8.4 4 6.6 4 4.8 4 2.1 3 .4 3-1.2 2.1-3.4 1.9-4.6 1-7 .7-22-.3-46-3.1-6-1-6-2.3-5-3.9-2.7-4.1-1.1-5 .3-5 2.3-5 3.2-3.4 5-3z"/>
<path fill="#00e9ff" fill-rule="evenodd" d="M659.5 498.4l6-.7 5 .1 10 1.4 13 2.8 21.9 6.5 10 4 8.3 4 6.6 4 4.6 4 1.9 3 .2 3-1.3 2-3.2 1.7-5 1.1-7 .6-21-.3-45-2.9-6-.9-6-2.2-4.5-3.1-3.2-4-1.6-5 .3-6 1.5-4 3.5-4.1 5-3.1zM660.5 678.4l6-.6 5 .1 12 1.9 11 2.3 22 6.7 17.7 7.7 6.6 4 4.7 4 2 3 .2 3-1.2 2-4 2-11 1.4-22-.2-45-3-6-1-5.7-2.2-4.3-3.1-3.5-4.9-1.2-5 .4-5 1.6-4 3.7-4.2 5-3z"/>
<path fill="#00f2ff" fill-rule="evenodd" d="M660.5 498.3l6-.5 5 .2 12 1.9 11 2.5 21 6.3 17.7 7.8 6.5 4 4.5 4 1.8 3 .1 3-1.6 2-4 1.8-12 1.4-22-.4-43-2.8-7-1.4-5-2.2-4.3-3.4-2.7-4-1.2-5 .6-6 2-4 3.6-3.7 5-2.8zM661.5 678.4l6-.6 5 .4 12 1.9 12 2.7 20 6.1 17.2 7.6 6.5 4 4.6 4 1.9 3 .1 3-1.4 2-3.9 1.8-12 1.5-22-.4-43-2.8-7-1.3-5-2.1-4.7-3.7-2.6-4-1.2-5 .6-6 2-4 3.9-3.8 5-2.7z"/>
<path fill="#00fbff" fill-rule="evenodd" d="M660.5 498.4l6-.5 6 .4 11 1.7 13 3 20.5 6.5 9.6 4 7.8 4 6 4 3.1 3 1.7 3-.1 3-1.7 2-3.9 1.6-13 1.4-21-.4-42-2.7-7-1.4-5-2.2-4.1-3.3-2.7-4-1.2-5 .6-6 1.9-4 3.5-3.5 5-2.9zM661.5 678.5l6-.5 5 .3 11 1.7 13 2.9 20 6.2 16.6 7.4 6.5 4 4.6 4 1.7 3-.1 3-1.6 2-3.7 1.6-12 1.5-21-.4-43-2.7-7-1.3-5-2.1-4.5-3.6-2.7-4-1.2-5 .7-6 2-4 3.7-3.7 5-2.7z"/>
<path fill="#00fffa" fill-rule="evenodd" d="M661.5 498.4l6-.4 5 .4 11 1.8 12 2.7 20 6.2 16.6 7.4 6.4 4 3.5 3 2.1 3 .4 3-1 2-3.5 2-5.5 1.2-7 .5-21-.2-43-2.7-6-1.1-5-2-5-3.7-2.7-4-1.2-5 .6-6 2.3-4.4 3.9-3.6 5.1-2.6zM662.5 678.5l6-.4 7 .7 22 4.5 20 6.4 9.1 3.8 7.8 4 6 4 3.1 3 1.6 3-.2 3-1.8 2-3.6 1.4-5 .9-8 .6-21-.4-41-2.6-7-1.3-5-2.2-4.4-3.4-2.6-4-1.2-5 .6-6 2.1-4 4.2-4 5.3-2.6z"/>
<path fill="#00fff1" fill-rule="evenodd" d="M661.5 498.4l6-.4 5 .4 11 1.8 12 2.7 20 6.3 16.4 7.3 6.3 4 3.5 3 2.1 3 .3 3-1.1 2-3.7 2-4.8 1-8 .6-21-.3-42-2.6-6-1.1-5-2-4.9-3.6-2.7-4-1.2-5 .6-6 2.2-4.3 4-3.7 5-2.6zM663.5 678.4l6-.3 7 .9 23 4.9 19 6.3 15.7 7.3 5.9 4 3.1 3 1.6 3-.3 3-2 2-4 1.5-13 1.3-20-.4-41-2.6-7-1.3-5-2.2-4.3-3.3-2.6-4-1.2-5 .6-6 2.5-4.6 4-3.5 5-2.5z"/>
<path fill="#00ffe8" fill-rule="evenodd" d="M661.5 498.5l6-.4 6 .5 22 4.4 20 6.3 16.1 7.2 6.4 4 3.4 3 2 3 .3 3-1.2 2-3.9 2-5.1 1-7 .5-20-.2-42-2.6-7-1.1-5-2-4.8-3.6-2.7-4-1.3-5 .7-6 2.1-4.2 4-3.8 5-2.5zM663.5 678.4l6-.2 7 .8 23 5 19.6 6.5 14.8 7 5.9 4 3.1 3 1.5 3-.3 3-2.1 2-3.5 1.3-13 1.4-20-.4-41-2.5-7-1.4-5-2.1-4.2-3.3-2.7-4-1.2-5 .7-6 2.4-4.5 4-3.6 5-2.4z"/>
<path fill="#00ffdf" fill-rule="evenodd" d="M662.5 498.4l6-.3 7 .8 23 5 19 6.2 15.6 7.4 5.9 4 3 3 1.4 3-.5 3-2.3 2-3.1 1.1-13 1.4-20-.4-41-2.5-6-1.1-5.9-2.5-4.1-3.3-2.9-4.7-.8-6 1-5 2.4-4 4.3-3.5 5-2.3zM663.5 678.5l6-.3 7 .9 22 4.7 20 6.5 15.2 7.2 5.9 4 3 3 1.5 3-.4 3-2.2 2-4 1.4-13 1.2-20-.4-40-2.5-7-1.3-5-2.2-4.1-3.2-2.7-4-1.2-5 .7-6 2.3-4.4 4-3.6 5-2.5z"/>
<path fill="#00ffd6" fill-rule="evenodd" d="M662.5 498.5l6-.3 7 .8 23 4.9 19.7 6.6 14.7 7 5.8 4 3 3 1.3 3-.5 3-2 1.7-3.3 1.3-12.7 1.4-20-.3-41-2.5-6-1.1-5.8-2.5-4.2-3.4-2.8-4.6-.9-6 1.1-5 2.4-4 4.2-3.5 5-2.2zM664.5 678.4l6 0 9 1.2 22 5.1 19.6 6.8 14 7 4.2 3 3 3 1.4 3-.4 3-2.4 2-3.4 1.2-13 1.3-20-.4-40-2.4-7-1.4-5.3-2.3-4.6-4-2.2-4-.8-6 1-5 2.5-4 4.4-3.6 5-2.1z"/>
<path fill="#00ffcd" fill-rule="evenodd" d="M663.5 498.4l5-.2 8 1 22 4.8 19.5 6.5 14.7 7 5.8 4 2.9 3 1.3 3-.6 3-2.6 2-3.1 1-12.9 1.3-20-.3-40-2.5-6-1.1-6-2.6-4.4-3.8-2.3-4-.9-6 1-5 2.5-4 4.1-3.4 5-2.3zM664.5 678.5l6-.1 9 1.3 22 5 19.4 6.8 13.9 7 4.2 3 3 3 1.4 3-.6 3-2.3 1.9-3 1.1-6 1-8 .4-19-.3-40-2.5-7-1.3-5.1-2.3-4.7-4-2.3-4-.8-6 1.1-5 2.5-4 4.3-3.5 5-2.2z"/>
<path fill="#00ffc4" fill-rule="evenodd" d="M663.5 498.4l5-.1 8 .9 23 5.1 20 6.9 14.5 7.3 4.2 3 2.8 3 1.3 3-.7 3-2.7 2-3.2 1-13.2 1.3-20-.5-39-2.3-6-1.2-6-2.6-4.4-3.7-2.3-4-.8-6 1-5 2.5-4 4-3.3 5-2.3zM665.5 678.4l5 .1 10 1.4 21 4.9 19.2 6.7 13.9 7 4.2 3 2.9 3 1.3 3-.6 3-2.6 2-3.3 1.1-14 1.3-19-.4-39-2.4-7-1.4-6-2.8-4-3.8-2.3-4.6-.4-6 1.4-5 3.1-4 4.2-3 6-2.2z"/>
<path fill="#00ffbb" fill-rule="evenodd" d="M663.5 498.5l5-.2 8 1 22 4.8 19.1 6.4 14.6 7 5.7 4 2.8 3 1.3 3-.5 2.5-2 1.9-4 1.5-13 1.3-20-.4-39-2.4-6-1.1-6-2.6-4.3-3.7-2.3-4-.9-6 1.1-5 2.5-4 3.9-3.3 5-2.3zM665.5 678.5l6 .1 9 1.3 21 5 19 6.6 13.8 7 4.2 3 2.9 3 1.3 3-.7 3-2.5 1.9-3.5 1.1-13.5 1.3-19-.4-39-2.4-7-1.3-6-2.9-4-3.8-2.2-4.5-.5-6 1.5-5 3-4 4.2-2.9 6-2.2z"/>
<path fill="#00ffb2" fill-rule="evenodd" d="M664.5 498.5l5-.1 10 1.4 21 5 19.3 6.7 13.8 7 4 3 2.8 3 1.2 3-.8 3-3.1 2-3.6 1-12.6 1.1-19-.4-39-2.3-6-1.2-6-2.6-4.2-3.6-2.3-4-.9-6 1-5 2.5-4 4.9-3.8 6-2.3zM666.5 678.5l6 .3 10 1.6 22 5.4 18.1 6.7 13 7 3.7 3 2.4 3 .6 3-.8 2.1-2.9 1.9-3.3 1-14.8 1.2-19-.5-37-2.2-7-1.4-6-2.8-4-3.9-2.2-4.4-.4-6 1.4-5 3.1-4 4.4-3 5.7-2.1z"/>
<path fill="#00ffa9" fill-rule="evenodd" d="M665.5 498.4l5 .2 10 1.5 21 5 18.1 6.4 13.7 7 4.1 3 2.7 3 1.2 3-1 3-2.8 1.8-4.2 1.2-13.8 1-19-.4-37-2.3-7-1.4-5.8-2.9-4.1-4-1.9-4-.5-6 1.5-5 3-4 4.8-3.3 6-2zM667.5 678.5l6 .4 11 1.9 20 5.1 17.9 6.6 13 7 3.7 3 2.3 3 .6 3-.9 2-2.6 1.8-4 1.2-15 1.1-18-.4-37-2.2-7-1.4-6-2.9-4-3.9-2.1-4.3-.4-6 1.4-5 3.1-4 5-3.3 6-2z"/>
<path fill="#00ffa0" fill-rule="evenodd" d="M665.5 498.5l5 .1 10 1.5 21 5.1 17.9 6.3 13.7 7 4 3 2.7 3 1.1 3-1 3-3.4 2-4 1-13 .9-19-.4-37-2.2-7-1.5-5-2.3-4-3.5-2.7-5-.5-6 1.4-5 3.1-4 4.7-3.2 6-2.1zM660.5 679.3l6-.7 5 .1 22 4.2 20 6.1 16.8 7.5 6.2 4 3.2 3 1.7 3 .1 2.3-1 1.9-3 1.8-5 1.2-7 .7-20-.1-40-2.3-6-.9-6-2.3-4.5-3.3-2.8-4-1.2-5 .4-5 1.7-4 3.4-3.8 5-2.9z"/>
<path fill="#00ff97" fill-rule="evenodd" d="M666.5 498.5l6 .4 11 1.9 20 5 18 6.7 12.8 7 3.6 3 2.2 3 .4 3-1 2-3 1.8-4 1-14 1-18-.4-37-2.2-7-1.4-5.6-2.8-4.1-4-1.9-4-.5-6 1.4-5 3.1-4 4.6-3.1 6-2.1zM660.5 679.3l10-.6 20 3.5 20 5.8 17.7 7.5 6.7 4 3.6 3 2.2 3 .5 3-.9 2-3.4 2-4.4 1-7 .8-20-.1-40-2.3-6-.9-6-2.2-4.4-3.3-2.8-4-1.3-5 .4-5 1.7-4 3.4-3.7 5-2.9z"/>
<path fill="#00ff8e" fill-rule="evenodd" d="M659.5 499.4l10-.8 20 3.5 21 6.1 16.9 7.3 6.7 4 3.5 3 2.2 3 .3 3-1.1 2-3.5 1.9-11 1.7-20-.1-40-2.2-6-1-5.9-2.3-4.1-3-2.8-4-1.3-5 .4-5 1.7-4 3-3.5 5-3.1zM660.5 679.4l10-.7 20 3.6 20 5.8 17.5 7.4 6.6 4 3.6 3 2.2 3 .5 3-1.1 2-3.3 1.9-4.6 1.1-6.4.6-20 0-40-2.2-6-.9-6-2.3-4.4-3.2-2.8-4-1.2-5 .4-5 1.7-4 3.3-3.6 5-3z"/>
<path fill="#00ff85" fill-rule="evenodd" d="M659.5 499.4l10-.7 20 3.5 21 6.1 16.7 7.2 6.6 4 3.6 3 2 3 .4 3-1.2 2-3.1 1.7-5 1.2-6 .6-20 0-40-2.3-6-.9-5.8-2.3-4.1-3-2.8-4-1.3-5 .3-5 1.7-4 3-3.4 5-3.1zM660.5 679.4l10-.6 20 3.5 20 5.9 17.2 7.3 6.7 4 3.6 3 2.1 3 .4 3-1.1 2-2.9 1.7-5 1.2-6 .6-20 .1-40-2.3-6-.9-6-2.2-4.3-3.2-2.8-4-1.2-5 .4-5 1.7-4 3.2-3.6 5-2.9z"/>
<path fill="#00ff7c" fill-rule="evenodd" d="M659.5 499.5l10-.8 20 3.5 20 5.8 17.5 7.5 9.1 6 2.5 3 .9 3-.5 2-2.5 2.1-4 1.2-7 1-20 .1-41-2.2-6-1-5-1.8-4.8-3.4-2.9-4-1.3-5 .4-5 1.7-4 2.9-3.3 5-3.1zM660.5 679.5l5-.7 5 0 21 3.8 19.7 5.9 16.3 7 6.6 4 3.6 3 2.1 3 .3 3-1.2 2-3.4 1.8-11 1.7-20 0-39-2.2-6-.9-6-2.3-4.2-3.1-2.8-4-1.3-5 .4-5 1.8-4 3.1-3.5 5-3z"/>
<path fill="#00ff73" fill-rule="evenodd" d="M660.5 499.3l5-.6 5 .1 21 4 19.1 5.7 16.2 7 6.5 4 3.5 3 2 3 .2 3-1.3 2-3.2 1.6-11 1.7-20 0-39-2.2-6-.9-5.6-2.2-4.1-3-2.9-4-1.3-5 .4-5 1.7-4 3.7-4 4.1-2.4zM661.5 679.3l6-.5 5 .3 21 4.1 20 6.2 15.6 7.1 4.8 3 3.5 3 2.1 3 .3 3-1.3 2-4 2-11 1.4-20 0-38-2.2-6-.9-6-2.3-4.1-3-2.9-4-1.2-5 .4-5 1.8-4.1 3.7-3.9 4.3-2.4z"/>
<path fill="#00ff6a" fill-rule="evenodd" d="M660.5 499.3l5-.5 5 .1 21 3.9 18.9 5.7 16.2 7 6.5 4 3.4 3 2 3 .2 3-1.5 2-2.7 1.4-5 1.2-6 .6-20 0-39-2.1-6-1-5.5-2.1-4.1-3-2.9-4-1.3-5 .3-5 1.7-4 3.8-4 5-2.7zM661.5 679.4l5-.6 5 .2 22 4.3 20 6.2 15.4 7 4.7 3 3.5 3 2.1 3 .2 3-1.3 2-3.6 1.8-11 1.5-20 0-38-2.1-6-.9-6-2.3-4-3-2.9-4-1.2-5 .4-5 1.7-4 3.8-4 4.2-2.4z"/>
<path fill="#00ff61" fill-rule="evenodd" d="M660.5 499.4l6-.6 5 .3 21 4 20 6.3 15.6 7.1 4.7 3 3.5 3 1.9 3 .1 3-1.5 2-3.3 1.5-11 1.7-19 0-39-2.2-7-1.2-5-2.1-3.6-2.7-2.9-4-1.3-5 .4-5 1.7-4 3.7-3.9 5-2.8zM661.5 679.4l5-.5 5 .2 22 4.2 19.8 6.2 15.4 7 4.7 3 3.5 3 2 3 .1 3-1.4 2-3.1 1.6-5 1.1-7 .6-19-.1-38-2-6-1-6-2.3-4-2.9-2.8-4-1.3-5 .4-5 1.8-4 3.8-4 4.1-2.3z"/>
<path fill="#00ff58" fill-rule="evenodd" d="M660.5 499.4l5-.6 5 .2 21 3.9 18.5 5.6 16.1 7 8.9 6 2.4 3 .7 3-.7 2-2.9 2-5 1.3-7 .8-19 0-39-2.1-7-1.3-5-2.1-4-3.1-2.4-3.5-1.3-5 .4-5 1.7-4 3.6-3.9 5-2.7zM661.5 679.5l5-.6 5 .2 21 4 20 6.2 15.9 7.2 4.7 3 3.5 3 1.9 3 .2 3-1.5 2-3.7 1.7-11 1.5-19 0-38-2.1-6-.9-6-2.3-3.9-2.9-2.8-4-1.3-5 .4-5 1.8-4 3.8-4 5-2.7z"/>
<path fill="#00ff4f" fill-rule="evenodd" d="M660.5 499.5l5-.6 5 .1 11 1.8 11 2.4 20 6.3 15.2 7 4.6 3 3.4 3 1.9 3 0 3-1.7 2-3.4 1.5-10.8 1.5-19.2 0-38-2.1-7-1.2-5-2.2-4-3.1-2.3-3.4-1.3-5 .3-5 1.8-4 3.5-3.8 5-2.8zM662.5 679.4l5-.5 5 .4 22 4.4 18.4 5.8 15.3 7 4.7 3 3.4 3 1.9 3 .1 3-1.6 2-3.2 1.5-5 1-7 .6-19 0-37-2-6-1-6-2.3-4.7-3.8-2.4-4-.9-5 .8-5 2.1-4 3.2-3 4.9-2.6z"/>
<path fill="#00ff46" fill-rule="evenodd" d="M661.5 499.4l5-.5 5 .3 22 4.4 18.8 5.9 15.2 7 4.6 3 3.4 3 1.8 3-.1 3-1.8 2-3.9 1.6-11.9 1.4-19.1-.2-36-1.9-7-1.3-5-2.1-4.3-3.5-2.4-4-.9-5 .7-5 2.1-4 3.8-3.4 4-2.1zM662.5 679.4l5-.4 5 .3 22 4.4 18.2 5.8 15.3 7 4.7 3 3.4 3 1.8 3 0 3-1.6 2-2.8 1.3-5 1.1-7 .6-19 0-38-2.1-6-1.1-5-2.1-4.7-3.7-2.3-4-.9-5 .7-5 2.2-4 3.2-3 4.8-2.6z"/>
<path fill="#00ff3d" fill-rule="evenodd" d="M661.5 499.4l5-.5 5 .3 22 4.4 18.6 5.9 15.1 7 4.7 3 3.3 3 1.7 3-.1 3-1.8 2-3.5 1.4-12 1.5-19-.1-36-1.9-7-1.3-5-2.2-4.2-3.4-2.4-4-1-5 .8-5 2.1-4 3.7-3.4 5-2.5zM662.5 679.5l5-.5 5 .4 22 4.4 18 5.7 15.3 7 4.6 3 3.4 3 1.8 3 0 3-1.8 2-3.3 1.4-12 1.6-19-.1-37-2-6-1.1-5-2.1-4.6-3.7-2.4-4-.9-5 .8-5 2.2-4 3.2-3 4.7-2.5z"/>
<path fill="#00ff34" fill-rule="evenodd" d="M661.5 499.4l5-.4 5 .3 22 4.4 18.4 5.8 15.1 7 4.6 3 3.3 3 1.7 3-.2 3-1.9 2-3 1.2-11 1.6-19 0-37-2-7-1.3-5-2.1-4.1-3.4-2.5-4-.9-5 .7-5 2.2-4 3.6-3.3 5-2.5zM663.5 679.4l6-.3 6 .7 21 4.6 18.4 6.1 14.3 7 4.2 3 2.9 3 1.2 3-.9 3-2.1 1.5-4 1.3-12 1.2-19-.3-35-1.9-7-1.4-5-2.4-4-3.6-2.2-4.4-.6-5 1.1-5 2.8-4 3.9-3 5-2.1z"/>
<path fill="#00ff2b" fill-rule="evenodd" d="M661.5 499.5l5-.5 5 .3 22 4.4 18.1 5.8 15.2 7 4.6 3 3.2 3 1.7 3-.2 3-2.1 2-2.5 1.1-5 1-7 .6-19 0-36-1.9-7-1.3-5-2.2-4-3.3-2.5-4-.9-5 .7-5 2.2-4 3.5-3.3 5-2.5zM663.5 679.4l6-.2 6 .7 21 4.6 18.2 6 14.3 7 4.2 3 2.8 3 1.2 3-.4 2-1.9 2-3.4 1.4-12 1.4-19-.1-36-1.9-6-1.1-5-2.1-4.4-3.6-2.4-4-.9-5 .7-5 2.2-4 3.8-3.4 5-2.4z"/>
<path fill="#00ff22" fill-rule="evenodd" d="M662.5 499.4l6-.3 5 .6 21 4.4 18 5.8 14.1 6.6 4.5 3 3.3 3 1.6 3-.3 3-2.1 2-3.1 1.2-12 1.5-18-.1-36-1.9-7-1.3-5-2.2-4-3.2-2.4-4-1-5 .7-5 2.2-4 3.5-3.2 5-2.5zM663.5 679.5l6-.3 6 .7 21 4.6 18 6 14.3 7 4.2 3 2.7 3 1.1 3-.3 2-2.1 2-2.9 1.2-12 1.6-19-.1-36-1.9-6-1.2-5-2.1-4.3-3.5-2.5-4-.9-5 .8-5 2.2-4 3.7-3.3 5-2.4z"/>
<path fill="#00ff19" fill-rule="evenodd" d="M662.5 499.4l6-.3 5 .6 21 4.4 18 5.9 13.9 6.5 4.5 3 3.2 3 1.6 3-.4 3-1.8 1.7-3 1.3-12 1.6-18-.1-36-1.8-7-1.3-5-2.2-3.9-3.2-2.5-4-.9-5 .7-5 2.2-4 3.4-3.1 5-2.6zM664.5 679.4l5-.2 7 .9 21 4.8 16.8 5.6 14.2 7 4.2 3 2.8 3 1 3-.4 2-2.1 2-3.5 1.3-12 1.4-19-.1-35-1.9-6-1.1-5.7-2.6-4.3-3.9-2-4.1-.6-5 1.1-5 2.8-4 3.7-2.9 5-2.1z"/>
<path fill="#00ff10" fill-rule="evenodd" d="M662.5 499.5l5-.3 6 .5 20 4.2 17.5 5.6 15.1 7 4.6 3 3.1 3 1.6 3-.4 3-2.4 2-2.7 1-12.4 1.5-18-.1-35-1.8-7-1.3-5-2.2-3.8-3.1-2.5-4-.9-5 .7-5 2.2-4 3.3-3.1 5-2.5zM664.5 679.4l5-.1 7 .9 21 4.7 16.5 5.6 14.3 7 4.2 3 2.7 3 1 3-.5 2-2.2 2-3 1.1-5 1-8 .5-18-.1-35-1.8-6-1.2-5.6-2.5-4.4-4-2-4-.5-5 1.1-5 2.8-4 3.6-2.8 5-2.1z"/>
<path fill="#00ff07" fill-rule="evenodd" d="M663.5 499.4l5-.2 7 .9 21 4.7 16.9 5.7 14.2 7 4 3 2.7 3 .9 3-.6 2-2.1 1.8-3.2 1.2-12.8 1.5-18-.2-34-1.7-7-1.3-5.1-2.3-3.9-3.3-2.6-4.7-.6-5 1.1-5 2.7-4 3.4-2.7 5-2.2zM664.5 679.5l5-.2 7 .9 21 4.8 17 5.8 13.6 6.7 4.1 3 2.7 3 1 3-.6 2-2.3 2-2.6 1-5.3 1-7.6.6-18-.2-35-1.8-6-1.1-5.5-2.5-4.4-4-2-4-.6-5 1.2-5 2.7-4 3.6-2.7 5-2.2z"/>
<path fill="#03ff00" fill-rule="evenodd" d="M663.5 499.5l5-.2 7 .8 21 4.7 16.7 5.7 14.1 7 4.1 3 2.6 3 .8 3-.6 2-2.6 2-2.9 1-12.2 1.4-18-.1-34-1.8-7-1.3-5-2.2-3.7-3-2.5-4-.9-5 .7-5 2.2-4 4.2-3.6 5-2.2zM665.5 679.4l5 .1 9 1.3 19 4.5 17 6 12.4 6.2 4.1 3 2.6 3 .9 3-.5 2-2.5 2-3 1.1-13 1.4-18-.2-34-1.7-7-1.5-5-2.5-3.9-3.6-2-4-.5-5 1.1-5 2.8-4 4.1-3 5.4-2.1z"/>
<path fill="#0cff00" fill-rule="evenodd" d="M664.5 499.4l5 0 9 1.3 19 4.5 17 6 12.5 6.3 4 3 2.5 3 .8 3-.7 2-2.8 2-3.2 1-13.1 1.3-17-.2-34-1.7-7-1.6-5-2.6-3.4-3.2-2-4-.6-5 1.1-5 2.7-4 4.1-3 5.1-2.1zM666.5 679.5l5 .1 9 1.5 20 4.9 17 6.3 11.5 6.2 3.6 3 2.1 3 .1 3-1.3 1.9-3 1.6-4 .9-12 1-17-.2-33-1.7-6-1.1-6-2.9-3.7-3.5-2.1-4-.4-6 1.5-5 3.4-4 4.3-2.6 5-1.7z"/>
<path fill="#15ff00" fill-rule="evenodd" d="M665.5 499.5l5 .1 8 1.2 19 4.5 17.4 6.2 11.6 6 4 3 2.5 3 .7 3-.8 2-2.4 1.7-4 1.3-12 1.2-17-.2-34-1.7-7-1.6-5-2.6-3.9-4.1-1.7-4-.2-5 1.5-5 3.3-3.9 4-2.6 5-1.7zM660.5 680.3l5-.7 5 0 19 3.5 19 5.7 15.2 6.7 4.9 3 3.5 3 2 3 .1 3-1.6 2-2.1 1.1-4 1.1-7 .8-19 .2-35-1.7-6-.9-5-2-4-2.8-2.8-3.8-1.3-4 .1-5 1.5-4 3.4-4 4.1-2.5z"/>
<path fill="#1eff00" fill-rule="evenodd" d="M666.5 499.5l14 1.8 20 5.1 16.3 6.1 10.8 6 3.5 3 1.4 2 .6 3-.9 2-2.7 1.8-4 1.1-13 1.2-17-.3-32-1.6-7-1.6-5-2.6-3.8-4-1.7-4-.2-5 1.5-5 3.2-3.8 4-2.6 6-2zM660.5 680.4l5-.7 5 0 18 3.3 18.8 5.5 16 7 4.9 3 3.5 3 1.9 3 0 3-1.7 2-2.4 1.1-4 1-7 .8-18 .2-35-1.7-6-.9-5-2-4-2.8-2.7-3.7-1.2-4 0-5 1.5-4 3.4-4 4-2.4z"/>
<path fill="#27ff00" fill-rule="evenodd" d="M659.5 500.4l5-.7 5-.1 17 3.1 19 5.4 15.1 6.4 5.1 3 3.9 3 2.4 3 .5 3-1 2-3 1.8-9 1.7-19 .4-35-1.6-6-.8-6-2.3-4.1-3.2-2.6-4-.9-4 .4-5 1.8-4 2.8-3 3.6-2.3zM660.5 680.5l5-.8 5 .1 18 3.3 18.4 5.4 16 7 4.8 3 3.5 3 1.8 3 .2 2-.9 2-3.4 2-10.4 1.8-18 .2-35-1.6-6-1-5-2-4-2.9-2.6-3.5-1.2-4 .1-5 1.4-4 3.3-3.8 4-2.5z"/>
<path fill="#30ff00" fill-rule="evenodd" d="M660.5 500.3l5-.6 5 .1 18 3.4 18 5.4 15.5 6.9 4.8 3 3.3 3 1.7 3 .1 2-1.1 2-3.3 1.8-10 1.7-18 .2-35-1.5-6-1.1-5-2-4-3.1-2.6-4-.9-4 .4-5 1.8-4 2.8-3 4.5-2.7zM661.5 680.3l9-.5 19 3.6 18 5.4 15.1 6.7 4.7 3 3.4 3 1.8 3 .1 2-1 2-3.1 1.8-10 1.8-18 .3-35-1.6-6-1-5-2-4-2.9-2.5-3.4-1.3-5 .4-5 1.9-4 2.9-3 4.6-2.7z"/>
<path fill="#39ff00" fill-rule="evenodd" d="M660.5 500.4l5-.6 5 .1 18 3.4 18 5.5 15.1 6.7 4.7 3 3.4 3 1.6 3 0 2-1.2 2-2.6 1.5-5 1.2-6 .7-18 .2-34-1.5-6-1.1-5-2-3.8-3-2.7-4-.9-4 .4-5 1.8-4 2.9-3 4.3-2.6zM661.5 680.4l5-.6 5 .2 19 3.8 18 5.5 13.7 6.2 4.7 3 3.4 3 1.7 3 0 2-1.1 2-3.4 1.8-10 1.7-18 .2-34-1.5-6-1-5-2-4.2-3.2-2.6-4-.9-4 .4-5 1.9-4 2.9-3 4.5-2.6z"/>
<path fill="#42ff00" fill-rule="evenodd" d="M660.5 500.5l5-.7 5 .2 18 3.4 18 5.5 14.8 6.6 4.6 3 3.3 3 1.6 3-.1 2-1.3 2-2.9 1.5-10 1.7-18 .3-34-1.5-6-1.1-5-2-3.7-2.9-2.7-4-.9-4 .4-5 1.9-4 2.8-3 4.2-2.5zM662.5 680.3l5-.4 5 .3 20 4.2 18 5.8 13 6.3 4.3 3 2.8 3 .9 3-.5 2-2.4 2-2.7 1-9.4 1.4-18 .2-33-1.5-6-1-5.2-2.1-3.9-3-2.6-4-.9-4 .4-5 1.9-4 3.3-3.3 4-2.2z"/>
<path fill="#4bff00" fill-rule="evenodd" d="M661.5 500.4l9-.3 19 3.7 18 5.6 13.4 6.1 4.6 3 3.2 3 1.5 3-.1 2-1.5 2-3.1 1.5-11 1.7-18 .1-32-1.4-6-1-5-2.1-3.6-2.8-2.7-4-.9-4 .4-5 1.9-4 2.9-3 4-2.4zM662.5 680.4l9-.2 20 4 18 5.8 13.6 6.5 4.2 3 2.8 3 .9 3-.6 2-1.9 1.6-3 1.2-10 1.5-18 .1-32-1.4-6-1-5-2-4-3-2.6-4-.9-4 .4-5 2-4 3.1-3.1 4-2.3z"/>
<path fill="#54ff00" fill-rule="evenodd" d="M661.5 500.4l9-.3 19 3.8 17.9 5.6 13.1 6 4.6 3 3.2 3 1.4 3-.2 2-1.6 2-2.4 1.2-4 1-7 .8-18 .2-32-1.4-6-1-5-2.1-3.4-2.7-2.7-4-1-4 .4-5 1.9-4 2.9-3 4.9-2.7zM662.5 680.5l9-.2 20 4 18 5.8 13.2 6.4 4.2 3 2.7 3 .8 3-.7 2-2.2 1.7-3 1.1-10 1.4-17 .1-32-1.3-6-1-5-2.1-3.8-2.9-2.7-4-.9-4 .4-5 2-4 3-3 5-2.7z"/>
<path fill="#5dff00" fill-rule="evenodd" d="M662.5 500.4l5-.4 5 .5 20 4.3 17.1 5.7 12.2 6 4.1 3 2.6 3 .7 3-.7 1.7-1.3 1.3-3.7 1.5-11.1 1.5-16.9.1-31-1.3-6-1.1-5-2.1-3.3-2.6-2.7-4-1-5 .7-5 2.3-3.8 3-2.7 4-2.1zM663.5 680.4l5-.3 6 .7 19 4.2 16.6 5.5 12.2 6 4.2 3 2.6 3 .8 3-.8 2-2.6 1.8-3 1-10 1.3-17 .1-31-1.3-7-1.3-5-2.4-3.6-3.2-2.1-4-.6-5 .8-4 2.4-4 3.1-2.6 4-2z"/>
<path fill="#66ff00" fill-rule="evenodd" d="M662.5 500.4l5-.3 5 .5 20 4.3 16.8 5.6 12.1 6 6 5 1.2 3-.3 2-1.9 2-2.9 1.2-11 1.6-17 .2-31-1.3-6-1.1-5-2.1-4.1-3.5-2.2-4-.6-5 .8-4 2.1-3.7 3-2.7 4-2.1zM664.5 680.4l5-.2 6 .8 20 4.6 16.6 5.9 11.4 6 3.6 3 1.5 2 .7 3-.8 2-2 1.4-4 1.4-11 1.2-16 .1-30-1.3-7-1.3-5-2.4-3.5-3.1-2.1-4-.6-5 .8-4 2.5-4 3.7-3 5.2-2.2z"/>
<path fill="#6fff00" fill-rule="evenodd" d="M663.5 500.4l5-.2 5 .6 19 4.2 16.4 5.5 12.1 6 5.9 5 1.2 3-.4 2-2 2-2.4 1-4.8 1.1-7 .6-17 .2-30-1.3-6-1.1-5.6-2.5-3.4-3-2.2-4-.6-5 .8-4 2.4-4 3.6-2.9 5-2.2zM664.5 680.5l5-.2 6 .8 20 4.6 16.3 5.8 11.3 6 3.6 3 1.5 2 .6 3-1 2-2.3 1.5-4 1.3-11 1.1-16 0-29-1.2-7-1.3-5-2.4-3.3-3-2.2-4-.6-5 .8-4 2.5-4 3.8-3 5-2.1z"/>
<path fill="#78ff00" fill-rule="evenodd" d="M663.5 500.5l5-.2 5 .6 19 4.2 16.1 5.4 12.1 6 5.7 5 1.2 3-.5 2-2.2 2-2.5 1-10.9 1.6-17 .2-30-1.3-6-1.1-5.4-2.4-3.4-3-2.3-4-.6-5 .8-4 2.4-4 3.5-2.8 5-2.2zM665.5 680.4l5 .1 8 1.2 18 4.4 14.9 5.4 11.3 6 3.5 3 1.5 2 .5 3-1.1 2-2.6 1.6-3 .9-12 1.3-15 0-29-1.1-7-1.4-5-2.4-3.2-2.9-2.2-4-.6-5 1.2-5 2.8-3.7 4-2.8 5-1.8z"/>
<path fill="#81ff00" fill-rule="evenodd" d="M664.5 500.4l5 0 6 .9 20 4.7 15.1 5.5 11.2 6 3.4 3 1.3 2 .4 3-1.2 2-5.2 2.2-11 1.3-16 .1-29-1.1-7-1.5-5-2.5-3.5-3.5-1.7-4-.3-5 1.1-4 2.4-3.4 4-2.9 5-1.9zM666.5 680.5l4 0 8 1.3 18 4.4 14.6 5.3 11.2 6 3.5 3 1.4 2 .4 3-1.1 2-2 1.2-4 1.3-11 1.2-16 0-28-1.1-7-1.4-5-2.4-3.1-2.8-2.2-4-.6-5 1.3-5 2.6-3.6 4-2.8 5-1.8z"/>
<path fill="#8aff00" fill-rule="evenodd" d="M665.5 500.5l4 0 8 1.2 18 4.4 14.8 5.4 11.1 6 3.4 3 1.3 2 .3 3-1.4 2-2.5 1.3-4 1.1-11 1.1-15 0-28-1.1-7-1.5-5-2.5-3.3-3.4-1.8-4-.3-5 1.1-4 2.3-3.2 4-3 5-2zM668.5 680.5l15 2.4 16.6 4.6 12.9 5 10.2 6 3 3 .9 2 0 2-1.3 2-2.3 1.3-4 1.2-13 1.1-15 0-27-1.2-7-1.6-4.9-2.8-3.4-4-1.3-4 .1-5 1.5-4 3-3.3 4.6-2.7 5.4-1.5z"/>
<path fill="#93ff00" fill-rule="evenodd" d="M666.5 500.5l13 1.7 16.8 4.3 13.6 5 11.1 6 3.3 3 1.3 2 .2 3-1.3 1.8-2 1.2-4 1.2-12 1.2-15 0-27-1.1-7-1.4-5.3-2.9-3.5-4-1.4-4 0-5 1.6-4 2.6-3.1 4-2.5 5-1.7zM660.5 681.5l9-.9 15 2.6 18.2 5.3 13.9 6 4.9 3 3.4 3 1.7 3-.1 2-1.3 2-1.7 1-9 2-17 .6-31-1.1-6-.9-5-1.8-3.9-2.8-2.3-3-1.3-4 .1-5 1.5-4 2.6-3 3.3-2.2z"/>
<path fill="#9cff00" fill-rule="evenodd" d="M660.5 501.3l9-.6 17 3.2 18.1 5.6 12.9 6 6.3 5 1.5 3-.1 2-1.7 2-2 1.1-4 1-6.8.9-16.2.3-29-1-6-.9-5-2-4-3.1-2.2-3.3-1-4 .4-5 2-4 2.8-2.7 4-2.3zM661.5 681.3l9-.5 17 3.3 17.6 5.4 12.9 6 6.4 5 1.6 3-.1 2-1.5 2-1.9 1-4 1.2-6 .8-17 .4-30-1.1-6-1-5-2.2-3.7-3.1-1.9-3-.9-4 .4-5 1.4-3 2.7-3.1 4-2.5z"/>
<path fill="#a5ff00" fill-rule="evenodd" d="M660.5 501.5l9-.7 17 3.3 17.4 5.4 12.8 6 6.2 5 1.3 3-.3 2-1.9 2-2.2 1-10.3 1.7-16 .4-28-1-6-.9-5.3-2.2-3.7-3-2-3-1-4 .4-5 1.6-3.3 3-3.2 4-2.3zM661.5 681.5l9-.6 17 3.4 16.8 5.2 12.9 6 6.3 5 1.4 3-.2 2-1.8 2-2.1 1-10.3 1.8-16 .4-29-1-6-1.1-4.8-2.1-3.6-3-1.9-3-1-4 .5-5 1.3-3 2.7-3 3.8-2.4z"/>
<path fill="#aeff00" fill-rule="evenodd" d="M661.5 501.4l9-.3 16.8 3.4 15.9 5 12.7 6 6 5 1.2 3-.4 2-2.2 2-2.5 1-8.5 1.4-16 .5-28-.9-6-1-5-2-3.8-3-1.9-3-1.1-4 .5-5 1.3-3 3-3.2 4-2.4zM662.5 681.5l5-.5 4 .2 17 3.5 15.1 4.8 12.8 6 6.2 5 1.2 3-.4 2-1.9 1.9-2.5 1.1-9.5 1.6-16 .4-28-1-6-1.1-4.5-1.9-3.5-2.8-2.1-3.2-1-4 .5-5 1.6-3.3 3-3.1 4-2.2z"/>
<path fill="#b7ff00" fill-rule="evenodd" d="M662.5 501.4l5-.4 4 .4 17 3.6 15 4.9 11.6 5.6 4.1 3 1.8 2 1 3-.5 2-2 1.7-3 1.1-9 1.4-15 .4-27-.8-6-.9-5-2.1-3.5-2.8-2-3-1-4 .4-5 2.1-4 3-2.7 4-2.1zM663.5 681.5l5-.4 4 .4 17 3.7 15 4.9 11.1 5.4 4.2 3 1.8 2 1.1 3-.5 2-1.7 1.6-3 1.3-9 1.4-16 .4-27-.8-6-1.1-5-2.4-3-2.6-2.2-3.8-.7-5 .9-4 1.8-3 3.2-2.8 4-2z"/>
<path fill="#c0ff00" fill-rule="evenodd" d="M663.5 501.4l5-.2 4 .5 18 4.1 13.7 4.7 11.6 6 3.5 3 1.3 2 .3 2-.7 2-1.7 1.4-3 1.2-10 1.5-15 .3-26-.8-6-1.2-4.9-2.4-3.1-2.9-1.7-3.1-.7-5 .9-4 1.8-3 3.4-3 4.3-2zM664.5 681.5l4-.2 5 .5 18 4.2 15 5.3 9.9 5.2 3.5 3 1.3 2 .4 2-.6 2-2.5 1.9-3 1-9 1.3-15 .3-26-.8-6-1.1-5-2.4-3-2.7-2-3.5-.7-5 .9-4 1.9-3 3.5-3 4.4-2z"/>
<path fill="#c9ff00" fill-rule="evenodd" d="M664.5 501.5l4-.1 6 .8 17 4.1 14.4 5.2 9.1 5 3.4 3 1.2 2 .3 2-.9 2-2.5 1.6-3 1-11 1.4-14 .2-24-.8-6-1.2-5-2.5-2.8-2.7-2-4-.3-4 .8-4 1.8-3 3.6-3 4.9-2.1zM666.5 681.5l4 .1 7 1.1 17 4.4 14 5.4 8.4 5 3.4 4 .3 2-1.1 2.2-2.9 1.8-3.1.9-10 1.1-14 .3-24-.8-7-1.4-5-2.9-2.8-3.2-1.5-4 0-4 1.2-4 2.4-3 3.7-2.6 5-1.7z"/>
<path fill="#d2ff00" fill-rule="evenodd" d="M660.5 502.3l9-.7 13 2.5 15.1 4.4 13.5 6 4.4 3 2 2 1.1 2 .2 2-1.1 2-1.4 1-3.8 1.4-5 .8-15 .8-27-.7-5-.7-5-1.9-3.7-2.7-2.1-3-1.1-4 .2-4 1.1-3 2.6-3.2 4-2.6zM661.5 682.3l5-.7 4 .1 15 3 15.2 4.8 12.6 6 3.9 3 1.6 2 .7 2-.3 2-1.7 1.8-2.6 1.2-9.4 1.6-14 .5-25-.6-6-1-5-2.1-3.1-2.4-2-3-1.1-4 .3-4 1.1-3 2.8-3.4 4-2.5z"/>
<path fill="#dbff00" fill-rule="evenodd" d="M660.5 502.5l4-.7 5 0 13 2.4 16 4.9 11.9 5.4 4.3 3 1.9 2 1 2 .1 2-1.2 1.9-1.7 1.1-8.3 2-15 .7-25-.5-6-.8-5-1.9-3.4-2.5-2.1-3-1.2-4 .3-4 1.1-3 2.3-3 4-2.6zM661.5 682.5l8-.7 14 2.6 16 4.9 11.4 5.2 4.4 3 1.9 2 1.3 3-.5 2-1.5 1.5-3 1.4-8 1.4-14 .6-25-.6-6-.9-5-2.2-2.8-2.2-2.1-3-1.1-4 .3-4 1.1-3 2.6-3.1 4-2.6z"/>
<path fill="#e4ff00" fill-rule="evenodd" d="M661.5 502.4l8-.5 14 2.8 15.4 4.8 10.7 5 4.3 3 1.8 2 1 2-.1 2-1.5 2-1.8 1-9.7 2-14.1.5-24-.5-6-1-4.5-2-3.5-3-1.8-3-.7-4 .5-4 1.5-3 3.1-3 3.4-1.9zM662.5 682.4l8-.4 15 3.1 15 4.9 11.3 5.5 3.7 3 1.5 2 .5 2-.6 2-1.4 1.3-3 1.3-8 1.5-14 .5-24-.5-6-.9-5-2.2-3.4-3-1.7-3-.7-4 .6-4 1.5-3 2.7-2.7 4-2.2z"/>
<path fill="#edff00" fill-rule="evenodd" d="M662.5 502.4l8-.2 15.4 3.3 14.8 5 9.8 5 3.6 3 1.3 2 .3 2-.8 2-4.4 2.4-9 1.5-14 .4-22-.4-6-1.1-5-2.3-2.8-2.5-1.7-3-.8-4 .6-4 1.5-3 3.1-3 3.8-2zM663.5 682.4l8-.1 15 3.3 14.7 4.9 9.8 5 3.7 3 1.3 2 .4 2-.7 2-4.2 2.4-9.5 1.6-13.5.4-22-.4-6-1-5-2.2-3.1-2.8-1.8-3-.7-4 .6-4 1.5-3 3.2-3 4-2z"/>
<path fill="#f6ff00" fill-rule="evenodd" d="M663.5 502.4l8 .1 15 3.4 13.5 4.6 9.7 5 3.5 3 1.3 2 .2 2-.9 2-2.3 1.5-3 1-9 1.2-13 .4-21-.4-6-1-5-2.4-3-2.9-1.6-3.4-.4-4 .9-4 1.9-3 3.2-2.5 4-1.8zM664.5 682.4l8 .2 16.5 3.9 13.8 5 8.9 5 3.4 4 .3 2-.8 2-2.1 1.4-3 1.1-10 1.4-13 .3-21-.4-6-1.3-4.8-2.5-2.8-3-1.4-3-.3-4 .9-4 2-3 3.4-2.6 4-1.7z"/>
<path fill="#ffff00" fill-rule="evenodd" d="M664.5 502.4l8 .4 15.5 3.7 11.4 4 9.6 5 4.1 4 .6 2-.3 2-1.9 1.8-3 1.2-9 1.5-13 .4-21-.3-6-1.1-5.1-2.5-2.9-3-1.4-3-.4-4 .9-4 2-3 2.9-2.3 4-1.8zM665.5 682.5l4-.1 5 .8 15 3.6 12.6 4.7 8.8 5 2.1 2 1.2 2 .2 2-1 2-1.9 1.2-4 1.3-10 1.3-32-.2-6-1.2-5-2.8-2.4-2.6-1.3-3-.4-4 .9-4 2.1-3 3.1-2.4 4-1.7z"/>
<path fill="#fff600" fill-rule="evenodd" d="M665.5 502.5l4 0 5.8 1 15.2 4 10.5 4 8.6 5 2 2 1.1 2 0 2-1.3 2-4.5 2-9.4 1.4-12 .3-20-.3-6-1.1-5-2.5-2.8-2.8-1.4-3-.4-4 .9-4 2.1-3 3.6-2.7 4-1.5zM661.5 683.3l8-.7 12 2.2 15.1 4.7 10.7 5 4.9 4 1.1 2 .2 2-1.3 2-1.5 1-7.9 2-13.3.8-23-.3-5-.7-5-2-3.4-2.8-1.8-3-.7-3 .3-4 1.2-3 2.4-2.8 3-1.9z"/>
<path fill="#ffed00" fill-rule="evenodd" d="M660.5 503.4l8-.8 12 2.2 15.1 4.7 10.4 5 4.8 4 1 2 0 2-1.5 2-1.8 1-8 1.8-13 .7-22-.2-5-.8-5-2.2-2.8-2.3-1.9-3-.7-3 .2-4 1.3-3 1.9-2.4 3-2.1zM661.5 683.4l8-.7 12 2.3 14.5 4.5 10.6 5 4.8 4 1.1 2 0 2-1.4 2-1.7 1-7.9 1.9-13 .7-22-.2-5-.7-5-2.1-3.1-2.6-1.9-3-.7-3 .3-4 1.2-3 2.2-2.5 3-2.1z"/>
<path fill="#ffe400" fill-rule="evenodd" d="M661.5 503.3l8-.5 12 2.4 13.5 4.3 10.4 5 4.6 4 1 2-.2 2-1.6 2-2.1 1-8.6 1.7-13 .7-20-.3-5-.8-5-2.2-2.5-2.1-1.9-3-.8-3 .2-4 1.3-3 2.7-3 3-1.8zM662.5 683.4l8-.5 12 2.5 12.9 4.1 10.5 5 4.8 4 .9 2-.1 2.2-1.5 1.8-1.9 1-8.6 1.8-13 .7-20-.2-5-.8-5-2.1-2.9-2.4-1.9-3-.7-3 .3-4 1.2-3 2.8-3 3.2-1.9z"/>
<path fill="#ffdb00" fill-rule="evenodd" d="M661.5 503.5l8-.6 11 2.3 13.9 4.3 10.3 5 4.6 4 .8 2-.2 2-1.9 2-2.2 1-8.3 1.6-13 .6-19-.2-5.6-1-4.3-2-2.4-2-1.9-3-.8-3 .2-4 1.3-3 2.5-2.8 3-1.9zM663.5 683.3l7-.2 14 3 12.8 4.4 9.4 5 3.8 4 .4 2-.9 2-4.5 2.4-8 1.3-12 .6-19-.2-6-1-4.3-2.1-3.2-3-1.4-3-.4-4 .6-3 1.7-3 2.1-2 3.6-2z"/>
<path fill="#ffd200" fill-rule="evenodd" d="M662.5 503.4l7-.3 12 2.5 12.3 3.9 10.3 5 4.4 4 .8 2-.3 2-2.2 2-2.3 1-8 1.4-12 .6-19-.1-5.1-.9-4.9-2.3-2.9-2.7-1.5-3-.4-4 .5-3 1.7-3 2.1-2 3.5-1.9zM663.5 683.5l7-.3 14 3.1 12.2 4.2 9.4 5 2.3 2 1.3 2 .3 2-1 2-3.6 2-8.9 1.6-12 .5-18-.1-5.7-1-4.4-2-3.1-3-1.5-3-.4-4 .6-3 1.7-3 2.2-2 3.6-1.9z"/>
<path fill="#ffc900" fill-rule="evenodd" d="M663.5 503.4l7 0 13.7 3.1 11.4 4 9.2 5 2.2 2 1.2 2 .2 2-.9 1.7-1.8 1.3-2.8 1-7.4 1.3-12 .6-18-.2-6-1.2-4-2-2.6-2.5-1.6-3-.4-4 .5-3 1.8-3 2.3-2.1 3.6-1.9zM664.5 683.5l7 0 13 3 11.6 4 9.3 5 2.2 2 1.3 2 .2 2-1.1 2-4 2-8.5 1.4-13 .6-17-.2-6-1.4-4-2.3-2.7-3.1-1.1-3 0-4 .8-2.7 2-2.9 3-2.2z"/>
<path fill="#ffc000" fill-rule="evenodd" d="M664.5 503.4l7 .3 14 3.4 11.8 4.4 6.9 4 2.1 2 1.1 2-.3 3-1.6 1.4-3 1.3-8 1.4-12 .6-17-.1-6-1.2-4.4-2.4-2.7-3-1.1-3-.2-4 1-3 1.4-2.1 3-2.5 4-1.7zM665.5 683.5l7 .3 14 3.5 11.3 4.2 6.9 4 2.2 2 1.2 2 .1 2-1.2 2-4.4 2-8.1 1.3-13 .5-16-.2-6-1.4-3.9-2.2-2.6-3-1.1-3 0-4 .9-3 1.7-2.3 3-2.4 4-1.6z"/>
<path fill="#ffb700" fill-rule="evenodd" d="M665.5 503.5l7 .5 13.7 3.5 10.5 4 6.8 4 2.1 2 1 2 0 2-1.1 1.6-5 2.3-8 1.2-13 .5-15-.2-5.6-1.4-4.4-2.7-1.9-2.3-1.1-3-.2-4 1.2-3.4 2.1-2.6 2.9-2 4-1.4zM667.5 683.5l9 1.3 13.1 3.7 9.6 4 6 4 1.7 2 .6 2-.6 2-1 1-4.8 2-9.6 1.3-26 .2-6-1.4-4.7-3.1-2.1-3-.7-3 .3-4 1.3-3 2.9-2.8 3-1.7 4-1.1z"/>
<path fill="#ffae00" fill-rule="evenodd" d="M660.5 504.5l7-1 8 1.3 13.1 3.7 11.3 5 4.9 4 1 2-.1 2-1.2 1.6-2 1.2-7 1.7-11 .8-18 .1-5-.7-5-2.1-2.1-1.6-2.1-3-.8-3 .2-4 1.4-3 1.8-2zM662.5 684.2l7-.5 10 1.9 12.3 3.9 10.2 5 4.1 4 .5 2-.6 2-3.1 2-7.4 1.7-12 .7-17 0-6-1.1-4-2.1-2.3-2.2-1.6-3-.5-3 .4-3 1.4-3 1.8-2 3.1-2z"/>
<path fill="#ffa500" fill-rule="evenodd" d="M661.5 504.4l7-.7 10 1.9 12.3 3.9 10 5 2.5 2 1.4 2 .2 3-1.4 1.6-2 1.1-7 1.6-11 .8-17 .1-6-.9-4-1.9-2.7-2.4-1.3-2-.8-3 .2-4 1.4-3 1.8-2 3.2-2zM662.5 684.4l7-.6 10 2 11.7 3.7 10.2 5 4 4 .4 2-.3 1.2-1.7 1.8-2.1 1-7.2 1.5-11 .8-17 0-6-1.2-4-2.1-2.1-2-1.6-3-.5-3 .4-3 1.4-3 1.8-2 3.3-2z"/>
<path fill="#ff9c00" fill-rule="evenodd" d="M661.5 504.5l7-.7 10 2 11.8 3.7 10 5 2.4 2 1.4 2 .1 3-1.7 1.7-2 1-7 1.5-11 .8-16 .1-6-1-4-1.8-2.5-2.3-1.7-3-.5-3 .3-3 1.4-3 1.8-2 3.2-2zM663.5 684.3l7-.3 12 2.8 10.7 3.7 9 5 2 2 .9 2-.2 2-.7 1-3.7 2.1-8 1.4-11 .7-15 0-5-.9-4.8-2.3-2.2-2.1-1.6-2.9-.4-4 .7-3 1.1-2 2.2-2.3 3-1.7z"/>
<path fill="#ff9300" fill-rule="evenodd" d="M662.5 504.4l7-.4 10 2.2 12.8 4.3 7.5 4 2.3 2 1.4 2-.1 3-1.9 1.8-2 .9-7 1.5-11 .7-15 .1-6-1-4.2-2-2.2-2-1.7-3-.5-3 .6-3.7 1.2-2.3 2.8-2.7zM663.5 684.4l7-.3 10.6 2.4 11.6 4 7.6 4 2.4 2 1.4 2 .1 3-1.7 1.7-2 1-8 1.6-11 .7-15 .1-5-.9-4.6-2.2-2.1-2-1.7-3-.4-4 .6-3 2-3 2.2-1.8z"/>
<path fill="#ff8a00" fill-rule="evenodd" d="M662.5 504.5l7-.4 10 2.2 12.3 4.2 7.5 4 2.3 2 1.3 2-.2 3-3.2 2.3-7.3 1.7-10.7.8-15 .1-5.6-.9-4.4-2.1-2.2-1.9-1.7-3-.5-3 .3-3 1.5-3 1.9-2 2.7-1.7zM664.5 684.4l7 0 12.5 3.1 10.5 4 6.6 4 1.9 2 .8 2-.3 2-.8 1-4.1 2-7.1 1.3-11 .6-14 .1-6-1.3-4-2.2-2.3-2.5-1.2-3-.2-3 .7-3 2-3 2-1.6 3-1.5z"/>
<path fill="#ff8100" fill-rule="evenodd" d="M663.5 504.4l6-.2 10.2 2.3 11.6 4 7.4 4 2.3 2 1.3 2-.3 3-3.5 2.3-8 1.7-12 .7-13 0-5-.9-4-2-2-1.8-1.7-3-.5-4 .6-3 1.6-2.6 2-1.8 3-1.6zM664.5 684.5l7 0 12 3 10.5 4 6.6 4 1.8 2 .8 2-.4 2-.9 1-4.4 2-6 1.1-11 .7-14 0-6-1.2-4-2.3-2.1-2.3-1.2-3-.2-3 .7-3 1.8-2.8 2-1.7 3-1.5z"/>
<path fill="#ff7800" fill-rule="evenodd" d="M664.5 504.4l6 .1 12.1 3 10.4 4 6.5 4 1.7 2 .6 2-.3 1.5-1 1.3-5 2.1-6.7 1.1-23.3.6-6-1.3-3.8-2.3-1.8-2-1.3-3-.1-4 1-2.9 1.6-2.1 2.6-2zM665.5 684.5l6 .1 11.5 2.9 10.5 4 6.6 4 2.2 3 .2 2-1 1.6-4 2.1-7.1 1.3-10.9.7-13 0-6-1.2-4-2.3-1.9-2.2-1.3-3-.2-3 .7-3 2.1-3 2.6-1.9 3-1.3z"/>
<path fill="#ff6f00" fill-rule="evenodd" d="M665.5 504.4l7 .6 12 3.3 8.1 3.2 6.3 4 1.7 2 .6 2-.6 2-1.1 1-5 1.9-7 1-15 .7-8-.2-5-1.3-4-2.5-2-2.6-.9-3 .1-3 1-3 1.8-2.2 3-2.1zM666.5 684.5l7 .6 12.1 3.4 7.4 3 6.5 4 1.8 2 .6 2-.6 2-1 1-4.8 1.9-7 1.1-14 .7-9-.2-5-1.2-4-2.3-1.7-2-1.3-3-.1-4 1.1-3 1.6-2 2.8-2 3.6-1.4z"/>
<path fill="#ff6600" fill-rule="evenodd" d="M666.5 504.5l7 .8 11.2 3.2 7.4 3 6.3 4 1.6 2 .6 2-.8 2-1.1 1-5.2 1.9-7 1-15 .6-7-.2-5-1.3-4.4-3-1.8-3-.6-3 .4-3 1.4-2.9 2.2-2.1 2.8-1.6zM662.5 685.2l7-.6 9 1.9 11.9 4 7.4 4 2.2 2 1.1 2-.5 3-3 2-7.1 1.6-11 .8-13 .1-5-.9-4-2-2-1.8-1.6-2.8-.5-3 .4-3 2.7-4.2 2.6-1.8z"/>
<path fill="#ff5d00" fill-rule="evenodd" d="M661.5 505.3l6-.8 7 1.2 12.5 3.8 8.3 4 2.6 2 1.6 2 .3 3-1.3 1.6-2 1.1-6 1.5-10 .9-14 .2-5-.7-4-1.8-2.2-1.8-1.9-3-.5-3 .3-3 2.5-4 2.8-2zM662.5 685.3l6-.7 7 1.2 12 3.7 8.3 4 2.7 2 1.7 2 .3 3-1 1.4-2 1.3-6 1.6-10 .9-14 .3-5-.7-4.2-1.8-2.4-2-1.4-2-.9-3 .1-3 1.1-3 1.7-2 2.9-2z"/>
<path fill="#ff5400" fill-rule="evenodd" d="M661.5 505.4l6-.8 7 1.1 12.3 3.8 8.2 4 2.6 2 1.6 2 .2 3-2.9 2.5-6 1.6-10 .9-14 .3-5-.8-4-1.8-2.1-1.7-1.9-3-.5-3 .3-3 2.5-4 2.7-1.9zM662.5 685.4l7-.6 8.4 1.7 11.8 4 7.3 4 2.2 2 1.1 2-.1 2-.6 1-3.4 2-5.7 1.3-11 .9-13 .1-5-.9-4-2-2-2-1.3-2.4-.5-3 .3-3 2.6-4 2.9-2z"/>
<path fill="#ff4b00" fill-rule="evenodd" d="M661.5 505.5l6-.8 7 1.1 12 3.7 8.2 4 2.6 2 1.6 2 .2 3-2.6 2.3-7 1.8-10 .9-13 .2-5-.8-4-1.7-2-1.7-1.9-3-.5-3 .3-3 2.5-4 2.6-1.8zM662.5 685.5l6-.7 7 1.2 11.5 3.5 8.3 4 2.6 2 1.6 2 .3 3-1.3 1.6-2 1.1-6 1.5-11 .9-13 .2-5-1-4-2-2-2-1.2-2.3-.6-3 .4-3 2.6-4 2.8-1.9z"/>
<path fill="#ff4200" fill-rule="evenodd" d="M662.5 505.3l6-.5 8.5 1.7 11.7 4 7.2 4 2.7 3 .3 2-.4 1.3-3 2.2-7 1.7-11 .8-12 .1-5-1.1-3.8-2-3-4-.6-3 .4-3 1-2.2 2-2.2 2.5-1.6zM663.5 685.3l6-.4 9 1.9 10.7 3.7 7.3 4 2.1 2 1 2-.2 2-.6 1-3.7 2-5.6 1.2-11 .9-12 .1-5-1-4-2-2.1-2.2-1-2-.6-3 .4-3 1.3-2.5 2-2.1 3-1.7z"/>
<path fill="#ff3900" fill-rule="evenodd" d="M662.5 505.3l6-.5 8.2 1.7 11.7 4 7.2 4 2.6 3 .1 3-2.8 2.3-7 1.7-10 .9-12 .2-5-.8-4.7-2.3-1.9-2-1.1-2-.6-3 .4-3 .9-2.1 2-2.2 2.6-1.7zM663.5 685.4l6-.5 9 2 10.4 3.6 7.3 4 2.1 2 .9 2-.2 2-.6 1-3.8 2-6.1 1.2-11 .9-11 0-5-.9-4.1-2.2-3-4-.5-3 .4-3 1.2-2.4 2-2.1 2.5-1.5z"/>
<path fill="#ff3000" fill-rule="evenodd" d="M662.5 505.4l6-.5 8 1.6 11.7 4 7.1 4 2.6 3 .3 2-.7 1.6-4 2.2-6 1.3-11 .8-10.4.1-5.3-1-3.8-2-2-2-1.1-2-.6-3 .4-3 .9-2 1.9-2.2 2.8-1.8zM663.5 685.4l6-.4 9 2 10.1 3.5 7.3 4 2.7 3 .3 2-.4 1.3-3 2.2-7 1.6-10.9.9-11.1.1-5-1-4-2.1-3-4-.5-3 .4-3 1.1-2.2 2-2.2 2.7-1.6z"/>
<path fill="#ff2700" fill-rule="evenodd" d="M662.5 505.5l6-.5 8 1.6 11.4 3.9 7.1 4 2.6 3-.1 3.1-3 2.2-7.3 1.7-20.7 1-5-.8-4.4-2.2-2-2-1.1-2-.6-3 .4-3 .9-2 1.8-2.1 3-1.9zM664.5 685.3l6-.1 9.5 2.3 8.4 3 7.2 4 2.1 2 .9 2-.3 2-.8 1-4 2-6 1.1-11 .9-10 0-5-1-4-2.1-2-2.2-1.2-2.7-.2-3 .8-3 1.3-2 2.3-2z"/>
<path fill="#ff1e00" fill-rule="evenodd" d="M663.5 505.3l6-.2 9 2.1 9.2 3.3 7 4 2.6 3-.1 3-.9 1-2.8 1.5-7 1.5-12 .8-9 0-5-1.1-4-2.3-2-2.4-.7-2-.3-3 .7-3 1.3-2 2.3-2zM664.5 685.4l6-.1 10 2.4 9.8 3.8 6.2 4 1.7 3-.3 2-.8 1-4.2 2-6.4 1.2-20 .8-5-1-4-2.2-2-2.3-1.1-2.5-.2-3 .8-3 1.3-2 2.3-2z"/>
<path fill="#ff1500" fill-rule="evenodd" d="M663.5 505.4l6-.2 9.6 2.3 8.3 3 7.1 4 2.5 3-.2 3-3.3 2.3-7 1.6-12 .9-9 0-5-1.1-4-2.4-1.9-2.3-.8-2-.2-3 .7-3 1.3-2 2.3-2zM664.5 685.5l6-.2 9 2.2 8.4 3 7.1 4 2 2 .9 2-.4 2-.8 1-4.2 2-6 1.1-20 .8-5-1-4-2.2-2-2.3-1-2.4-.2-3 .8-3 1.3-2 2.4-2z"/>
<path fill="#ff0c00" fill-rule="evenodd" d="M663.5 505.5l6-.2 9.4 2.2 8.2 3 7.1 4 2.4 3-.2 3-2.9 2.1-7 1.7-20 1-5-.9-4-1.9-2.1-2-1.1-2-.6-3 .4-3 1.4-2.7 2-1.9 2.5-1.4zM665.5 685.4l6 .2 10.9 2.9 7.4 3 6.1 4 1.7 3-.4 2-.9 1-4.5 2-5.6 1-13.7.9-7-.2-5-1.3-3.6-2.4-1.5-2-1-3 .8-5 1.3-2 2.4-2 2.6-1.2z"/>
<path fill="#ff0000" fill-rule="evenodd" d="M664.5 505.4l5-.1 9.1 2.2 8.3 3 7 4 2.4 3-.3 3-3.5 2.3-7 1.5-12 .9-8-.1-5-1.1-4-2.4-2.5-4.1-.2-3 .7-3 1.3-2 2.4-2zM665.5 685.4l6 .2 10.6 2.9 7.4 3 6.1 4 1.6 3-.4 2-.9 1-4.4 1.9-6.1 1.1-12.9.8-7-.1-5-1.4-3.5-2.3-1.5-2-1-3 .8-5 1.3-2 2.5-2z"/>
<path fill="#f90000" fill-rule="evenodd" d="M662.5 508.5l4-.8 4 .4 7.1 2.4 5.1 3 2.1 3-.4 2-2.7 2-3.2 1-7 1.1-5 .1-4-.8-2.6-1.4-2.2-3-.2-4 1.7-3zM663.5 688.5l4-.7 4 .4 6.6 2.3 5.2 3 2.2 3-.3 2-2.6 2-4.1 1.2-11 1.1-4-.7-3-1.6-2.2-3-.1-4 1.8-3z"/>
<path fill="#f00000" fill-rule="evenodd" d="M664.5 508.3l4-.3 5.6 1.5 4.6 2 4 3 .9 2-.6 2-2.5 1.8-4 1.2-6 .9-5-.1-3.1-.8-3-2-1.6-3 .5-4 2.2-2.6zM665.5 688.3l4-.2 5.1 1.4 4.6 2 4.1 3 .9 3-1.4 2-2.3 1.1-5 1.3-5 .6-5-.2-4-1.5-2-1.9-1.1-3.4.6-3 2.5-2.7z"/>
<path fill="#e70000" fill-rule="evenodd" d="M665.5 508.4l3-.1 4.6 1.2 4.5 2 4 3 .8 2-.7 2-3.2 1.9-4.2 1.1-4.8.6-5-.3-3.3-1.3-2.1-2-.8-2-.1-2 1.2-3 2.5-2zM666.5 688.5l3.3 0 4.7 1.4 5.4 2.6 2.3 2 .9 2-.6 2-3 1.9-4 1.1-5 .7-5-.2-3.8-1.5-2-2-.8-4 1.3-3 2.6-2z"/>
<path fill="#de0000" fill-rule="evenodd" d="M663.5 509.2l4-.6 3 .5 6.1 2.4 2.9 2 1.5 2 0 2-2 2-3.5 1.3-5 .9-4 .1-3-.6-3-1.7-1.8-3 .1-3 1.7-2.6zM664.5 689.2l4-.5 3.9.8 4.7 2 4 3 .8 2-.8 2-1.6 1.2-4 1.3-5 .9-4-.1-3-.8-2.4-1.5-1.7-3 .2-3 1.9-2.7z"/>
<path fill="#d50000" fill-rule="evenodd" d="M664.5 509.3l3-.3 3.3.5 4.8 2 2.9 2 1.3 2-.1 2-2.3 2-2.9 1-5 1-3-.1-3.7-.9-2.3-1.6-1.3-2.4.3-3.4 2-2.5zM665.5 689.3l4-.2 3 .8 5.3 2.6 2.2 2 .7 2-.9 2-5.3 2.3-4 .7-4-.1-3.2-.9-2.5-2-1-3 .7-3 2.1-2z"/>
<path fill="#cc0000" fill-rule="evenodd" d="M665.5 509.5l3-.1 3.9 1.1 3.8 2 2 2 .6 2-1.2 2-4.8 2-3.3.6-4-.2-3-1-2-1.8-.9-2.6.7-3 2.2-2zM667.5 689.4l3 .3 4.6 1.8 2.9 2 1.4 2-.2 2-.8 1-2.9 1.5-4 1-4 .2-3.2-.7-2.8-1.9-1-1.9.1-3.2 1.4-2 2.5-1.5z"/>
<path fill="#c30000" fill-rule="evenodd" d="M663.5 510.5l3-.8 3 .2 4 1.6 2.8 2 1.2 2-.3 2-3.7 2.3-4 .9-3 0-3-.8-2-1.3-1.2-2.1.1-3 1.5-2zM664.5 690.5l3-.7 3 .3 3.5 1.4 2.9 2 1.3 2-.3 2-1.4 1.3-3 1.3-3 .6-4 0-3-1-1.5-1.2-1-2 .2-3 1.3-1.8z"/>
<path fill="#ba0000" fill-rule="evenodd" d="M665.5 510.3l3-.1 2 .5 3.6 1.8 1.9 2 .3 2-.4 1-1.1 1-3.3 1.3-3 .5-3-.2-2-.7-2.2-1.9-.6-2 .8-2.8 1.1-1.2zM666.5 690.4l3-.1 2 .6 3.1 1.6 2 2 .5 2-.4 1-2.2 1.6-3 1-3 .3-3-.4-2-.9-1.5-1.6-.5-3 .9-2 1.1-1z"/>
<path fill="#b10000" fill-rule="evenodd" d="M664.5 511.1l3-.6 2 .3 4.7 2.7.7 1 .2 2-1.8 2-2.4 1-5.4.1-2-.8-1.5-1.3-.7-2 .4-2zM664.5 691.5l3-.8 2 .1 2.3.7 3 2 .7 1 .4 2-1.4 1.8-2 1-5 .6-4-1.5-1.3-1.9-.1-2 1-2z"/>
<path fill="#a80000" fill-rule="evenodd" d="M665.5 511.2l2-.3 2.7.6 1.9 1 1.9 2 .1 2-.6 1-4 1.9-5-.6-2.4-2.3.2-3 1.2-1.4zM666.5 691.2l4.2.3 1.9 1 2 2 .3 2-.6 1-3.8 1.9-5-.3-2-1.4-.7-1.2.2-3 1.5-1.5z"/>
<path fill="#9f0000" fill-rule="evenodd" d="M666.5 511.4l2 0 2 .7 2.6 2.4.1 2-.8 1-3.9 1.5-3.6-.5-2.2-2 .2-3 1.6-1.4zM667.5 691.5l2 .1 2.2.9 1.3 1 1 2-.8 2-3.7 1.6-4-.5-2.1-2.1.3-3 1.8-1.5z"/>
<path fill="#960000" fill-rule="evenodd" d="M665.5 512.2l2-.4 2 .4 2.6 2.3 0 2-.8 1-2.2 1-3.6-.3-2.1-1.7.1-2.7zM666.5 692.2l2-.3 2 .5 2.3 2.1.1 2-.8 1-1.9 1-3.7-.1-2.4-1.9-.1-2 .4-1z"/>
<path fill="#8d0000" fill-rule="evenodd" d="M666.5 512.5l2.1 0 2.5 2 0 2-2.6 1.5-3-.5-1.2-1-.3-1 .5-1.8zM668.5 692.5l2.5 1 1.1 2-1.2 2-2.4.6-2.5-.6-1.4-2 .9-2.1z"/>
<path fill="#840000" fill-rule="evenodd" d="M666.5 513.3l2 0 1.5 1.2-.2 2-1.3.7-3-.7-.4-2zM667.5 693.3l2 .1 1.2 1.1-.1 2-1.1.7-2 0-1.4-.7-.2-2z"/>
<path fill="#7b0000" fill-rule="evenodd" d="M667.5 514.5l1 1.1-1.6-.1zM667.5 695.4l1-.9.7 1-.7.4z"/>
<path fill="none" stroke="#8c8ca0" stroke-opacity="0.78" stroke-width="1.1" d="M661.5 493.4l7-.3 8 .7 23 3.9 23 6.2 20 7.1 18.6 8.5 8.8 5 6 4 4.8 4 3.3 4 1 3-.4 3-1.1 1.3-2 1.2-5 1.3-8 .5-12-.4-28-2.4-55-6.2-12-.8-5-.8-5-1.5-4-1.9-3.5-2.3-3.1-3-2-3-2-6-.2-4 .4-4 1-3 1.6-3 2.5-3 3.3-2.7 7-3.5 9-1.9M662.5 673.5l7-.3 8 .7 23 4 22 5.9 20 7.1 19.1 8.6 8.9 5 6 4 4.8 4 3.3 4 1.1 3-.3 3-.9 1.1-2 1.4-5 1.3-8 .6-11-.3-21-1.7-61-6.7-14-1-6-1.1-4-1.2-7-3.7-3.1-2.7-2.3-3-1.5-3-1-4-.2-4 .4-4 1.5-4 1.9-3 5.3-4.8 3-1.7 5-2 8-1.5"/>
<path fill="none" stroke="#8c8ca0" stroke-opacity="0.78" stroke-width="1.1" d="M658.5 497.5l5-.8 5-.1 16 2.1 19 4.4 18 5.8 15.6 6.6 11.9 7 3.6 3 2.4 3 .9 3-.4 2-2 2.1-5 1.7-8 .8-10 .1-21-1-46-3.5-5-.7-4-1.2-6-3.1-4.2-4.2-2.3-5-.4-3 .1-4 1.6-5 3.2-4.1 5-3.5 7-2.4M659.5 677.5l5-.7 5-.1 16 2.2 18 4.1 19 6.1 15.1 6.4 12 7 3.6 3 2.5 3 .9 3-.3 2-1.8 2-5 1.8-7 .8-10 .2-22-1-46-3.5-9-1.8-6-3-4.5-4.5-2.3-5-.4-6 1.3-5 3.6-5 5.3-3.7 7-2.3"/>
<path fill="none" stroke="#8c8ca0" stroke-opacity="0.78" stroke-width="1.1" d="M661.5 499.4l8-.4 13 2.1 16 3.9 14 4.7 11 4.8 8.3 5 3.3 3 1.4 2 .6 2-.3 2-1.9 2-4.4 1.6-7 1-9 .4-17-.4-33-1.8-5-.7-4-1.2-5.1-2.9-3.5-4-1.8-5 .1-5 1.9-5 3.4-3.6 5-2.9 6-1.6M662.5 679.5l8-.3 13 2 15 3.7 15 5 10.5 4.6 8.4 5 3.4 3 1.4 2 .6 2-.3 2-2 2.1-5 1.8-7 .9-8 .3-17-.3-33-1.8-5-.7-4-1.2-5.5-3.1-3.5-4-1.7-5 .1-5 2-5 3.6-3.8 5-2.7 6-1.5"/>
<path fill="none" stroke="#8c8ca0" stroke-opacity="0.78" stroke-width="1.1" d="M662.5 501.3l6-.3 10 1.6 12.1 2.9 12.2 4 9.1 4 6.5 4 3.6 4 .4 3-1.2 2-4.3 2-5.3 1-7.1.6-14 .1-25-.8-4-.5-4-1.1-5-2.8-3.1-3.5-1.4-4 .1-5 1.6-4 2.8-3.1 4-2.4 6-1.7M663.5 681.4l6-.3 11 1.8 13 3.3 12.2 4.3 8.6 4 5.9 4 1.8 2 1.1 2-.3 3-2.3 2-3 1.1-6 1.1-8 .5-13 .1-24-.8-5-.6-4-1.3-4-2.3-3.4-3.8-1.4-4 .1-5 1.6-4 3.1-3.2 4-2.3 6-1.6"/>
</g>
<rect x="569.5" y="471.5" width="246.0" height="306.0" fill="none" stroke="#1a1a1a" stroke-width="1.6"/>
<text x="569.5" y="803.8" font-size="20.5" text-anchor="middle" fill="#1a1a1a" >0.0</text>
<line x1="600.2" y1="777.5" x2="600.2" y2="773.5" stroke="#1a1a1a" stroke-width="1.3"/>
<line x1="631.0" y1="777.5" x2="631.0" y2="770.5" stroke="#1a1a1a" stroke-width="1.3"/>
<text x="631.0" y="803.8" font-size="20.5" text-anchor="middle" fill="#1a1a1a" >0.5</text>
<line x1="661.8" y1="777.5" x2="661.8" y2="773.5" stroke="#1a1a1a" stroke-width="1.3"/>
<line x1="692.5" y1="777.5" x2="692.5" y2="770.5" stroke="#1a1a1a" stroke-width="1.3"/>
<text x="692.5" y="803.8" font-size="20.5" text-anchor="middle" fill="#1a1a1a" >1.0</text>
<line x1="723.2" y1="777.5" x2="723.2" y2="773.5" stroke="#1a1a1a" stroke-width="1.3"/>
<line x1="754.0" y1="777.5" x2="754.0" y2="770.5" stroke="#1a1a1a" stroke-width="1.3"/>
<text x="754.0" y="803.8" font-size="20.5" text-anchor="middle" fill="#1a1a1a" >1.5</text>
<line x1="784.8" y1="777.5" x2="784.8" y2="773.5" stroke="#1a1a1a" stroke-width="1.3"/>
<text x="815.5" y="803.8" font-size="20.5" text-anchor="middle" fill="#1a1a1a" >2.0</text>
<text x="559.0" y="783.7" font-size="20.5" text-anchor="end" fill="#1a1a1a" >200</text>
<line x1="569.5" y1="746.9" x2="573.5" y2="746.9" stroke="#1a1a1a" stroke-width="1.3"/>
<line x1="569.5" y1="716.3" x2="576.5" y2="716.3" stroke="#1a1a1a" stroke-width="1.3"/>
<text x="559.0" y="722.5" font-size="20.5" text-anchor="end" fill="#1a1a1a" >300</text>
<line x1="569.5" y1="685.7" x2="573.5" y2="685.7" stroke="#1a1a1a" stroke-width="1.3"/>
<line x1="569.5" y1="655.1" x2="576.5" y2="655.1" stroke="#1a1a1a" stroke-width="1.3"/>
<text x="559.0" y="661.3" font-size="20.5" text-anchor="end" fill="#1a1a1a" >400</text>
<line x1="569.5" y1="624.5" x2="573.5" y2="624.5" stroke="#1a1a1a" stroke-width="1.3"/>
<line x1="569.5" y1="593.9" x2="576.5" y2="593.9" stroke="#1a1a1a" stroke-width="1.3"/>
<text x="559.0" y="600.1" font-size="20.5" text-anchor="end" fill="#1a1a1a" >500</text>
<line x1="569.5" y1="563.3" x2="573.5" y2="563.3" stroke="#1a1a1a" stroke-width="1.3"/>
<line x1="569.5" y1="532.7" x2="576.5" y2="532.7" stroke="#1a1a1a" stroke-width="1.3"/>
<text x="559.0" y="538.9" font-size="20.5" text-anchor="end" fill="#1a1a1a" >600</text>
<line x1="569.5" y1="502.1" x2="573.5" y2="502.1" stroke="#1a1a1a" stroke-width="1.3"/>
<text x="559.0" y="477.7" font-size="20.5" text-anchor="end" fill="#1a1a1a" >700</text>
<text transform="translate(513.5,624.5) rotate(-90)" font-size="23.6" text-anchor="middle" fill="#1a1a1a">Energy (meV)</text>
<clipPath id="cpe"><rect x="999.0" y="42.5" width="245.5" height="306.0"/></clipPath>
<g clip-path="url(#cpe)">
<rect x="998.0" y="41.5" width="247.5" height="308.0" fill="#69006c"/>
<path fill="#6d0079" fill-rule="evenodd" d="M999.5 41.5l247 0 0 226.1-11 .7-12 2.1-27 5.5-50 8-28 3.3-31 2.8-11 1.6-7 .3-14-.3-6-1.7-6-4.1-17-14.3-3.3-4-2.9-5-1.7-5-.7-6-.3-140-1.4-4-3.7-3-7.5-3-6.5-1.4 0-58.6z"/>
<path fill="#700081" fill-rule="evenodd" d="M999.5 41.5l247 0 0 56.3-10 .9-10 3-6 3.8-1.3 2-.8 3-.3 136-.9 6-2.6 4-3.8 3-5.3 2.8-14 4.8-36 8.5-27 4.5-40 4.5-13 2-14 .3-6-.3-4-1-4-2.3-4.2-3.8-7.6-8-4.6-6-3-6-1.3-6-.2-138-.4-6-1.4-3-3.8-3-22.5-8.1 0-53.9z"/>
<path fill="#73008a" fill-rule="evenodd" d="M999.5 41.5l232.8 0 .1 36-.5 4-1.2 3-3.7 4-6.2 4-23.2 11-3.5 3-1.3 3-.4 7-.1 129-.4 5-1 3-2.3 3-4.2 3-8.5 4-9.4 3.5-21 5.7-25 4.4-33 4.1-14 2.3-19-.4-5-2-4.1-3.6-5.8-7-3.8-6-2.5-6-1.1-6-.4-143-1-3-2.9-3-3.7-2-16.7-6.5-3.7-2.5-5.3-5.1 0-45.9z"/>
<path fill="#760092" fill-rule="evenodd" d="M999.5 41.5l212.1 0 .1 37-.6 5-1.2 3-3.7 4-4.5 3-23.1 10-3.4 3-1.3 3-.4 7-.1 127-.8 9-1.5 3-2.9 3-4.4 3-6.4 3-16 5-23.9 4.7-30 4.2-14 2.5-14 .1-5-.5-5-2.2-3.9-3.8-3.6-5-3.3-6-1.8-5-1-6-.5-144-1.1-3-3-3-3.8-2.1-16.2-6.9-3.5-3-2.6-4-6.7-15.7 0-29.3z"/>
<path fill="#79009b" fill-rule="evenodd" d="M1001.5 41.5l197.5 0 .1 37-.6 5-1.2 3-2.4 3-4.2 3-23.4 11-3.4 3-1.6 4-.2 132-.6 9-1.1 3-2.3 3-4 3-4.6 2.4-13.8 4.6-21.2 4.6-27 4.1-14 2.7-14 .1-5-.5-4-1.7-4-3.8-3.7-5.5-2.7-6-1.3-5-.5-5-.1-137-.5-7-1.3-3-3.1-3-14.9-7-4.9-3-2.8-3-2.6-4-4.1-9-2-8-1.2-15 0-11z"/>
<path fill="#7b00a4" fill-rule="evenodd" d="M1003.5 41.5l185.1 0 0 37-.4 4-.9 3-3 4-4 3-22.9 12-3 3-1 3-.3 131-.6 10-1.1 3-1.5 2-3.7 3-3.6 2-13.1 4.6-18 4.3-24 3.9-14 3-14 .1-5-.6-4-1.8-3.5-3.5-3.1-5-2.1-5-1.1-4-.6-6-.1-137-.5-7-1.7-4-3.2-3-13.6-7-4.5-3.1-4-4.4-4.2-6.5-2.7-6-1.5-7-.8-12z"/>
<path fill="#7d00ac" fill-rule="evenodd" d="M1005.5 41.5l174 0-.1 38-.4 4-1 3-3 4-5.2 4-16.6 8-5 3-1.9 2-1.2 3-.3 131-.6 10-1.3 3-1.6 2-3.8 2.9-4 2-11.7 4.1-15.3 3.7-18 3.1-11 2.9-5 .6-13 0-5-.5-4-2-3.4-3.8-3.9-8-1.2-5-.5-5-.1-137-.4-7-1.4-4-2.8-3-13.6-8-5-4-5.7-6.5-3.5-5.5-2-5-1.3-7-.6-13 0-10z"/>
<path fill="#7f00b5" fill-rule="evenodd" d="M1007.5 41.5l165.2 0-.2 39-.4 4-1.2 3-3.1 4-4.3 3.2-22.9 10.8-2.1 2-1.3 3-.3 127-.3 12-1.8 5-2.9 3-3.1 2-9.4 4-13.9 3.9-17 3.2-10 2.9-5 .8-18-.3-4-1.6-4-4.3-3.4-7.6-1.4-10-.4-143-1.3-4-2.3-3-16.1-11-7.9-8-4.3-6-2.3-6-1-7-.5-21z"/>
<path fill="#8000be" fill-rule="evenodd" d="M1008.5 41.5l158.6 0-.7 24 .4 16-1.4 6-3.1 4-5.7 4-19.9 8-3.7 2-2.2 2-1.3 3-.3 124-.2 14-1.3 5-3.7 4-8.5 4.5-12 3.8-16 3.3-10 3.2-5 .7-13 0-5-.6-4-2.4-2.8-3.5-2.8-7-1.1-9-.4-143-1.1-4-2.1-3-16.7-12.8-8-7.9-4-5.6-1.9-4.7-1.1-7-.5-15 0-6z"/>
<path fill="#8000c7" fill-rule="evenodd" d="M1009.5 41.5l152.6 0-.1 11-.9 13 .6 16-.6 4-1.4 3-3.7 4-4.8 3-24 9-3.7 3-1.2 3-.3 121-.1 16-.9 5-2.9 4-6.5 4-10.1 3.6-13 3.1-10 3.4-5 .9-12 .2-6-.5-4-1.9-3.2-3.8-2.6-7-.9-8-.1-136-.4-8-1.4-4-2.2-3-11.6-9-8.6-7.8-5-5.2-2.7-4-2-5-1-6-.5-10z"/>
<path fill="#8100d0" fill-rule="evenodd" d="M1010.5 41.5l146.9 0-.1 11-1.2 13 .7 17-.5 3-1.4 3-3.9 4-5.2 3-21.2 7-4.5 2-2.6 2-1.6 3-.5 7 0 111-.4 23-1.1 3-1.5 2-4.9 3.6-8.2 3.4-11.8 3.2-10 3.8-4 .7-12 .2-6-.5-4-2.1-2.6-3.3-2.5-7-.7-8-.1-135-.3-8-1.3-4-2.5-3.5-21-18.1-4.1-4.4-2.7-4-1.6-4-1.1-6z"/>
<path fill="#8200d9" fill-rule="evenodd" d="M1012.5 41.5l140.4 0-.1 11-1.3 13 .6 17-.5 3-1.5 3-4.1 4-5.7 3-25.2 8-4.1 3-1.4 3-.4 7 0 108-.3 25-1.3 4-3.9 4-6 3-10.2 3.3-9 4-5 1.1-17-.1-4-1.7-3.1-3.6-2.1-6-.8-8-.4-143-1.1-4-2.7-4-21.5-19-3.7-4-2.5-4-1.8-5-1-8-.2-17z"/>
<path fill="#8100e2" fill-rule="evenodd" d="M1013.5 41.5l134.9 0-.2 11-1.5 13 .6 17-.6 3-1.6 3-3 3-5.6 3.1-21 6.1-7 2.7-3.9 3.1-1.2 3-.4 7 0 107-.3 26-1.5 4-2.8 3-18.9 9.4-7 1.8-11 .2-6-.7-3.1-1.7-2.9-4-1.5-5-.6-8-.1-135-.4-8-1.4-4-2.9-4-21.1-18.9-5.6-7.1-1.9-5-1-7-.3-18z"/>
<path fill="#7f00eb" fill-rule="evenodd" d="M1014.5 41.5l128.5 0-.2 11-1.8 13 .4 16-.5 3-1.4 3-2.8 3-5.2 3-22 6.3-7.1 2.7-4.4 3-2.3 4-.4 7 0 102-.2 30-1.2 4-2.5 3-11.9 8.4-3 1.3-4 .8-10 .4-6-.6-4-2.2-2.1-3.1-1.7-6-.4-8-.1-133-.4-8-1.3-4.3-3-4.4-21.3-19.3-5.3-7-1.7-5-.9-6-.3-18z"/>
<path fill="#7d00f3" fill-rule="evenodd" d="M1015.5 41.5l122.1 0-.3 11-1.9 13-.4 16-.7 3-1.7 3-3.4 3-3.8 2-21.9 6.5-8.7 3.5-4.5 3-1.6 3-.5 7-.1 100-.1 33-1.2 5-2.6 4-3.7 3.5-4 2.4-4 1-6 .5-7-.2-4-.9-3-2.2-1.7-3.1-1.4-6-.5-7 0-132-.4-9.3-1.3-3.7-3.7-5.3-18.7-16.7-3.7-4-2.6-4-1.7-4-1.1-6z"/>
<path fill="#7500f7" fill-rule="evenodd" d="M1016.5 41.5l116.3 0-.2 11-1.9 12-1.2 14-1.2 5-1.7 3-3.4 3-3.7 2-29 10-4 2.9-1.5 3.1-.5 7 0 101-.2 34-.8 4-2.1 4-2.9 2.9-3 1.7-5 1.3-6 .4-6-.5-3-.9-2.4-1.9-1.8-3-1.5-6-.3-7-.1-132-.4-9-1.5-4-3.4-5-18.3-16-3.5-4-2.7-4-1.6-4-1.2-6z"/>
<path fill="#6d00f9" fill-rule="evenodd" d="M1017.5 41.5l111.9 0-.3 12-2.9 20-1.5 7-1.8 4-3.4 3.6-5 2.9-27 10.1-2.9 2.4-1.5 3-.6 8 0 103-.1 32-.7 4-2.1 4-3.1 2.9-3 1.4-5 1-6 .2-4-.5-3-1.1-2.2-1.9-1.8-3.1-1.3-4.9-.4-7-.4-141-.9-3.1-4-6.3-18.1-15.6-3.5-4-2.6-4-1.9-5-1-6-.4-18z"/>
<path fill="#6400fb" fill-rule="evenodd" d="M1018.5 41.5l107.6 0-.3 13-2.4 15-2 8-2.8 6-3.9 4-4.8 3-24.4 9.8-2.5 2.2-1.4 3-.5 8 0 104-.2 31-.8 5-2 4-2.6 2.3-3 1.4-5 1-6 0-6-1.7-2.2-2-1.8-3.4-1.2-5.6-.3-6 0-131-.5-10-1-2.9-4-6.2-17-14.3-3.3-3.6-3.3-5-2-5-1-6-.3-18z"/>
<path fill="#5b00fd" fill-rule="evenodd" d="M1018.5 41.5l104.3 0-.3 13-1.8 12-2.2 8.5-3.2 6.5-3.3 4-5.7 4-18.8 7.9-3.8 2.1-2.2 2.4-1 2.6-.4 8 0 107-.2 29-.9 5-2.2 4-2.4 2-3.9 1.5-5 .6-4-.1-3-.5-3-1.4-2-1.8-1.8-3.3-1-4-.4-7-.1-131-.4-10-1-3-4.3-6.7-17-14.1-3.6-4.2-2.6-4-2.2-6-.7-5-.3-18z"/>
<path fill="#5300ff" fill-rule="evenodd" d="M1019.5 41.5l99.8 0-.2 13-1.4 10-2.2 8.3-3.3 6.7-3.2 4-4.9 4-21.1 11-2.5 3-.5 2-.5 8 0 110-.2 27-1.1 5-1.7 3.2-3 2.4-3 1.2-4 .7-5-.1-3-.6-3-1.4-2-2-1.7-3.4-.9-4-.4-6 0-132-.4-9-.9-3-3.7-6.1-17.8-14.9-3.4-4-2.6-4-1.9-5-1-6-.3-18z"/>
<path fill="#4900ff" fill-rule="evenodd" d="M1019.5 41.5l96.9 0-.1 13-.9 9-2.2 8-2.8 6-3.8 5-5.1 4.5-19 11-2 2.3-1 2.8-.3 121.4-.3 24-1.1 5-2.3 3.6-3 2-3 1-5 .6-4-.4-4-1.3-2-1.5-1.5-2-1.3-3-.8-4-.2-6-.4-140-.9-3-3.9-6.4-17-14-3.2-3.6-3.3-5-2-5-.9-6-.4-18z"/>
<path fill="#4000ff" fill-rule="evenodd" d="M1019.5 41.5l94.8 0-.5 21-1.7 7-3.1 7-3.6 5-4.9 4.7-18 11.1-2 2.2-1.2 3-.4 9 0 114-.2 22-.9 5-2.3 4-3 2.1-4 1.4-4 .4-4-.4-3-.9-2.5-1.6-1.7-2-1.4-3-.8-4-.3-6-.3-140-1-3.3-4-6.5-17-13.9-3.8-4.3-2.5-4-2-5-.9-6-.3-18z"/>
<path fill="#3700ff" fill-rule="evenodd" d="M1019.5 41.5l93.1 0-.3 21-1.7 7-2.6 6-3.4 5-4.9 5-11.4 7-5.8 4.2-2.4 2.8-1.1 3-.3 9-.1 115-.3 22-1.3 5-2.1 3-2.4 1.7-3 1.2-4 .6-4-.2-3-.7-3-1.6-2-2.2-1.4-2.8-.9-4-.2-6-.1-131-.4-9.9-1-2.7-4-6.4-17-13.9-5.5-7.1-2.2-5-1.1-5-.5-11z"/>
<path fill="#2e00ff" fill-rule="evenodd" d="M1019.5 41.5l91.2 0 .1 21-1.4 6-2.9 7-3.4 5-4.9 5-11.3 7-4.4 3.5-2.8 3.5-.9 3-.4 125-.3 21-1.4 5-2.2 2.9-3 1.9-3 1-4 .4-4-.4-3-1-2.6-1.8-1.6-2-1.3-3-.9-9 0-131-.5-10-1.1-3-4-6.3-16.9-13.7-3.4-4-2.5-4-1.7-4-1.1-5z"/>
<path fill="#2500ff" fill-rule="evenodd" d="M1020.5 41.5l88.2 0 .6 21-1.4 6-2.4 6-3 5-4.5 5-3.9 3-8.3 5-3.3 2.9-3 3.9-1 3.2-.3 126-.3 20-1 4-2.4 3.5-3 2-3 1-4 .4-4-.4-5-2.3-2-2.3-1.3-2.9-1-10 0-130-.4-10-1.1-3-4.2-6.5-16.7-13.5-3.4-4-2.5-4-2.1-5-.9-6-.3-18z"/>
<path fill="#1c00ff" fill-rule="evenodd" d="M1020.5 41.5l86.5 0 0 13 .9 8-1.1 5-2.7 7-3 5-4.5 5-11.1 7.5-3 2.6-3 4.1-1 2.8-.4 9 0 119-.4 19-1.1 4-2.1 3.1-3 2-3 1.1-7 .2-3-.8-3-1.8-2-2.3-1.1-2.5-.8-4-.2-6-.1-130-.4-10-1-3-4.4-6.8-16.5-13.2-3.4-4-2.6-4-2-5-.8-5-.5-19z"/>
<path fill="#1300ff" fill-rule="evenodd" d="M1020.5 41.5l85 0 .1 13 .9 8-1 5-2.2 6-3.5 6-4.4 5-10.2 7-2.7 2.4-3 4.3-1.2 3.3-.4 129-.1 14-.5 5-1.5 4-2.3 2.6-3 1.7-3 .8-4 .3-3-.5-5-2.4-2-2.4-1-2.2-.8-3.9-.2-6 0-130-.4-10-1.1-3-4.5-7-16.3-13-3.5-4-2.5-4-2-5-.8-5-.5-19z"/>
<path fill="#0a00ff" fill-rule="evenodd" d="M1020.5 41.5l83.8 0 .1 13 .9 8-1.1 5-2.1 6-2.7 5-4.1 5-3.3 3-9.5 6.7-3.4 5.3-1 3-.4 131-.6 17-1.6 4-2 2.2-3 1.8-3 .8-4 .3-3-.4-5-2.5-1.8-2.2-1.2-2.7-.9-9.3 0-130-.4-10-1-3-3.7-6.1-17.1-13.9-3.5-4-2.5-4-2-5-.8-4-.5-16 0-4z"/>
<path fill="#0100ff" fill-rule="evenodd" d="M1020.5 41.5l82.9 0 0 13 .8 8-1 5-2.2 6-2.7 5-4 5-3.3 3-8.5 6-3.7 6-.9 3-.4 131-.6 17-1.7 4-2.7 2.6-3 1.5-3 .6-6-.3-5-2.6-2-2.5-.9-2.3-.8-9 0-130-.4-10-1-3-3.9-6.3-16.9-13.7-3.5-4-2.5-4-2-5-.8-4z"/>
<path fill="#0008ff" fill-rule="evenodd" d="M1020.5 41.5l82.1 0 .5 21-1 5-2.1 6-2.7 5-4 5-11.8 9.5-3 5.5-.9 3-.3 131 0 12-.6 5-1.8 4-2.4 2.3-3 1.5-3 .7-6-.4-3-1.2-2-1.4-2.7-4.5-.9-9 0-130-.4-10-.9-3-4.1-6.6-16.7-13.4-3.5-4-2.5-4-2-5-.8-4z"/>
<path fill="#0011ff" fill-rule="evenodd" d="M1021.5 41.5l80.2 0 .3 21-2.6 10-2.5 5-3.8 5-3 3-8.8 7-3.1 6-.8 3-.3 132-.5 15-1.4 4-2.7 2.9-3 1.5-3 .7-6-.3-3-1.3-2-1.5-2.5-4-.9-9 0-130-.4-10-1.2-3.6-4-6.3-16.4-13.1-3.5-4-2.6-4-2-5-.9-5-.4-19z"/>
<path fill="#001aff" fill-rule="evenodd" d="M1021.5 41.5l79.5 0 .1 21-2.2 9-2.9 6-3 4-3.9 4-8.4 7-2.9 6-.7 3-.2 132-.5 15-1.5 4-2.4 2.5-3 1.6-3 .7-6-.3-3-1.3-2-1.6-2.5-4.6-.7-9-.4-139-1.4-4-3.9-6-16.3-13-3.5-4-2.5-4-2.1-5-.7-4-.6-20z"/>
<path fill="#0023ff" fill-rule="evenodd" d="M1021.5 41.5l78.8 0 0 21-2.2 9-2.3 5-3.3 4.6-12.3 11.4-2.7 6-.6 3-.2 133-.1 10-.7 5-1.4 3-3 2.7-5 1.8-6-.4-3-1.3-2-1.7-2.3-4.1-.7-9-.4-139-1.3-4-3.9-6-16.4-13.1-3.5-3.9-2.5-4-2.1-5-.7-4-.6-17 0-3z"/>
<path fill="#002cff" fill-rule="evenodd" d="M1021.5 41.5l78.1 0-.1 21-2.1 9-2.4 5-2.8 4-4.8 5-7 6-2.9 6-.7 3-.3 133-.6 15-1.4 3.5-2.5 2.5-2.5 1.4-3 .8-6-.4-4.7-2.8-2.3-4-.8-9 0-129-.4-10-1.3-4-3.9-6-16.6-13.4-3.2-3.6-2.5-4-2.1-5-.8-4z"/>
<path fill="#0035ff" fill-rule="evenodd" d="M1021.5 41.5l77.4 0 0 20-.8 5-1.5 5-2.4 5-2.8 4-11.5 11-2.8 6-.6 3-.3 134-.6 14-1.2 3-2.9 3-5 1.9-6-.4-4.3-2.5-1.7-2.2-1-2.7-.6-8.1 0-130-.4-9-1.2-4-4-6-16.8-13.6-3-3.4-2.5-4-1.8-4-1-4z"/>
<path fill="#003eff" fill-rule="evenodd" d="M1022.5 41.5l75.7 0-.2 20-.5 4.2-1.6 5.8-4.5 8-12.1 12-2.2 5-.9 4-.2 134-.6 14-1.9 3.8-2.6 2.2-5.4 1.7-5-.5-4-2.4-2-2.7-.7-2.1-.6-8 0-130-.5-9-1.2-4-4-6.1-17-13.8-5.2-7.1-2.2-5-.7-4-.7-20z"/>
<path fill="#0047ff" fill-rule="evenodd" d="M1022.5 41.5l74.9 0-.3 20-.6 4.8-1.5 5.2-4.5 8-11.7 12-1.8 4-1 4-.3 136-.1 9-.6 4-1.5 3.3-3 2.6-5 1.5-5-.6-4-2.4-2.4-4.4-.7-8 0-130-.4-9-1.3-4-4.2-6.4-16.8-13.6-5.2-7-2.1-5-.8-4-.7-19 0-1z"/>
<path fill="#0050ff" fill-rule="evenodd" d="M1022.5 41.5l73.9 0-.3 20-.6 4.7-1.5 5.3-4.4 8-11.4 12-1.4 3-1 4-.3 137-.2 9-.6 4-1.4 3-2.8 2.5-5 1.6-5-.6-3.9-2.5-2.2-4-.7-9 0-129-.5-9-1.7-4.9-4-5.7-16.5-13.4-3.4-4-2.1-3.5-1.9-4.5-.8-4-.6-16-.1-4z"/>
<path fill="#0059ff" fill-rule="evenodd" d="M1022.5 41.5l72.7 0-.3 20-2 10-4.3 8-11 12-1.4 3-.7 4-.3 137-.7 12.7-1.6 3.3-2.4 2.1-5 1.7-5-.6-4-2.8-2-4.1-.5-8.3-.4-137-1.4-5-3.9-6-3.8-3.7-13.2-10.3-3.4-4-2.4-4-1.6-4-.8-4z"/>
<path fill="#0062ff" fill-rule="evenodd" d="M1023.5 41.5l70.3 0-.4 20-1.9 10-2.1 5-1.9 3-10.6 12-1.3 3-.4 3-.3 139-.2 8-.7 4-1.6 3-2.9 2.3-4 1.2-5-.7-3.9-2.8-1.8-4-.5-8-.3-137-2-6-4.3-6-16.1-13-3.5-4-2.3-4-2-5-.6-4-.7-19z"/>
<path fill="#006bff" fill-rule="evenodd" d="M1023.5 41.5l68.6 0-.4 21-2.1 10-3.3 7-10.1 12-1.3 4-.4 143-.1 6-.7 4-1.8 3-2.5 2-3.9 1.2-4-.4-4-2.3-2-3.5-.8-9-.4-137-2.1-6-4.3-6-5.6-5-10.4-8-3.4-3.9-2-3.2-2.1-4.9-.9-4-.8-20z"/>
<path fill="#0074ff" fill-rule="evenodd" d="M1023.5 41.5l66.8 0-.4 22-2.2 10-2 5-10.2 13-1.1 3-.3 144-.1 6-.8 4-1.8 3-2.8 2-4.1.9-4.2-.9-2.8-2.1-1.9-3.9-.5-9-.3-135-1.8-6-4-6-5.5-5.3-11.3-8.7-3.5-4-2.2-3.7-2-4.8-.8-4.5-.7-17-.1-2z"/>
<path fill="#007dff" fill-rule="evenodd" d="M1023.5 41.5l64.9 0-.3 22-2.2 11-2.1 5-9.1 12-.8 3-.2 146-.2 5-1 3.6-2 2.7-2.9 1.7-4.1.5-3-.8-3-2.5-1.4-3.2-.6-8.1-.2-135.9-2.5-7-3.5-5-5.8-5.6-11-8.4-3.5-4-2.4-4-1.7-4-.9-4-.8-15-.1-5z"/>
<path fill="#0086ff" fill-rule="evenodd" d="M1023.5 41.5l63.2 0-.2 22-2.3 12-1.6 4-8.1 11.2-1.1 2.8-.2 147-.9 8-2.1 3-2.7 1.6-4 .5-3-.9-2.6-2.2-1.3-3-.6-9-.3-135-2.6-7-3.5-5-6.1-5.8-10.7-8.2-3.5-4-2.4-4-1.7-4-.9-4z"/>
<path fill="#008fff" fill-rule="evenodd" d="M1024.5 41.5l60.7 0-.2 22-2.2 13-1.3 3-7.7 11-.9 3-.2 148-.3 4-.9 3.5-1.9 2.5-2.1 1.2-3 .6-3.5-.8-2.5-2-1.4-3-.6-9-.2-135-3-7-3.4-5-6.3-6-10.5-8-3.5-4-2.4-4-2.1-5-.8-5-.7-18z"/>
<path fill="#0098ff" fill-rule="evenodd" d="M1024.5 41.5l59.4 0-.1 22-2.2 13-1.2 3-7.3 11-.7 3-.3 148-.4 5-1.1 3-1.8 2-2.3 1.1-3 .2-3.3-1.3-1.8-2-1.1-4-.5-142-3.7-8-3-4-6.2-6-10.5-8-5.4-7-2.3-5-1-5-.9-18 0-1z"/>
<path fill="#00a1ff" fill-rule="evenodd" d="M1024.5 41.5l58.1 0 0 22-2 13-1.2 3-6.9 10.8-.6 2.2-.4 15-.1 133-.2 5-.8 3-1.3 2-2.6 1.5-3 .3-3-1.3-1.9-2.5-.6-3-.6-142-4-8-3-4-6.2-6-10.5-8-5.5-7-2.2-5-.9-4-1.1-16 0-4z"/>
<path fill="#00aaff" fill-rule="evenodd" d="M1024.5 41.5l57 0 .1 21-1.8 13-1.3 4-6.7 11-.9 12-.2 139-.2 4-.8 3-1.6 2-1.8 1-2.8.2-2.7-1.2-1.4-2-.9-4-.4-141-4.4-8-3-4-6.1-6-10.6-8-5.5-7-2.2-5-1-4-1-14z"/>
<path fill="#00b3ff" fill-rule="evenodd" d="M1024.5 41.5l55.8 0 .2 21-1.7 13-.8 3-6.8 12-1.2 13-.1 137-.8 7-1.1 2-1.5 1.1-3 .3-2-.9-1.6-2.5-.5-3-.3-140-1.3-3-6.8-10-6.1-6-10.5-8-5.6-7-2.3-5-.9-4z"/>
<path fill="#00bcff" fill-rule="evenodd" d="M1025.5 41.5l53.7 0 .2 21-1.7 13-.8 3-6.1 11-1.9 14-.1 137-.9 7-2.4 2.2-2 .1-1.8-1.3-1.3-5-.3-139-.8-2-8-11-6.1-6-10.5-8-5.6-7-2.3-5-1.1-5-1.1-18 0-1z"/>
<path fill="#00c5ff" fill-rule="evenodd" d="M1025.5 41.5l52.6 0 .2 21-1.6 13-.7 3-5.9 11-.6 6-2.1 9-.1 133-.3 7-.5 1.9-1 1.2-2 .1-1-1.1-.7-5.1-.3-137-10.8-14-5.2-5-10.5-8-5.6-7-2.3-5-1.1-5-1.1-16-.1-3z"/>
<path fill="#00ceff" fill-rule="evenodd" d="M1025.5 41.5l51.6 0 .3 21-1.4 12-1 4-5.2 10-1.1 7-1.3 4-1.9 3.1-1 .8-2-.5-4-2.9-5.6-7.5-4.9-5-11.5-9-4.8-5-3-5-2.1-6-1.4-14-.2-7z"/>
<path fill="#00d7ff" fill-rule="evenodd" d="M1025.5 41.5l50.6 0 .4 21-1.4 12-.9 4-4.8 9-.9 5.3-1.3 4.7-1.7 2.8-2 1.2-3-.7-3-2.4-4.3-5.9-4.9-5-11.5-9-4-4-3.8-6-2.2-6-1.1-11z"/>
<path fill="#00e0ff" fill-rule="evenodd" d="M1025.5 41.5l49.8 0 .3 21-1.3 12-.9 4-4.6 9-1.1 6-1.4 4-1.8 2.3-2 .7-3-.9-6.9-8.1-5-5-10.5-8-4-4-3.4-5-2.6-7-1.1-9z"/>
<path fill="#00e9ff" fill-rule="evenodd" d="M1026.5 41.5l47.9 0 .4 21-1.1 11-1.1 5-4.1 8-1.2 6-1.4 4-1.4 2.2-2 1.1-3-.7-11.7-12.6-10.4-8-4.8-5-3.6-6-1.8-6-1.4-16-.1-4z"/>
<path fill="#00f2ff" fill-rule="evenodd" d="M1026.5 41.5l47.2 0 .4 21-1.1 11-1.1 5-4.1 8-1.1 6-1.5 4-1.6 2-2.1.7-2-.6-11.4-12.1-10.5-8-4.8-5-3.5-6-1.9-6-1.4-15-.1-5z"/>
<path fill="#00fbff" fill-rule="evenodd" d="M1026.5 41.5l46.5 0 .4 21-1 11-1.2 5-3.9 8-1.1 6-2.7 5.3-2 .8-2-.5-11.1-11.6-10.5-8-4.8-5-3.1-5-2.2-6-1.4-13-.3-8z"/>
<path fill="#00fffa" fill-rule="evenodd" d="M1026.5 41.5l45.8 0 .5 21-.9 10-1.3 6-3.8 8-.8 5-2.5 5.5-2 1.1-2-.4-10.9-11.2-10.4-8-4.9-5-3-5-2.2-6-1.3-10z"/>
<path fill="#00fff1" fill-rule="evenodd" d="M1026.5 41.5l45.6 0 .4 21-.8 10-1.3 6-3.9 8-1 5.8-1.3 3.2-1.6 2-1.1.4-2-.5-10.7-10.9-10.5-8-4.9-5-3.5-6-2-6-1.1-10z"/>
<path fill="#00ffe8" fill-rule="evenodd" d="M1026.5 41.5l45.3 0 .4 21-.8 10-1.3 6-3.6 7.4-1 5.7-2.2 4.9-1.8 1.2-2-.4-11.7-11.8-9.4-7-4.8-5-3.6-6-2-6-1.1-9z"/>
<path fill="#00ffdf" fill-rule="evenodd" d="M1027.5 41.5l44 0 .5 21-.8 10-1.3 6-3.5 7-.9 5.4-2.4 5.6-1.6 1-2-.4-11.6-11.6-9.4-7-4.8-5-3.6-6-2.2-7-1.3-16-.1-3z"/>
<path fill="#00ffd6" fill-rule="evenodd" d="M1027.5 41.5l43.8 0 .4 21-.7 10-1.3 6-3.5 7-.8 5-1.4 4-1.2 2-1.3.7-2-.3-11.5-11.4-9.4-7-4.8-5-3.6-6-2.2-7-1.4-16 0-3z"/>
<path fill="#00ffcd" fill-rule="evenodd" d="M1027.5 41.5l43.6 0 .3 21-.7 10-1.3 6-3.4 7-1 6-2.5 5-1 .5-2-.3-11.4-11.2-10.5-8-4.5-5-3.2-6-1.8-6-1.4-15 0-4z"/>
<path fill="#00ffc4" fill-rule="evenodd" d="M1027.5 41.5l43.3 0 .4 21-.6 9-1.4 7-3.7 8-.7 5-2.3 4.7-1 .6-2-.3-11.3-11-10.5-8-4.5-5-3.2-6-1.8-6-1.4-15-.1-4z"/>
<path fill="#00ffbb" fill-rule="evenodd" d="M1027.5 41.5l43.1 0 .4 21-.7 10-1.3 6-3.5 7.4-.8 5.6-2.2 4.4-1 .7-2-.3-11.2-10.8-10.5-8-4.5-5-3.2-6-1.8-6-1.4-14-.1-5z"/>
<path fill="#00ffb2" fill-rule="evenodd" d="M1027.5 41.5l42.9 0 .4 21-.7 10-1.3 6-3.4 7-.6 5-2.3 5.1-1 .7-2-.2-11.1-10.6-9.4-7-4.9-5-3-5-2.5-7-1.5-14-.2-6z"/>
<path fill="#00ffa9" fill-rule="evenodd" d="M1027.5 41.5l42.7 0 .3 21-.5 9-1.4 7-3.3 7-.7 5-2.1 4.8-1 .8-2-.2-11-10.4-9.4-7-4.9-5-3.5-6-2-6-1.5-13-.2-7z"/>
<path fill="#00ffa0" fill-rule="evenodd" d="M1027.5 41.5l42.5 0 .3 21-.5 9-1.4 7-3.3 7-.7 5-1.9 4.6-1 .8-2-.2-12-11.2-9-6.6-4.2-4.4-3.5-6-2-6-1.5-13-.3-7z"/>
<path fill="#00ff97" fill-rule="evenodd" d="M1027.5 41.5l42.3 0 .3 21-.5 9-1.4 7-3.2 7-.7 5-1.8 4.3-1 .9-2-.2-11.9-11-9.4-7-4.5-5-2.8-5-2-6-1.5-13-.3-7z"/>
<path fill="#00ff8e" fill-rule="evenodd" d="M1027.5 41.5l42.1 0 .3 21-.6 10-1.3 6-3.2 7-.6 5-1.7 4-1 1-2-.1-11.8-10.9-9.2-6.8-4.7-5.2-2.9-5-2.2-7-1.3-12z"/>
<path fill="#00ff85" fill-rule="evenodd" d="M1027.5 41.5l41.9 0 .3 21-.4 9-1.5 7-3.1 7-.5 4-1.9 5-1.8 1-1-.3-11.7-10.7-9.3-6.9-4.6-5.1-3.3-6-1.8-6-1.2-10z"/>
<path fill="#00ff7c" fill-rule="evenodd" d="M1027.5 41.5l41.7 0 .3 21-.4 9-1.5 7-3.1 7-.4 4-2.1 5-1.5.8-1-.3-11.6-10.5-9.4-7-4.6-5-3.2-6-1.8-6-1.1-9z"/>
<path fill="#00ff73" fill-rule="evenodd" d="M1027.5 41.5l41.5 0 .4 21-.5 9-1.5 7-3 7-.6 5-2 4-1.3.6-1-.3-11.5-10.3-8.5-6.2-5.5-5.8-3.2-6-1.8-6-1.2-9z"/>
<path fill="#00ff6a" fill-rule="evenodd" d="M1027.5 41.5l41.4 0 .3 21-.5 9-1.4 7-3 7-.7 5-2 4-2.1.2-11.4-10.2-8.6-6.3-5.4-5.7-3.2-6-1.9-6-1-8z"/>
<path fill="#00ff61" fill-rule="evenodd" d="M1028.5 41.5l40.2 0 .3 21-.5 9-1.4 7-3 7-.6 5-2 3.8-2 .2-11.3-10-8.7-6.4-5.3-5.6-3.3-6-2-7-1.3-15 0-3z"/>
<path fill="#00ff58" fill-rule="evenodd" d="M1028.5 41.5l40 0 .3 21-.4 9-1.5 7-2.9 7-.5 4.4-2 4.2-2 .2-11.2-9.8-8.8-6.4-5.2-5.6-3.3-6-2-7-1.3-15-.1-3z"/>
<path fill="#00ff4f" fill-rule="evenodd" d="M1028.5 41.5l39.9 0 .3 21-.5 9-1.1 6-2.9 7-.7 4.6-1.7 4.4-1.3.9-1-.2-11.2-9.7-8.8-6.5-5.1-5.5-3.3-6-2-7-1.4-14 0-4z"/>
<path fill="#00ff46" fill-rule="evenodd" d="M1028.5 41.5l39.7 0 .3 21-.4 9-1.2 6-3.1 8-.5 4-1.8 4.2-2 .3-11.1-9.5-8.9-6.6-5-5.4-3.3-6-2.1-7-1.3-14-.1-4z"/>
<path fill="#00ff3d" fill-rule="evenodd" d="M1028.5 41.5l39.5 0 .3 21-.4 9-1.1 6-3.2 8-.4 4-1.7 3.9-1 .6-1-.2-11-9.3-9-6.7-5-5.3-3.7-7-1.6-6-1.3-14-.1-4z"/>
<path fill="#00ff34" fill-rule="evenodd" d="M1028.5 41.5l39.4 0 .3 21-.4 9-1.2 6-3.1 8-.4 4-1.6 3.7-1 .6-2-.7-9.9-8.6-9.1-6.8-4.9-5.2-3.7-7-1.6-6-1.3-13-.1-5z"/>
<path fill="#00ff2b" fill-rule="evenodd" d="M1028.5 41.5l39.2 0 .3 21-.4 9-1.1 6-3 7.6-.5 4.4-1.5 3.5-1 .6-2-.6-9.8-8.5-9.2-6.8-4.8-5.2-3.7-7-1.6-6-1.4-13-.1-5z"/>
<path fill="#00ff22" fill-rule="evenodd" d="M1028.5 41.5l39.1 0 .3 21-.5 9-1.1 6-2.8 7.2-.5 3.8-1.5 4.3-1 .6-2-.6-9.7-8.3-9.3-6.9-4.7-5.1-2.9-5-2.3-7-1.5-13-.1-6z"/>
<path fill="#00ff19" fill-rule="evenodd" d="M1028.5 41.5l38.9 0 .3 21-.4 9-1.1 6-2.8 7-.5 4-1.4 4-1 .8-2-.6-9.6-8.2-8.4-6.1-5.7-5.9-2.8-5-2.3-7-1.4-12-.3-7z"/>
<path fill="#00ff10" fill-rule="evenodd" d="M1028.5 41.5l38.8 0 .3 21-.4 9-1.2 6-2.7 7-.5 4-1.5 4-.8.6-2-.5-9.5-8.1-8.5-6.2-5.6-5.8-3.3-6-1.8-6-1.5-12-.2-7z"/>
<path fill="#00ff07" fill-rule="evenodd" d="M1028.5 41.5l38.7 0 .2 21-.4 9-1.1 6-2.7 7-.6 5-1.1 2.6-1 .8-2-.5-9.4-7.9-8.6-6.3-5.5-5.7-3.3-6-1.9-6-1.4-12z"/>
<path fill="#03ff00" fill-rule="evenodd" d="M1028.5 41.5l38.5 0 .3 21-.4 9-1.2 6-2.5 7-.7 4.8-1.7 3.2-1.3.3-1-.5-10.6-8.8-7.4-5.4-5.4-5.6-3.3-6-1.9-6-1.2-9z"/>
<path fill="#0cff00" fill-rule="evenodd" d="M1028.5 41.5l38.3 0 .3 21-.5 9-1.1 6-2.5 7-.5 4-1 3-1 1-2-.4-18-14.1-5.3-5.5-3.3-6-1.9-6-1.2-9z"/>
<path fill="#15ff00" fill-rule="evenodd" d="M1028.5 41.5l38 0 .3 21-.4 9-.9 5-2.4 7-.7 4-1.2 4-.7.6-2-.2-18-14-5.2-5.4-3.3-6-1.9-6-1.2-8z"/>
<path fill="#1eff00" fill-rule="evenodd" d="M1029.5 41.5l36.8 0 .3 21-.4 9-3.9 16-.4 2-1.1 2-1.3.5-1-.3-18-13.9-5-5.3-3.8-7-1.9-7-1.2-15 0-2z"/>
<path fill="#27ff00" fill-rule="evenodd" d="M1029.5 41.5l36.6 0 .2 21-.4 9-1.1 6-2.3 6.9-.5 4.1-1.5 3-1 .3-2-.9-17-13.3-5.6-6.1-3.1-6-1.9-7-1.2-14-.1-3z"/>
<path fill="#30ff00" fill-rule="evenodd" d="M1029.5 41.5l36.4 0 .2 21-.4 9-.9 5-2.3 7.2-.7 4.8-1.3 2.7-1 .3-2-.8-17-13.2-5.5-6-3-6-2-7-1.2-13-.1-4z"/>
<path fill="#39ff00" fill-rule="evenodd" d="M1029.5 41.5l36.1 0 .3 21-.5 9-3.6 16-1.3 3.4-1 .4-2-.7-16.9-13.1-5.5-6-3-6-2-7-1.2-13-.1-4z"/>
<path fill="#42ff00" fill-rule="evenodd" d="M1029.5 41.5l35.9 0 .3 21-.5 9-3.6 16-1.1 3-1 .5-2-.6-16.7-12.9-5.6-6-3-6-2-7-1.2-12-.1-5z"/>
<path fill="#4bff00" fill-rule="evenodd" d="M1029.5 41.5l35.7 0 .3 21-.5 9-3.5 15.8-.6 2.2-1.4 1.3-3-1.2-16-12.5-5.1-5.6-3.1-6-2-7-1.2-12-.1-5z"/>
<path fill="#54ff00" fill-rule="evenodd" d="M1029.5 41.5l35.5 0 .3 21-.5 9-3.5 16-.8 2.3-1 .7-3-1-16-12.5-5-5.5-3.5-7-1.6-6-1.1-11-.2-6z"/>
<path fill="#5dff00" fill-rule="evenodd" d="M1029.5 41.5l35.3 0 .3 21-.4 8-.7 5-2.7 11-.8 3-1 .8-3-1-15.3-11.8-5.6-6-2.7-5-2.2-7-1.3-11z"/>
<path fill="#66ff00" fill-rule="evenodd" d="M1029.5 41.5l35.1 0 .4 21-.6 9-3.2 15-.7 2.6-1 .9-3-.8-15.1-11.7-5.7-6-3.1-6-1.8-6-1.2-9z"/>
<path fill="#6fff00" fill-rule="evenodd" d="M1029.5 41.5l35 0 .3 21-.5 8-3.3 16-.5 2.1-1 1.2-3-.8-15-11.5-5.7-6-3.1-6-1.8-6-1.1-8z"/>
<path fill="#78ff00" fill-rule="evenodd" d="M1029.5 41.5l34.8 0 .2 24-.9 9-2.7 12-1.4 3-1 .2-2-.8-15-11.5-5.6-5.9-3.1-6-1.8-6-1-7z"/>
<path fill="#81ff00" fill-rule="evenodd" d="M1030.5 41.5l33.6 0 .2 24-.9 9-2.7 12-1.2 2.8-1 .2-2-.8-15-11.4-5.5-5.8-3.1-6-2.2-8-1.1-14 0-2z"/>
<path fill="#8aff00" fill-rule="evenodd" d="M1030.5 41.5l33.4 0 .3 23-1 10-2.6 12-1.1 2.5-1 .3-2-.7-15-11.4-5.4-5.7-3.1-6-2.2-8-1.1-14 0-2z"/>
<path fill="#93ff00" fill-rule="evenodd" d="M1030.5 41.5l33.3 0 .2 23-1 10-2.5 11.8-1 2.4-1 .4-2-.7-15-11.3-5.3-5.6-3.1-6-2.3-8-1-13-.1-3z"/>
<path fill="#9cff00" fill-rule="evenodd" d="M1030.5 41.5l33.1 0 .2 23-1 10-2.3 11-1.2 3-.8.4-2-.6-15-11.4-5.1-5.4-3.6-7-1.9-7-1-12-.1-4z"/>
<path fill="#a5ff00" fill-rule="evenodd" d="M1030.5 41.5l32.7 0 .3 23-1.1 10-2 10-.9 3.1-1 .8-2-.5-14-10.4-5.9-6-3.6-7-1.9-7-1-11-.1-5z"/>
<path fill="#aeff00" fill-rule="evenodd" d="M1030.5 41.5l32.4 0 .2 23-1.2 11-2 10-1.4 2.4-3-.9-13-9.7-5.7-5.8-3.1-6-2.2-7-1.1-10z"/>
<path fill="#b7ff00" fill-rule="evenodd" d="M1030.5 41.5l32.1 0 .2 23-1.2 11-2 10-1.1 1.9-1 .2-2-.9-13-9.6-5.5-5.6-3.1-6-2.2-7-1-8z"/>
<path fill="#c0ff00" fill-rule="evenodd" d="M1031.5 41.5l30.8 0 .2 22-1.4 13-1.6 8-1 2.3-1 .4-2-.8-13.4-9.9-5.5-6-3.3-7-1.8-7-.9-15z"/>
<path fill="#c9ff00" fill-rule="evenodd" d="M1031.5 41.5l30.5 0 .2 22-1.4 13-1.6 8-.7 1.6-1 .6-2-.6-13-9.5-5.7-6.1-2.9-6-2-7-1.1-13 0-3z"/>
<path fill="#d2ff00" fill-rule="evenodd" d="M1031.5 41.5l30.2 0 .2 22-2.7 20-.7 1.9-1 .9-2-.5-12-8.6-4-3.6-2.5-3.1-2.9-6-2-7-1.1-12 0-4z"/>
<path fill="#dbff00" fill-rule="evenodd" d="M1031.5 41.5l29.9 0 .2 22-1.5 14-1.2 6-1.4 2.3-3-.8-11.6-8.5-5.7-6-2.9-6-2-7-1-10-.2-6z"/>
<path fill="#e4ff00" fill-rule="evenodd" d="M1031.5 41.5l29.6 0 .2 22-1.7 15-1.1 5.2-1 1.6-1 .2-2-.8-11.4-8.2-5.7-6-2.9-6-2.1-7-.9-9z"/>
<path fill="#edff00" fill-rule="evenodd" d="M1032.5 41.5l28.4 0 .1 22-2.5 19.3-1 2-1 .3-2-.7-11-7.8-5.9-6.1-3.1-6.5-2.1-7.5-.9-15z"/>
<path fill="#f6ff00" fill-rule="evenodd" d="M1032.5 41.5l28.1 0 .1 22-2.4 19-.8 1.7-1 .5-2-.6-10-6.9-4.2-3.7-2.4-3-3.4-7-1.9-7-.9-14 0-1z"/>
<path fill="#ffff00" fill-rule="evenodd" d="M1032.5 41.5l27.9 0 .1 22-2.2 18-.8 2-1 .8-2-.4-9.4-6.4-4.6-4-2.4-3-3-6-2.3-8-.9-12 0-3z"/>
<path fill="#fff600" fill-rule="evenodd" d="M1032.5 41.5l27.7 0 0 22-1.6 15-1 4-1.1 1.4-1 0-3-1.4-9-6.5-5.2-5.5-3-6-2.1-7-1-10-.1-6z"/>
<path fill="#ffed00" fill-rule="evenodd" d="M1032.5 41.5l27.5 0-.1 22-1.6 15-.8 3.6-1 1.4-1 .1-3-1.3-8.1-5.8-5.9-6-3-6-2.1-7-.9-9z"/>
<path fill="#ffe400" fill-rule="evenodd" d="M1032.5 41.5l27.3 0 0 21-2.3 18.8-1 1.7-1 .3-3-1.2-8-5.7-5.8-5.9-2.9-6-2.2-7z"/>
<path fill="#ffdb00" fill-rule="evenodd" d="M1033.5 41.5l26.1 0-.1 21-2 17.8-1 2.2-1 .5-2-.6-8-5.4-4.1-3.5-2.5-3-2.9-6-2.4-8-1-14 0-1z"/>
<path fill="#ffd200" fill-rule="evenodd" d="M1033.5 41.5l25.9 0-.1 21-1.2 8-.5 8-.8 3-1 1-1.3 0-5-2.7-7.9-6.3-3.1-4-2.7-6-2-7-.9-12-.1-3z"/>
<path fill="#ffc900" fill-rule="evenodd" d="M1033.5 41.5l25.7 0-.1 21-2.2 18-1.4 1.7-1 .1-4-2-7.6-5.8-4.2-5-2.7-6-2-7-.9-11-.1-4z"/>
<path fill="#ffc000" fill-rule="evenodd" d="M1033.5 41.5l25.5 0-.2 21-2.2 18-1.1 1.3-1 .2-5-2.5-7.4-6-3.2-4-2.7-6-2-7-.8-9z"/>
<path fill="#ffb700" fill-rule="evenodd" d="M1033.5 41.5l25.3 0-.2 21-2.1 17.3-1 1.6-1 .3-4-1.8-7.1-5.4-4.3-5-2.7-6-2-7z"/>
<path fill="#ffae00" fill-rule="evenodd" d="M1034.5 41.5l24.1 0-.2 21-1.4 8-.5 8.3-1 2.1-1 .4-3-1-7.9-5.8-4.3-5-2.6-6-2.1-7-.9-14-.1-1z"/>
<path fill="#ffa500" fill-rule="evenodd" d="M1034.5 41.5l23.9 0-.3 21-2.1 17-1.5 1.5-4-1.5-7-5.3-4-4.7-2.6-6-2.1-7-.9-12 0-3z"/>
<path fill="#ff9c00" fill-rule="evenodd" d="M1034.5 41.5l23.8 0-.3 21-2.3 17-.8 1-1.4.2-4-2-6.6-5.2-3.2-4-2.7-6-2-7-.9-11-.1-4z"/>
<path fill="#ff9300" fill-rule="evenodd" d="M1034.5 41.5l23.6 0-.3 21-1.4 8-.6 8-1.3 1.9-2-.2-2-1-7-5.3-3.6-4.4-2.7-6-2-7-.9-10z"/>
<path fill="#ff8a00" fill-rule="evenodd" d="M1034.5 41.5l23.5 0-.4 21-1.4 8-.6 8-1.1 1.5-1 .2-3-1.2-7-5.3-3.5-4.2-2.6-6-2-7z"/>
<path fill="#ff8100" fill-rule="evenodd" d="M1035.5 41.5l22.3 0-.4 21-1.4 8-.5 7.2-.8 1.8-1.2.4-3-1.1-7-5.3-3.3-4-3-7-1.9-7-.8-14z"/>
<path fill="#ff7800" fill-rule="evenodd" d="M1035.5 41.5l22.2 0-.5 21-1.4 8-.5 7-.8 1.8-1 .4-3-1-6.9-5.2-3.2-4-2.7-6-2-7-1-13 0-2z"/>
<path fill="#ff6f00" fill-rule="evenodd" d="M1035.5 41.5l22 0-.5 21-1.4 8-.4 6-.5 2-1.2.9-3-.9-6-4.4-4-4.6-2.7-6-2-7-.9-12-.1-3z"/>
<path fill="#ff6600" fill-rule="evenodd" d="M1035.5 41.5l21.8 0-.4 21-1.5 8-.6 7-1.3 1.6-4-1.4-6-4.7-3.4-4.5-2.1-5-2-7-.9-11-.1-4z"/>
<path fill="#ff5d00" fill-rule="evenodd" d="M1035.5 41.5l21.7 0-.5 21-1.5 8-.7 7-1 1.3-1 0-3-1.2-6-4.7-3.2-4.4-2.2-5-2-7-.8-10z"/>
<path fill="#ff5400" fill-rule="evenodd" d="M1035.5 41.5l21.6 0-.5 21-1.5 8-.6 6.4-.9 1.6-1.1.2-3-1.2-6-4.7-3.1-4.3-2.2-5-2-7-.8-9z"/>
<path fill="#ff4b00" fill-rule="evenodd" d="M1035.5 41.5l21.5 0-.5 21-1.6 8-.5 6-.9 1.8-.6.2-3.4-1.2-6-4.6-3-4.2-2.2-5-2-7-.8-8z"/>
<path fill="#ff4200" fill-rule="evenodd" d="M1035.5 41.5l21.4 0-.5 21-1.6 8-.4 5-.9 2.6-1 .3-2-.6-6-4.3-4-5-2.5-6-1.6-6z"/>
<path fill="#ff3900" fill-rule="evenodd" d="M1036.5 41.5l20.3 0-.5 21-2 13-.8 2.3-1 .4-2-.6-6-4.2-3.9-4.9-2.5-6-1.8-7-.8-14z"/>
<path fill="#ff3000" fill-rule="evenodd" d="M1036.5 41.5l20.2 0-.5 21-2.1 13-.6 2-1 .5-2-.5-6-4.2-3.8-4.8-2.5-6-1.8-7-.8-14z"/>
<path fill="#ff2700" fill-rule="evenodd" d="M1036.5 41.5l20.1 0-.5 21-2.1 13-.5 1.7-1 .6-3-.9-5.7-4.4-3.3-4.6-2.5-6.4-1.5-6-.8-14z"/>
<path fill="#ff1e00" fill-rule="evenodd" d="M1036.5 41.5l20 0-.5 21-2.4 14-.8 1-1.3.1-4-2.1-4.6-4-2.5-4-2.3-6-1.5-6-.8-13 0-1z"/>
<path fill="#ff1500" fill-rule="evenodd" d="M1036.5 41.5l19.9 0-.5 21-2.2 13-1.2 2-2-.4-2-1-5-4.1-3-4.5-2.4-6-1.4-6-.8-12 0-2z"/>
<path fill="#ff0c00" fill-rule="evenodd" d="M1036.5 41.5l19.8 0-.5 21-2.3 13-1 1.7-1 .1-3-1.3-5-4.1-2.9-4.4-2.4-6-1.4-6-.8-11 0-3z"/>
<path fill="#ff0000" fill-rule="evenodd" d="M1036.5 41.5l19.6 0-.5 21-2.1 12-1 2.4-3-.5-5.3-3.9-3.6-5-2.3-6-1.4-6-.8-11 0-3z"/>
<path fill="#f90000" fill-rule="evenodd" d="M1039.5 41.5l12.6 0-.3 21-.6 3-1.5 3-1.2 1.2-2 0-3-2.9-1.8-3.3-1.9-9z"/>
<path fill="#f00000" fill-rule="evenodd" d="M1040.5 41.5l11.3 0-.4 21-1.7 5-2.2 1.7-2-.8-2-2.2-1.8-3.7-1.2-5.2-.6-5.8-.2-10z"/>
<path fill="#e70000" fill-rule="evenodd" d="M1040.5 41.5l10.9 0-.4 20-.4 3-1.1 2.3-1 1.1-2 .4-2-1.5-2.1-3.3-1.9-9-.5-13z"/>
<path fill="#de0000" fill-rule="evenodd" d="M1040.5 41.5l10.5 0-.5 20.7-1.6 4.3-1.4 1.1-2-.6-2-2.2-1.1-2.3-1.5-8z"/>
<path fill="#d50000" fill-rule="evenodd" d="M1041.5 41.5l9.2 0-.5 19-.4 3-.9 2-1.4 1.2-2-.4-2-2.3-1-2.5-1.4-10-.3-10z"/>
<path fill="#cc0000" fill-rule="evenodd" d="M1041.5 41.5l8.8 0-.5 17-.4 4-.9 2.3-1 .9-2-.2-1.7-2-.8-2-1.4-8z"/>
<path fill="#c30000" fill-rule="evenodd" d="M1042.5 41.5l7.4 0-.4 15-1.1 7-.9 1.2-2-.1-1.1-1.1-1.2-3-1-5-.4-8-.1-6z"/>
<path fill="#ba0000" fill-rule="evenodd" d="M1042.5 41.5l7.1 0-.5 14-1.2 7-1.4 1.3-1-.2-2-3.8-1.1-8.3-.3-10z"/>
<path fill="#b10000" fill-rule="evenodd" d="M1043.5 41.5l5.6 0-.4 14-1.2 5.9-1 1-1-.3-1-1.4-1-3.3-.9-15.9z"/>
<path fill="#a80000" fill-rule="evenodd" d="M1043.5 41.5l5.3 0-.3 11-1.1 7-.9 1.4-1-.2-1.6-4.2-.9-11 0-4z"/>
<path fill="#9f0000" fill-rule="evenodd" d="M1043.5 41.5l4.9 0-.5 12-1.1 5-.3.6-1-.1-1.1-2.5-.9-8z"/>
<path fill="#960000" fill-rule="evenodd" d="M1044.5 41.5l3.5 0-.5 11-.8 4-1.2.5-1-3.3-.7-12.2z"/>
<path fill="#8d0000" fill-rule="evenodd" d="M1044.5 41.5l3.1 0-1.1 12-1 .3-.6-3.3z"/>
<path fill="#840000" fill-rule="evenodd" d="M1045.5 41.5l1.3 0-.3 6.4-1 .6-.4-7z"/>
<path fill="none" stroke="#8c8ca0" stroke-opacity="0.78" stroke-width="1.1" d="M1096.9 41.5l-.3 21-.9 5-1.5 5-2.1 4-2.8 4-10.8 11-1.4 3-1.1 4-.4 17-.2 130-1.3 5-2.6 3-4 1.9-4 .4-4-1-3.2-2.3-1.8-3-.8-4-.6-144-1.2-4-4-6-3.4-3.3-13.7-10.7-3.3-4-2.4-4-2.3-7-.8-21"/>
<path fill="none" stroke="#8c8ca0" stroke-opacity="0.78" stroke-width="1.1" d="M1050.2 41.5l-.8 20-.9 2.9-1 1-1 .2-1-.4-1.5-1.7-1.5-4.5-.8-6.5-.3-11"/>
</g>
<rect x="999.0" y="42.5" width="245.5" height="306.0" fill="none" stroke="#1a1a1a" stroke-width="1.6"/>
<text x="999.0" y="374.8" font-size="20.5" text-anchor="middle" fill="#1a1a1a" >0.0</text>
<line x1="1029.7" y1="348.5" x2="1029.7" y2="344.5" stroke="#1a1a1a" stroke-width="1.3"/>
<line x1="1060.4" y1="348.5" x2="1060.4" y2="341.5" stroke="#1a1a1a" stroke-width="1.3"/>
<text x="1060.4" y="374.8" font-size="20.5" text-anchor="middle" fill="#1a1a1a" >0.5</text>
<line x1="1091.1" y1="348.5" x2="1091.1" y2="344.5" stroke="#1a1a1a" stroke-width="1.3"/>
<line x1="1121.8" y1="348.5" x2="1121.8" y2="341.5" stroke="#1a1a1a" stroke-width="1.3"/>
<text x="1121.8" y="374.8" font-size="20.5" text-anchor="middle" fill="#1a1a1a" >1.0</text>
<line x1="1152.4" y1="348.5" x2="1152.4" y2="344.5" stroke="#1a1a1a" stroke-width="1.3"/>
<line x1="1183.1" y1="348.5" x2="1183.1" y2="341.5" stroke="#1a1a1a" stroke-width="1.3"/>
<text x="1183.1" y="374.8" font-size="20.5" text-anchor="middle" fill="#1a1a1a" >1.5</text>
<line x1="1213.8" y1="348.5" x2="1213.8" y2="344.5" stroke="#1a1a1a" stroke-width="1.3"/>
<text x="1244.5" y="374.8" font-size="20.5" text-anchor="middle" fill="#1a1a1a" >2.0</text>
<text x="988.5" y="354.7" font-size="20.5" text-anchor="end" fill="#1a1a1a" >200</text>
<line x1="999.0" y1="317.9" x2="1003.0" y2="317.9" stroke="#1a1a1a" stroke-width="1.3"/>
<line x1="999.0" y1="287.3" x2="1006.0" y2="287.3" stroke="#1a1a1a" stroke-width="1.3"/>
<text x="988.5" y="293.5" font-size="20.5" text-anchor="end" fill="#1a1a1a" >300</text>
<line x1="999.0" y1="256.7" x2="1003.0" y2="256.7" stroke="#1a1a1a" stroke-width="1.3"/>
<line x1="999.0" y1="226.1" x2="1006.0" y2="226.1" stroke="#1a1a1a" stroke-width="1.3"/>
<text x="988.5" y="232.3" font-size="20.5" text-anchor="end" fill="#1a1a1a" >400</text>
<line x1="999.0" y1="195.5" x2="1003.0" y2="195.5" stroke="#1a1a1a" stroke-width="1.3"/>
<line x1="999.0" y1="164.9" x2="1006.0" y2="164.9" stroke="#1a1a1a" stroke-width="1.3"/>
<text x="988.5" y="171.1" font-size="20.5" text-anchor="end" fill="#1a1a1a" >500</text>
<line x1="999.0" y1="134.3" x2="1003.0" y2="134.3" stroke="#1a1a1a" stroke-width="1.3"/>
<line x1="999.0" y1="103.7" x2="1006.0" y2="103.7" stroke="#1a1a1a" stroke-width="1.3"/>
<text x="988.5" y="109.9" font-size="20.5" text-anchor="end" fill="#1a1a1a" >600</text>
<line x1="999.0" y1="73.1" x2="1003.0" y2="73.1" stroke="#1a1a1a" stroke-width="1.3"/>
<text x="988.5" y="48.7" font-size="20.5" text-anchor="end" fill="#1a1a1a" >700</text>
<text transform="translate(943.0,195.5) rotate(-90)" font-size="23.6" text-anchor="middle" fill="#1a1a1a">Energy (meV)</text>
<clipPath id="cpf"><rect x="999.0" y="471.5" width="245.5" height="306.0"/></clipPath>
<g clip-path="url(#cpf)">
<rect x="998.0" y="470.5" width="247.5" height="308.0" fill="#69006c"/>
<path fill="#6d0079" fill-rule="evenodd" d="M1038.5 470.5l208 0 0 254.7-1 0-194 0-6-.4-2.4-1.3-.8-2-.3-5 0-173-.6-12-3.5-29 0-32z"/>
<path fill="#700081" fill-rule="evenodd" d="M1043.5 470.5l203 0 0 250.9-1 0-188 0-7-.5-2.8-1.4-1-3-.2-5 0-167-3.7-41-.1-33z"/>
<path fill="#73008a" fill-rule="evenodd" d="M1046.5 470.5l200 0 0 248.4-1 0-184 .1-7-.5-2-.7-1.4-1.3-.8-3-.2-5 0-164-4.1-41 0-33z"/>
<path fill="#760092" fill-rule="evenodd" d="M1049.5 470.5l197 0 0 246.4-1 0-179 .3-8-.3-4-1.4-1.4-3-.3-5 0-163-4-41 0-33z"/>
<path fill="#79009b" fill-rule="evenodd" d="M1051.5 470.5l195 0 0 244.6-2 .1-42 .6-134 0-9-.4-2-.6-1.6-1.3-1-3-.2-6 0-160-3.6-41 0-33z"/>
<path fill="#7b00a4" fill-rule="evenodd" d="M1053.5 470.5l193 0 0 242.8-3 .1-39 1.2-133 .1-10-.4-2.7-.8-1.3-1-1-3-.3-6 0-159-3.3-41 0-33z"/>
<path fill="#7d00ac" fill-rule="evenodd" d="M1055.5 470.5l191 0 0 239.6-5 .9-10 1.4-13 .8-55 .5-94 0-7-.5-3.5-1.7-1.1-3-.3-6-.1-158-3.1-42 .1-32z"/>
<path fill="#7f00b5" fill-rule="evenodd" d="M1056.5 470.5l190 0 0 69.7-3 .8-3.2 2.5-1.1 2-.2 2 0 146-.2 8-.6 4-2.4 3-5.5 2-8.8 1.2-15 .7-135 .4-8-.6-3.2-1.7-1.2-3-.2-5-.1-157-3-41 .1-34z"/>
<path fill="#8000be" fill-rule="evenodd" d="M1057.5 470.5l189 0 0 64.8-3 .9-10.3 6.3-1.9 2-.5 2-.1 151-.7 7-2 3-4.8 2-11.7 1.5-48 1-90 0-8-.5-3-1-1.1-1-1-3-.4-7 0-154-1.9-22-1-19 0-34z"/>
<path fill="#8000c7" fill-rule="evenodd" d="M1058.5 470.5l188 0 0 59.2-3 1.2-6.6 5.6-10.7 6-1.8 2-.6 2 0 143-.4 12-1.3 4-3.6 2.5-7 1.5-15 1.1-32 .6-89 0-9-.5-2-.6-2-1.6-1-3-.3-7-.1-154-1.8-20-1-20z"/>
<path fill="#8100d0" fill-rule="evenodd" d="M1059.5 470.5l187 0 0 53.3-3 1.5-9.4 9.2-14.1 8-1.9 2-.5 2 0 137-.2 15-.9 5-2.7 3-6.7 2-13.6 1.2-30 .8-87 0-9-.6-2-.6-2-1.7-.9-3.1-.3-7-.1-153-1.9-21-.9-19z"/>
<path fill="#8200d9" fill-rule="evenodd" d="M1060.5 470.5l186 0 0 46.9-3 1.7-5.9 7.4-6.4 6-4.7 3.3-11 5.8-2.4 1.9-1.1 2-.2 131-.1 19-.6 6-.8 2-1.9 2-5.7 2-12.2 1.3-27 1-61 0-31-.1-4-.7-2.5-1.5-1.3-3-.4-6-.1-153-1.8-22-.9-19z"/>
<path fill="#8100e2" fill-rule="evenodd" d="M1061.5 470.5l185 0 0 38.8-2 1-7 10.4-7.1 7.8-7.5 6-14.4 7.9-2.1 3.1-.2 124-.1 24-.6 7-.8 2-1.7 2-5 2-10.5 1.4-24 1.2-61 .1-30-.2-4-.7-2.8-1.8-1.1-3-.3-8-.1-151-1.7-21-.9-19z"/>
<path fill="#7f00eb" fill-rule="evenodd" d="M1062.5 470.5l184 0 0 21.3-2 1.5-1 1.8-4.2 12.4-3.8 8-6 7.8-5.4 5.2-8 6-12.9 7-2.3 2-1 2-.1 117-.1 28-.5 8-1.6 4-2.1 1.6-3 1.2-7 1.3-20 1.5-21 .3-70-.1-5-.7-2.9-2.1-1-4-.3-8 0-149-2.5-40-.6-21z"/>
<path fill="#7d00f3" fill-rule="evenodd" d="M1063.5 470.5l173.1 0-.2 15-2.1 16-1.6 7-2.3 6-4.9 6.6-6 6-10.1 7.4-12.6 7-2.2 2-.8 2-.2 120-.1 24-.5 8-1.6 4-2.6 2-2.7 1-22.6 3-39 .2-50-.2-5-1-2-1.9-1-4.1-.2-8-.1-148-3-56-.2-18z"/>
<path fill="#7500f7" fill-rule="evenodd" d="M1064.5 470.5l164.4 0-.8 33-1.3 7-1.6 4-4.4 6-6 6-11.1 8-12.2 7-2.1 2-.8 2-.2 121 0 22-.6 8-1.5 4-2.4 2-2.5 1-12.9 2.7-9 .8-82 0-6-.6-2.9-1.9-1.1-3-.5-7 0-150-3.2-58-.1-16z"/>
<path fill="#6d00f9" fill-rule="evenodd" d="M1064.5 470.5l159.2 0 .1 33-1 7-1.5 4-3.6 5-5.8 6-10.9 8-13.4 8-1.9 2-.8 2-.1 123-.2 21-.7 7-2 4-5.5 3-7.8 2-7.1 1-59 .1-28-.2-3.8-.9-2-2-.9-4-.3-8 0-147-3.3-58-.1-16z"/>
<path fill="#6400fb" fill-rule="evenodd" d="M1064.5 470.5l153.6 0 .5 34-.7 6-1.4 4-3.6 5-5.8 6-10.9 8-11.7 7.3-2.7 2.7-.7 2-.1 123-.2 21-1.1 8-1 2-2 2-7 3-5.2 1.2-5 .4-79 .1-8-.6-2-.9-1.1-1.2-1.1-4-.3-8-.1-148-3.2-55z"/>
<path fill="#5b00fd" fill-rule="evenodd" d="M1065.5 470.5l147.5 0 .2 34-.5 6-1.3 4-2.7 4-5.5 6-5.7 4.6-16.3 11.4-2.7 2.8-.7 2.2-.2 126-.2 19-1 7-1 2-1.9 2-6.2 3-7.8 1.2-80 .1-7-.7-2-1.2-1-1.4-.8-4-.3-9 0-145-3.5-58-.1-16z"/>
<path fill="#5300ff" fill-rule="evenodd" d="M1065.5 470.5l143.7 0 0 34-.6 6-1.2 4-2.6 4-5.4 6-21.2 16-2.5 3-.6 2-.1 126-.2 19-1 7-2.6 4-5.9 3-7.8.8-78 .1-7-.8-2.4-2.1-1-4-.3-9-.1-146-3.5-57-.1-16z"/>
<path fill="#4900ff" fill-rule="evenodd" d="M1065.5 470.5l141.4 0 0 34-.7 7-1 3-3.4 5-4.4 5-20.9 16-2 2.2-1 2.8-.1 126-.2 19-.9 7-2.4 4-5.4 2.8-4 .6-9 .1-72 .1-6-.6-2-.9-1-1.2-1-3.9-.4-9-.1-146-3.4-55z"/>
<path fill="#4000ff" fill-rule="evenodd" d="M1066.5 470.5l138.8 0-.1 34-.5 6-1.1 4-2.5 4-5.2 6-20.7 16-1.8 2-1.1 3-.1 127-.2 18-.9 7-2.2 4-4.4 2.5-4 .6-9 .1-72 .1-6-.6-2-1.1-1-1.5-.9-4.1-.3-9 0-144-3.7-58-.1-16z"/>
<path fill="#3700ff" fill-rule="evenodd" d="M1066.5 470.5l137.5 0-.1 34-.6 7-1 3-2.4 4-5.1 6-19.5 15-2.9 3-1.1 3-.1 127-.2 18-.8 7-2.2 4-4.5 2.4-19 .6-65 .1-6-.8-2-1.2-.7-1.1-.9-4-.3-9 0-144-3.8-58-.1-16z"/>
<path fill="#2e00ff" fill-rule="evenodd" d="M1066.5 470.5l136.5 0-.1 34-.6 7-1 3-2.4 4-5.1 6-19.5 15-2.8 3-1 2.7-.1 126.3-.1 18-.7 7-1.6 4-2.1 2-2.4 1.1-18 .7-65 0-6.9-.8-2.4-2-1-4-.4-9 0-145-3.8-57-.2-16z"/>
<path fill="#2500ff" fill-rule="evenodd" d="M1066.5 470.5l135.6 0-.1 34-.6 7-.9 3-2.4 4-5.1 6-19.4 15-2.8 3-1.1 3-.1 127-.1 17-.6 7-1.6 4-3.8 2.7-4 .6-13 .2-65 .1-7-.6-2-1-1-1.1-1.1-3.9-.4-9 0-145-3.9-57-.1-16z"/>
<path fill="#1c00ff" fill-rule="evenodd" d="M1066.5 470.5l134.8 0 0 34-.5 6-1.1 4-2.3 4-5.1 6-19.4 15-2.7 3-1.1 3-.1 127-.1 17-.6 7-1.7 4-2.1 1.9-2 .8-21 .6-61 0-6-.7-2-1-1-1.4-.9-4.2-.3-9-.1-144-3.8-56z"/>
<path fill="#1300ff" fill-rule="evenodd" d="M1066.5 470.5l134.2 0-.1 34-.4 6-1.1 4-3.1 5-4.3 5-19.4 15-2.7 3-1.1 3-.1 126-.1 18-.6 7-1.6 4-1.6 1.5-2 .8-21 .7-61 .1-6-.8-2-1.2-.7-1.1-1-4-.3-9-.1-144-3.8-54z"/>
<path fill="#0a00ff" fill-rule="evenodd" d="M1066.5 470.5l133.6 0-.1 34-.6 7-.9 3-2.3 4-5.1 6-19.3 15-2.7 3-1.1 3 0 126-.2 18-.6 7-1.7 4-3 2-20 .8-60 .1-7-.6-2-.9-1.4-1.4-1-4-.4-9-.1-144-3.8-54z"/>
<path fill="#0100ff" fill-rule="evenodd" d="M1067.5 470.5l132.1 0-.1 34-.5 6-1 4-3.1 5-4.3 5-12.2 9-7.1 6-2.7 3-1 3-.1 125-.6 25-1.2 4-1.2 1.5-2 1.2-19 .8-60 .2-7.9-.7-3.1-2-1.2-4-.4-9-.1-144-4-56-.2-17z"/>
<path fill="#0008ff" fill-rule="evenodd" d="M1067.5 470.5l131.6 0-.1 34-.7 7-.9 3-2.3 4-5 6-18.2 14-3 3-1.6 3-.3 127-.6 24-1.2 4-2.7 2.3-4 .6-16 .3-60 .2-7-.8-2-1.1-1.1-1.5-.9-4-.4-9 0-143-4.1-56-.2-17z"/>
<path fill="#0011ff" fill-rule="evenodd" d="M1067.5 470.5l131 0-.1 34-.5 6-1 4-3.1 5-4.3 5-12.2 9-7 6-2.7 3-1 3-.1 127-.6 23-1.3 4-1.1 1.2-2 .9-35 1-43 0-7-.6-2-.8-1.6-1.7-1.1-4-.4-9-.1-143-4.2-56-.1-17z"/>
<path fill="#001aff" fill-rule="evenodd" d="M1067.5 470.5l130.6 0-.1 34-.7 7-.9 3-2.3 4-5 6-12.3 9-5.9 5-3 3-1.6 3-.2 126-.5 24-1.6 5-2.5 1.6-35 1.2-43 0-7.3-.8-1.9-1-1.4-2-.9-4-.3-9-.1-142-4.2-55-.3-18z"/>
<path fill="#0023ff" fill-rule="evenodd" d="M1067.5 470.5l130.1 0 0 33-.6 7-1.1 4-2.3 4-4.1 5-4 3.6-9.2 6.4-6.9 6-2.6 3-1 3-.1 125-.5 24-1.2 4-2.5 2.2-10 .7-25 .5-43 0-7-.7-2-1.1-1.2-1.6-1-4-.3-9-.1-142-4.3-54z"/>
<path fill="#002cff" fill-rule="evenodd" d="M1068.5 470.5l128.8 0-.1 34-.6 6-1.1 4-2.3 4-5.1 6-10.9 8-7.2 6-3.5 3.8-1 2.5-.2 125.7-.4 23-1.4 5-2 1.6-4 .7-17 .6-56 .2-8-.8-2-1.3-1-1.6-1-4.4-.3-9 0-141-4.5-56-.2-17z"/>
<path fill="#0035ff" fill-rule="evenodd" d="M1068.5 470.5l128.4 0-.1 34-.5 6-1.2 4-3 5-4.4 5-11 8-7.1 6-2.9 3-1.5 3-.2 125-.1 18-.5 7-1.5 4-2.4 1.4-34 1.4-42 0-7.7-.8-1.6-1-1.4-2-1-5-.3-8-.1-141-4.5-55-.2-18z"/>
<path fill="#003eff" fill-rule="evenodd" d="M1068.5 470.5l128.1 0-.1 33-.6 7-1.1 4-3.1 5-4.2 4.8-11.2 8.2-7 6-2.9 3-1.5 3-.2 125-.5 24-1.2 4-2.5 1.9-12 1-22 .6-42 0-7-.7-2-1.1-1.3-1.7-1-4-.4-9-.1-141-4.6-55-.3-18z"/>
<path fill="#0047ff" fill-rule="evenodd" d="M1068.5 470.5l127.8 0-.1 34-.6 6-1.2 4-2.4 4-4.5 5.4-11.6 8.6-7 6-2.9 3-1.4 3-.2 125-.5 23-1.4 4.9-2 1.5-11 1-23 .8-41 0-8-.8-2-1.2-1-1.5-1.1-4.7-.4-9 0-140-4.7-54-.3-19z"/>
<path fill="#0050ff" fill-rule="evenodd" d="M1068.5 470.5l127.5 0-.1 34-.6 6-1.2 4-2.4 4-4.2 5.1-12 8.9-7 6-2.8 3-1.4 3-.2 124-.5 24-1.1 4-1 1.2-1.7.8-11.3 1.1-22 .8-42 0-7-.9-1.6-1-1.3-2-.9-4-.4-9-.1-140-.9-14-3.8-40z"/>
<path fill="#0059ff" fill-rule="evenodd" d="M1068.5 470.5l127.2 0-.1 34-.6 6-1.2 4-2.5 4-4.1 5-12 9-6.7 5.7-3.1 3.3-1.4 3-.2 124-.6 24-1.3 4-2.4 1.5-12 1.2-21 .9-41 0-7-.6-2-1-1.5-2-1.1-5-.3-8-.1-141-4.8-52z"/>
<path fill="#0062ff" fill-rule="evenodd" d="M1069.5 470.5l125.9 0-.1 33-.6 7-1.2 3.9-2.5 4.1-4.2 5-12 9-7 6-2.8 3-1.3 3-.2 124-.5 23-1.1 4-2.4 1.9-12 1.4-21 1-40 0-8-.7-2-1.1-1.1-1.5-1.3-5-.3-8-.1-141-5-54-.2-18z"/>
<path fill="#006bff" fill-rule="evenodd" d="M1069.5 470.5l125.6 0-.1 33-.5 6-1 4.1-2.9 4.9-4.2 5-11.9 8.9-7 6.1-2.8 3-1.3 3-.2 124-.5 23-1.2 3.7-2 1.5-12 1.7-21 1-40 .1-8-.8-2-1.2-1-1.6-1.1-4.4-.4-9-.1-140-.7-12-4.2-41-.3-19z"/>
<path fill="#0074ff" fill-rule="evenodd" d="M1069.5 470.5l125.3 0-.1 33-.5 6-1 4-2.7 4.7-4.5 5.3-11.5 8.6-7 6-3.1 3.4-1.3 3-.2 123-.5 23-1.2 4-2.7 1.9-12 1.7-20 1-40 .1-8-.9-1.4-.8-1.4-2-1.1-5-.3-9-.1-139-.8-12-4.2-40-.4-20z"/>
<path fill="#007dff" fill-rule="evenodd" d="M1069.5 470.5l125 0-.1 33-.7 7-1.2 3.8-2.7 4.2-4.2 5-11.1 8.2-7 6-3.5 3.8-1.3 3-.2 124-.5 22-1.5 3.9-2 1.2-11 1.9-20 1.3-33 .2-14-.6-3-1.1-1.5-1.8-1.2-5-.3-8-.1-140-.8-13-2.8-22-1.4-17-.4-20z"/>
<path fill="#0086ff" fill-rule="evenodd" d="M1069.5 470.5l124.6 0-.1 33-.5 5.8-1 4.2-3 4.9-4 4.7-12 9.1-7 6.1-2.9 3.2-1.2 3-.2 123-.7 23-1.2 3-2.8 1.7-13 2.2-23 1.2-37 0-6-1.1-2.1-2-1.3-5-.4-8-.1-141-.8-12-2.7-21-1.6-18z"/>
<path fill="#008fff" fill-rule="evenodd" d="M1069.5 470.5l124.2 0-.1 33-.6 6-1 4-2.5 4.3-4 4.8-3.2 2.9-8.8 6.3-7 6.1-3.3 3.6-1.2 3-.2 122-.5 22-1.2 4-3 2-11.6 2.3-23 1.5-38 0-6-1.2-2-2.1-1.2-4.5-.4-9-.1-140-.8-12-2.6-20-1.6-18z"/>
<path fill="#0098ff" fill-rule="evenodd" d="M1070.5 470.5l122.7 0 0 33-.7 6.6-1 3.5-3 4.8-3.5 4.1-3.3 3-9.2 6.6-7 6.2-2.7 3.2-1.2 3-.2 122-.2 16-.6 7-1.7 3-4.3 2-10.1 2-17 1.3-25 .3-19-.2-5-1.3-1.9-2.1-1-4-.5-9 0-139-.7-12-2.9-22-1.7-19-.3-19z"/>
<path fill="#00a1ff" fill-rule="evenodd" d="M1070.5 470.5l122.2 0-.1 33-.8 7-.9 3-2.4 4.1-4.1 4.9-11.9 9.1-7 6.2-3.3 3.7-1.2 3-.2 122-.1 16-.7 6-.7 2-1.8 1.8-5 2.1-9 1.7-18 1.5-38 .2-8-1.1-2-1.4-1-1.8-.9-5-.3-9 0-137-.8-13-3-22.7-1.5-17.3-.3-19z"/>
<path fill="#00aaff" fill-rule="evenodd" d="M1070.5 470.5l121.4 0 0 33-.6 6-1.1 4-2.7 4.4-4.9 5.6-11.1 8.3-7.4 6.7-2.5 3-1.2 3-.2 122-.1 15-.7 6-.9 2.2-1.7 1.8-5.3 2.5-8 1.7-18 1.6-36 .2-5-.1-4.4-.9-1.9-1-1.4-2-1-5-.2-8-.1-138-.9-14-2.9-22-1.4-16-.4-20z"/>
<path fill="#00b3ff" fill-rule="evenodd" d="M1070.5 470.5l120.3 0 0 33-.6 6-1 4-2.7 4.3-5.1 5.7-10.9 8.3-7.4 6.7-2.4 3-1.2 3-.2 121-.1 15-.7 6-1 2.3-1.5 1.7-5.4 3-8.1 1.8-16 1.7-24 .2-19-.3-4-1.1-2.3-2.3-1-4-.4-9-.1-139-.9-13-2.8-21-1.5-16.4-.4-16.6 0-4z"/>
<path fill="#00bcff" fill-rule="evenodd" d="M1070.5 470.5l118.5 0 0 33-.5 7-.9 3-2.5 4-5.5 6-11.1 8.7-6.7 6.3-2.4 3-1.1 3-.2 122-.3 14-1 6-2.8 4-5.5 2.9-6 1.3-16 1.9-22 .3-20-.2-5-1.3-2-2-1.2-4.9-.3-8-.1-139-.8-13-2.6-19-1.7-18z"/>
<path fill="#00c5ff" fill-rule="evenodd" d="M1071.5 470.5l115.2 0-.1 35-.2 5-.7 3-2.6 4-4.8 5-12.2 10-5.6 5.6-2.7 3.4-1.1 3-.2 122-.3 14-1.2 6-3 4-5.5 2.7-6.1 1.3-14.9 1.8-36 .2-8-.8-2.5-1.2-1.5-1.9-1-4.8-.3-8.3-.1-138-.8-13-2.8-20.7-1.7-18.3-.3-19z"/>
<path fill="#00ceff" fill-rule="evenodd" d="M1071.5 470.5l113 0 0 38-.8 5-1.8 3-3.4 3.6-18 15.9-3.8 4.5-1.7 4-.2 123-.3 13-1.2 6-1.1 2-2.1 2-4.6 2.2-6 1.4-14 1.9-38 .2-4-.4-3-.9-2-1.4-1-1.8-.8-4.2-.3-9-.1-137-.8-13.6-3-22.2-1.4-16.2-.3-19z"/>
<path fill="#00d7ff" fill-rule="evenodd" d="M1071.5 470.5l111.3 0-.1 39-.7 4-4.5 5.6-17.4 15.4-5 6-1.7 4-.1 122-.3 13-1 6-2.5 4-5.6 3-18.4 3.1-37 .2-4-.1-3-.8-2.4-1.4-1.3-2-.8-4-.4-9-.1-137-.8-14-3-22-1.3-15-.4-20z"/>
<path fill="#00e0ff" fill-rule="evenodd" d="M1071.5 470.5l109.8 0-.1 38-.8 5-4 5-17 15-5.8 7-1.6 4-.2 123-.2 12-1.1 6-2.8 4-5.2 2.6-18 3.3-35 .1-7-.7-3-1.5-1.3-1.8-1-4-.4-9-.1-138-.9-14-4.1-35-.5-10z"/>
<path fill="#00e9ff" fill-rule="evenodd" d="M1071.5 470.5l108.4 0 0 34-.7 8-.9 2-2.6 3-17.9 16-5.6 7-1.6 4-.2 121-.2 13-.9 6-2.2 4-5 3-16.6 3.5-26 .3-15-.3-4-1.5-2-2.1-1-3.9-.4-9-.2-138-.9-15-4.2-35z"/>
<path fill="#00f2ff" fill-rule="evenodd" d="M1072.5 470.5l106.1 0 0 33-.8 9-3.7 5-17.6 15.7-5.7 7.3-1.6 4-.2 121-.2 13-1 6-2.4 4-4.9 2.7-16 3.5-35 .2-7-.8-2.6-1.6-1.4-2-1-5-.2-8-.1-136-1-16-2.8-21-1.5-16-.3-18z"/>
<path fill="#00fbff" fill-rule="evenodd" d="M1072.5 470.5l104.9 0 0 33-1 9-3.9 5-16.9 15-6.1 8-1.7 4-.2 122-.2 12-1 6-2.6 4-5.3 2.6-14 3.3-37 .2-3-.3-2.4-.8-2.6-2-1-1.9-.8-5.1-.2-8-.1-135-1-16-4.3-37-.3-18z"/>
<path fill="#00fffa" fill-rule="evenodd" d="M1072.5 470.5l103.9 0-.1 33-1.2 9-3.6 4.6-17.4 15.4-5.9 8-1.7 4-.1 120-.2 13-.8 6-2.2 4-4.9 3-13.8 3.6-35 .2-4-.1-3-.9-2.5-1.8-1.2-2-.8-4-.3-9-.1-135-1.1-17-4.2-36-.3-18z"/>
<path fill="#00fff1" fill-rule="evenodd" d="M1072.5 470.5l103.4 0 0 33-1.4 9-3 4.1-18 15.9-5.9 8-1.6 4-.2 120-.2 13-.9 6-2.2 4-5.1 3-12.9 3.4-35 .3-6.3-.7-2.7-1.8-1.5-2.2-.9-4-.3-9-.1-136-1.2-17-4.1-35-.3-18z"/>
<path fill="#00ffe8" fill-rule="evenodd" d="M1072.5 470.5l103 0-.1 33-1.4 9-3.5 4.5-17.6 15.5-5.9 8-1.6 4-.2 120-.2 13-.9 6-2.4 4-5.2 3-12 3.3-35 .2-6-.6-3-1.9-1.3-2-.9-4-.4-9-.1-136-1.1-17-4.1-33-.5-10 0-10z"/>
<path fill="#00ffdf" fill-rule="evenodd" d="M1072.5 470.5l102.5 0 0 33-.7 6-.8 3-3.1 4-17.9 15.7-6 8.3-1.7 4-.1 120-.3 13-.9 6-2.5 4-5.3 3-11.2 3.2-35 .2-6-.6-2.8-1.8-1.4-2-.9-4-.4-9-.1-136-1.1-17-4.1-33-.5-9z"/>
<path fill="#00ffd6" fill-rule="evenodd" d="M1072.5 470.5l102.1 0-.1 33-.6 6-.9 3-3.5 4.3-17 14.7-6.6 9-1.6 4-.2 119-.3 14-.9 6-2.7 4-5.3 3-10.4 3-37 .2-3-.3-2.2-.9-2.2-2-1-2-.7-4-.3-9-.1-135-1.1-17-4.1-33z"/>
<path fill="#00ffcd" fill-rule="evenodd" d="M1072.5 470.5l101.7 0 0 32-1.3 9-1 2-2.6 3-17.8 15.5-6.2 8.5-1.6 4-.2 119-.2 14-1.1 6-2.7 4-5.4 3-6.6 2.3-3 .6-37 .2-3-.3-2-.8-2.2-2-1-2-.8-4-.3-9-.1-135-1.1-17-4.2-34z"/>
<path fill="#00ffc4" fill-rule="evenodd" d="M1072.5 470.5l101.3 0-.1 33-.7 6-1 3-3.5 4.3-17.2 14.7-6.6 9-1.6 4-.2 119-.2 14-1.1 6-2.9 4-5.3 3-5.9 2.2-4 .6-36 .2-3-.4-2-.8-2-1.8-1.1-2-.9-5-.2-8-.1-135-1.1-17-4.3-34z"/>
<path fill="#00ffbb" fill-rule="evenodd" d="M1073.5 470.5l99.9 0 0 32-1.4 9-1 2-2.7 3-17.6 15-6.6 9-1.6 4-.2 118-.3 15-1.1 6-2.9 4-5.3 3-5.2 2-4 .7-36 .1-3-.3-2-.9-1.7-1.6-1.2-2-.9-5-.3-8-.1-134-1.1-18-4.4-35-.3-18z"/>
<path fill="#00ffb2" fill-rule="evenodd" d="M1073.5 470.5l99.6 0-.1 32-1.4 9-1.1 2-2.6 3-17.8 15-6.6 9-1.6 4-.2 118-.3 15-1.2 6-2.9 4-7.6 4-3.2 1.1-4 .5-36 0-3-.6-1.6-1-2.4-3.8-.7-4.2-.3-9-.1-133-1.1-18-4.5-36-.2-17z"/>
<path fill="#00ffa9" fill-rule="evenodd" d="M1073.5 470.5l99.2 0 0 32-1.5 9-1.1 2-2.7 3-17.9 15-6.6 9-1.6 4-.2 117-.2 15-1.3 7-3 4-7.4 4-2.7 1-4 .4-36 .1-2.6-.5-1.7-1-2.6-4-.8-5-.2-8-.1-133-1.1-18-4.5-36-.2-17z"/>
<path fill="#00ffa0" fill-rule="evenodd" d="M1073.5 470.5l98.9 0-.1 32-1.5 9-1.1 2-2.7 3-18 15-6.7 9-1.6 4-.2 118-.3 15-1.2 6-3 4-7.5 4.1-6 1.2-36 .1-2-.3-2.1-1.1-1.7-2-.9-2-.8-5-.3-8 0-133-1.2-18-4.5-36-.3-17z"/>
<path fill="#00ff97" fill-rule="evenodd" d="M1073.5 470.5l98.5 0 0 32-1.6 9-1.1 2-2.8 3-18.1 15-6.7 9-1.6 4-.2 117-.2 15-1.4 7-2.9 4-7 4-5.9 1.1-36 .1-4-1.3-2.6-3.9-.8-5-.2-8-.1-133-1.3-18.7-4.5-35.3-.2-17z"/>
<path fill="#00ff8e" fill-rule="evenodd" d="M1073.5 470.5l98.2 0 0 32-1.7 9-1.1 2-2.8 3-18.3 15-6.7 9-1.6 4-.2 116-.2 15-1 7-1.5 3-1.8 2-6.8 4-5.5 1-36 .1-2-.3-2-1.1-2.4-3.7-.9-5-.2-8-.1-133-1.3-19-4.5-35-.2-17z"/>
<path fill="#00ff85" fill-rule="evenodd" d="M1073.5 470.5l97.9 0 0 32-.6 5-1.2 4-1.1 2-2.8 3-19.4 16-5.8 8-1.6 4-.1 117-.3 15-1.3 7-3 4-6.7 4-6 .9-35 .1-2-.4-2-1.1-2.3-3.5-.9-5-.2-8-.1-133-1.3-19-4.5-35-.3-17z"/>
<path fill="#00ff7c" fill-rule="evenodd" d="M1073.5 470.5l97.6 0 0 32-.7 5-1.1 4-1.1 2-2.9 3-19.6 16-5.8 8-1.6 4-.1 116-.2 15-1 7-1.5 3-1.8 2-6.2 3.8-6 1-35 0-2-.3-2-1.2-2.1-3.3-.9-4.7-.3-8.3-.1-133-1.3-19-4.6-35-.2-17z"/>
<path fill="#00ff73" fill-rule="evenodd" d="M1073.5 470.5l97.3 0 0 32-.7 5-1.1 4-1.2 2-2.9 3-19.8 16-5.8 8-1.5 4-.1 115-.2 16-1.1 7-1.4 3-1.8 2-5.7 3.7-6 .9-35 .1-2-.4-2-1.2-1.9-3.1-1-5-.3-8-.1-133-1.2-18-4.7-36-.3-17z"/>
<path fill="#00ff6a" fill-rule="evenodd" d="M1073.5 470.5l97 0 0 32-.7 5-1.2 4-1.2 2-2.8 3-20.1 16-5.8 8-1.4 4-.2 114-.1 16-.8 7-2.5 5-5.2 4-3 1.1-3 .4-35 .1-4-.9-1.8-1.7-1-2-1-5-.3-8-.1-133-1.2-18-4.7-36-.3-17z"/>
<path fill="#00ff61" fill-rule="evenodd" d="M1073.5 470.5l96.7 0 0 32-.5 4-1.4 5-1.2 2-2.9 3-20.2 16-5.5 7.5-1.7 4.5-.2 115-.2 16-1 7-2.2 4-5.7 4.3-6 1.1-35 0-3-.8-1.6-1.6-1.1-2-.9-5-.3-8-.1-133-1.3-18-4.6-34-.4-9z"/>
<path fill="#00ff58" fill-rule="evenodd" d="M1073.5 470.5l96.5 0-.1 32-.7 5-1.2 4-4.1 5-20.5 16-5.1 7-1.8 4-.3 115-.2 16-.8 7-2.5 5-4.9 4-5.3 1.2-35 .2-4-1-2.5-3.4-1-5-.3-8-.1-133-1.3-18-4.6-34-.5-8z"/>
<path fill="#00ff4f" fill-rule="evenodd" d="M1073.5 470.5l96.2 0 0 32-.7 5-1.3 4-4.2 5-20.6 16-5.1 7-1.8 4-.3 115-.2 16-.7 7-2.5 5-4.8 4-6 1.1-35 .1-3.3-1.2-2.4-4-.8-5-.2-8-.1-132-1.3-18-4.7-34z"/>
<path fill="#00ff46" fill-rule="evenodd" d="M1073.5 470.5l95.9 0 0 32-.5 4-1.5 5-4.2 5-20.8 16-4.9 6.6-2 4.4-.3 115-.1 16-.8 7-2.4 5-4.4 3.8-2 .7-4 .4-35 .1-3.1-1-1.6-2-.9-2-.8-5-.2-8-.1-132-1.3-18-4.7-34z"/>
<path fill="#00ff3d" fill-rule="evenodd" d="M1073.5 470.5l95.7 0 0 32-.6 4-1.5 5-4.3 5-20.8 16-4.6 6-2.3 5-.3 115-.1 16-.8 7-2.4 5-4 3.6-2 .8-4 .4-34 .2-4-1.1-2.4-3.9-.8-5-.3-8-.1-132-1.4-18.4-4.7-33.6z"/>
<path fill="#00ff34" fill-rule="evenodd" d="M1073.5 470.5l95.5 0-.1 32-.8 5-1.3 4-4.3 5-21 16-5 6.8-1.8 4.2-.3 114-.1 16-.6 7-1.8 5-4.4 4.4-2 .8-4 .5-34 .1-4-1.1-2.3-3.7-.8-5-.3-8-.1-132-1.5-19.2-4.6-32.8z"/>
<path fill="#00ff2b" fill-rule="evenodd" d="M1074.5 470.5l94.2 0 0 32-.6 4-1.6 5-4.3 5-21.1 16-4.6 6.1-2.2 4.9-.3 113-.1 17-.6 7-1.8 5-4 4.2-2 .9-4 .4-34 .2-4-1.1-2.2-3.6-.8-5-.3-9 0-130-1.6-20-4.8-35-.3-17z"/>
<path fill="#00ff22" fill-rule="evenodd" d="M1074.5 470.5l94 0-.1 32-.5 4-1.7 5-4.3 5-21.2 16-5.2 7-1.6 4-.3 114-.1 16-.6 7-1.7 5-3.7 4-2.3 1-3.7.4-34 .2-4-1.2-2-3.4-.9-5-.2-9-.1-130-1.6-20-4.9-35-.2-17z"/>
<path fill="#00ff19" fill-rule="evenodd" d="M1074.5 470.5l93.7 0 0 32-.6 4-1.7 5-4.4 5.1-21.2 15.9-4.8 6.4-2 4.6-.2 113-.1 17-.6 7-1.7 5-3.7 4-2.7 1-3 .2-34 .2-4-1.2-1.9-3.2-.9-5-.2-9-.1-130-1.6-20-4.9-35-.3-17z"/>
<path fill="#00ff10" fill-rule="evenodd" d="M1074.5 470.5l93.5 0 0 32-.9 5-1.4 4-4.4 5-21.3 16-4.6 6-2.2 5-.3 113-.1 17-.6 7-2.2 6-3.1 3-5.4 1.1-34 .2-2.1-.3-1.9-1-1.8-3-.9-5-.2-8-.1-131-1.5-19-5.1-36-.2-17z"/>
<path fill="#00ff07" fill-rule="evenodd" d="M1074.5 470.5l93.3 0-.1 32-.5 4-1.8 5-4.4 5-21.4 16-5.1 6.9-1.6 4.1-.3 113-.7 24-1.6 5-1.3 2-2.4 2-4.1.9-12 .4-23-.1-3.8-1.2-1.9-3-.9-5-.2-8-.1-132-1.5-18-5.1-36-.3-17z"/>
<path fill="#03ff00" fill-rule="evenodd" d="M1074.5 470.5l93.1 0-.1 32-.6 4-1.7 5-4.5 5-21.4 16-4.6 6-2.2 5-.2 112-.1 18-.6 7-1.6 5-1.3 2-2.2 1.9-4 .9-12 .4-23-.2-3.6-1-1.9-3-1-5-.2-8-.1-132-1.5-18-5.2-36-.2-17z"/>
<path fill="#0cff00" fill-rule="evenodd" d="M1074.5 470.5l92.7 0 0 32-.9 5-1.6 4-4.4 5-21.5 16-4.3 5.5-2.4 5.5-.3 113-.6 24-1.6 5-1.2 2-1.9 1.6-4 .9-12 .5-22-.1-4-.8-1.3-1.1-1-2-1-5-.3-8-.1-132-1.4-17-5.3-37-.2-17z"/>
<path fill="#15ff00" fill-rule="evenodd" d="M1074.5 470.5l92.3 0 0 32-.6 4-1.4 4-1.8 3-3.2 3-21.6 16-4.7 6.3-2 4.7-.2 111-.5 25-1.6 6-2.7 3.2-3 1-12 .5-23-.1-4-.8-1.7-1.8-.8-2-.7-5-.2-8-.1-130-1.5-18.8-5.3-36.2-.3-17z"/>
<path fill="#1eff00" fill-rule="evenodd" d="M1074.5 470.5l92 0-.1 32-.6 4-1.4 4-1.9 3-3 2.9-21.7 16.1-4.3 5.6-2.4 5.4-.3 112-.5 25-1.4 5-2.4 2.9-3.8 1.1-11.2.5-23-.1-4-.9-1.4-1.5-.9-2-.7-5-.2-9-.1-129-1.7-20-5.2-35-.3-17z"/>
<path fill="#27ff00" fill-rule="evenodd" d="M1074.5 470.5l91.6 0 0 32-.7 4-1.4 4-1.9 3-2.6 2.5-22.1 16.5-4.9 6.6-1.8 4.4-.3 111-.4 25-1 5-2.5 3.5-2 .9-3 .4-15 .6-17-.2-5-1-2.1-3.2-.7-5-.3-9 0-129-1.7-20-5.3-35-.3-17z"/>
<path fill="#30ff00" fill-rule="evenodd" d="M1074.5 470.5l91.3 0-.1 32-.6 4-1.5 4-1.9 3-2.2 2.2-22.5 16.8-4.5 5.9-2.1 5.1-.3 111-.4 25-1.1 5-2.1 3.1-2 1-3 .4-15 .7-17-.2-5-1.1-1.8-2.9-.9-5-.2-8-.1-130.6-1.7-19.4-5.1-33-.5-8z"/>
<path fill="#39ff00" fill-rule="evenodd" d="M1074.5 470.5l91 0-.1 32-.7 4-1.5 4-1.9 3-2.8 2.7-21.9 16.3-5 7-1.6 4-.2 111-.4 25-1.1 5-2.1 3-3.7 1.2-11 .6-21 0-5.3-.8-1.3-1-1-2-.9-5-.3-8-.1-131-1.7-19-5.1-33-.5-8z"/>
<path fill="#42ff00" fill-rule="evenodd" d="M1074.5 470.5l90.7 0-.1 32-.7 4-1.5 4-1.9 3-2.5 2.4-22.2 16.6-4.8 6.6-1.8 4.4-.2 110-.4 26-1.1 5-2.4 3-3.1.9-13 .7-21-.2-4-1.1-1.8-3.3-.8-13-.1-130-1.6-18-5.3-34z"/>
<path fill="#4bff00" fill-rule="evenodd" d="M1074.5 470.5l90.4 0-.1 32-.7 4-1.5 4-2 3-2.1 2-22.5 17-4.5 6.1-2.1 4.9-.2 110-.4 26-1.1 5-2.2 2.7-3 .9-13 .8-20-.2-3-.3-1.9-.9-1.7-3-.7-5-.2-8-.1-130-1.4-17-5.5-35z"/>
<path fill="#54ff00" fill-rule="evenodd" d="M1075.5 470.5l89.1 0-.1 32-.7 4-1.6 4-4 5-17.8 13-4.7 4-4.4 6-2.1 5-.3 110-.4 26-1 4.7-2 2.6-3 1-12 .8-20-.1-5-.7-1.5-1.3-.9-2-.7-5-.2-8-.2-130-1.5-18-5.6-36-.3-17z"/>
<path fill="#5dff00" fill-rule="evenodd" d="M1075.5 470.5l88.8 0 0 32-.8 4-1.6 4-4.1 5-22.3 16.9-4.5 6.1-2.1 5-.2 111-.4 25-.8 4-2 3-3 1-12 .8-19 0-6-.8-1.2-1-1-2-.8-5-.2-8-.1-130-1.7-19-5.5-35-.3-17z"/>
<path fill="#66ff00" fill-rule="evenodd" d="M1075.5 470.5l88.5 0 0 32-.8 4-1.6 4-4.1 5-22 16.6-4.7 6.4-2.1 5-.3 109-.3 26-.9 5-1.7 2.5-3 1.2-12 .9-18 0-7-1-2-2.6-.8-5-.2-8-.2-130-1.7-19-5.6-35-.3-17z"/>
<path fill="#6fff00" fill-rule="evenodd" d="M1075.5 470.5l88.3 0-.1 32-.8 4-1.6 4-4.1 5-21.7 16.3-5 6.7-2 5-.3 109-.3 26-.7 4-1.7 3.1-3 1.3-12 .9-18 .1-7-1.1-2-2.9-.7-4.4-.2-9-.1-129-1.6-18-5.8-36-.3-17z"/>
<path fill="#78ff00" fill-rule="evenodd" d="M1075.5 470.5l88 0-.1 32-.7 4-1.7 4-4.2 5-21.3 16.1-5 6.5-2.3 5.4-.2 109-.4 26-1 5-1.5 2-2.6 1-12 1.1-19 0-6-1.1-1.9-3-.9-13-.1-129-1.6-18-5.8-36-.3-17z"/>
<path fill="#81ff00" fill-rule="evenodd" d="M1075.5 470.5l87.7 0 0 32-2 7-1.7 3-3 3-21.2 16-5.2 7-2.1 5-.3 110-.3 25-.9 4.4-2 2.6-3 .8-12 1-17 0-6.3-.8-1.7-1.4-.7-1.6-.7-4-.2-9-.2-129-1.5-18-5.8-35-.4-18z"/>
<path fill="#8aff00" fill-rule="evenodd" d="M1075.5 470.5l87.5 0-.1 32-2 7-1.7 3-2.7 2.7-16 11.8-6 5.1-4.7 6.4-2 5-.3 109-.4 26-.8 4-1.8 2.5-2 .8-13 1.3-18-.1-4-.4-2-.8-1.8-3.3-.7-13-.1-128-1.6-18-5.8-35-.4-18z"/>
<path fill="#93ff00" fill-rule="evenodd" d="M1075.5 470.5l87.2 0 0 32-2.1 7-1.7 3-2.4 2.4-16 11.8-6 5.1-4.9 6.7-2 5-.3 108-.3 26-.6 4-1.9 3.1-2.4.9-12.6 1.3-17 0-6-.8-1.8-1.5-.8-2-.8-12-.2-130-1.5-17-5.8-35-.4-8-.1-10z"/>
<path fill="#9cff00" fill-rule="evenodd" d="M1075.5 470.5l86.9 0 0 32-.5 3-1.6 4-1.8 3-3 3-11 7.9-10 8.1-5.2 7-2 5-.3 109-.3 25-.7 4-1.5 2.5-2 1-12 1.4-16 .2-8-1-1.4-1.1-.9-2-.7-4.3-.2-7.7-.2-130-1.5-17-5.9-35-.4-7z"/>
<path fill="#a5ff00" fill-rule="evenodd" d="M1075.5 470.5l86.4 0-.1 32-.5 3-1.6 4-3.8 5-12.4 9.1-9.6 7.9-5.1 7-2 5-.3 108-.3 25-.7 4.3-1.9 2.7-13.1 2.3-14 .2-9-.9-2-1.1-1-1.9-.9-12.6-.3-130-1.5-17-5.8-33-.5-7z"/>
<path fill="#aeff00" fill-rule="evenodd" d="M1076.5 470.5l84.8 0 0 31-.4 3-1.4 4-1.6 3-2.7 3-11.7 8.5-10.2 8.5-5.1 7-2 5-.2 107-.3 25-.6 4-1.6 2.8-2 .8-4 .2-7 1.8-15 .2-8-1-2-1.5-.9-2.3-.7-12-.2-128-1.5-17-3.9-20-2.3-16-.4-17z"/>
<path fill="#b7ff00" fill-rule="evenodd" d="M1076.5 470.5l84.2 0-.1 32-2.1 6.7-2 3.2-2 2.1-12 8.7-9.8 8.3-4.5 6-2.6 6-.2 106-.3 25-.6 4-2 2.9-5 .7-7 2.2-12 .5-10-1.1-2-1-1.3-2.2-.7-4-.2-8-.3-129-1.7-17-3.8-19.4-2.2-14.6-.5-18z"/>
<path fill="#c0ff00" fill-rule="evenodd" d="M1076.5 470.5l83.6 0-.1 31-.5 3.5-1.3 3.5-1.7 3-2.8 3-11.2 8.1-10.5 8.9-5.2 7-2 5-.2 106-.2 23-.8 5-1.2 2-4.9 1-4 2.1-3 .9-9 .6-12-1-2.9-1.6-1.1-2.1-.8-11.9-.4-129-1.5-15-4-20-2.3-14.7-.5-18.3z"/>
<path fill="#c9ff00" fill-rule="evenodd" d="M1076.5 470.5l82.9 0-.1 31-.4 3-1.5 4-1.7 3-2.8 3-11.4 8.2-11.2 9.8-4.5 6-2.2 5-.1 104-.2 23-.8 5-1 1.6-4 .9-5 3.9-7 1.3-8 0-7-.9-3-1.4-1.4-2.4-.6-3-.3-8-.5-128-1.6-16-4.1-20-2.3-15-.5-7z"/>
<path fill="#d2ff00" fill-rule="evenodd" d="M1076.5 470.5l82.2 0-.1 31-.4 3-1.5 4-1.8 3-2.9 3-11.1 8-12.6 11-4.5 6-1.8 4-.9 101-.6 22.4-2 .9-2.3 7.7-2.4 4-2.3 1.6-4 1-11 0-4.7-.6-2.7-1-1.6-1.4-1-2.3-.7-11.3-.7-128-1.9-15-3.8-18-2.2-14-.7-7z"/>
<path fill="#dbff00" fill-rule="evenodd" d="M1077.5 470.5l80.5 0-.1 31-.5 3-1.5 4-1.8 3-2.9 3-10.7 7.6-13.7 11.4-4.7 6-1.9 4-3.7 55.8-.9 40.2-.4 31-.9 5-1.6 3-2.2 1.5-4 1.1-10-.1-6.2-1.5-1.8-1.6-1.1-2.4-.8-11-1-125-.8-10-5.3-25.9-2.2-14.1-.6-19z"/>
<path fill="#e4ff00" fill-rule="evenodd" d="M1077.5 470.5l79.8 0-.2 31-.5 3-1.6 4-1.8 3-2.9 3-9.8 6.9-15.3 12.1-4.8 6-1.9 4-3.4 46-1.1 48-.3 31-.6 5-1.1 3-2.2 2-2.5 1-3.8.4-6-.2-4-.8-2.7-1.4-1.3-1.4-1-2.6-.7-9-1.6-126-1-9-5.6-27-2.1-12.8-.6-19.2z"/>
<path fill="#edff00" fill-rule="evenodd" d="M1077.5 470.5l79 0-.2 31-.5 3-1.7 4-1.8 3-3 3-9.8 6.9-8 6.8-8 5.3-4.8 6-1.9 4-3.1 41-1.5 50-.3 32-.4 4.8-1 3.2-1.7 2-2.3 1.2-8 .3-3-.8-3-1.7-2.1-4-.7-8-.5-41-2.3-83-.8-8-5.9-27-2.3-14-.7-8z"/>
<path fill="#f6ff00" fill-rule="evenodd" d="M1077.5 470.5l78.2 0-.3 31-.5 3-1.7 4-1.9 3-3 3-9.8 6.9-7 6-9.8 6.1-4.7 6-1.9 4-3.3 39-2.1 47-.4 34-1.1 8-1.1 2-1.6 1.2-6 .3-2-.6-2-1.7-1.8-4.2-.6-7-.9-41-4.4-80-1-8-6.3-27.9-2-11.6-1-9.5z"/>
<path fill="#ffff00" fill-rule="evenodd" d="M1078.5 470.5l76.4 0-.3 30-1.3 6-2.2 4-2.6 3-10 7.1-7 6-10.4 5.9-5.9 7-2.3 6-3.9 35-4.5 40.7-1 3.6-1 1.1-1-.1-1-1.3-1-3.2-8-53-3.4-32.8-7.6-32-2-12.5-.7-7.5-.1-13z"/>
<path fill="#fff600" fill-rule="evenodd" d="M1078.5 470.5l75.6 0-.5 31-.5 3-1.7 4-2 3-3.2 3-8.6 6-7.1 6-10 5.1-5 5-4.7 7.9-3.3 18.6-2 8.3-1 2.1-2 1.1-2-.3-2-2.4-4-13.1-3.1-14.3-5.4-19-5.4-23-2.4-17-.1-15z"/>
<path fill="#ffed00" fill-rule="evenodd" d="M1078.5 470.5l74.7 0-.4 30-1.4 6-2.3 4-2.7 3-10 7-5.7 5-3.2 1.9-7 3.1-4.1 3-8.6 11-3.3 6.7-3 .8-2-.8-1-1.1-2.4-4.6-4.6-5.8-5.3-15.2-4.7-19.3-2-11.4-1-9.3z"/>
<path fill="#ffe400" fill-rule="evenodd" d="M1079.5 470.5l72.8 0-.3 27-.3 5-.8 3-2.1 4-2.4 3-14.6 11-4.2 3-7.1 3-3.4 2-2.6 2.2-6 6.9-3 1.9-3 .5-4-.3-3-1.3-2-1.7-2-3-4.3-10.2-5.7-22.7-2.6-19.3-.1-14z"/>
<path fill="#ffdb00" fill-rule="evenodd" d="M1079.5 470.5l71.9 0-.4 27-.3 5-.9 3-2.1 4-2.4 3-13.7 10-3.9 3-7.2 3-5.2 3-6.8 7.1-3 1.8-3 .6-4-.2-4.1-2.3-1.9-2.4-5-10.3-5.7-22.3-2.4-17-.3-16z"/>
<path fill="#ffd200" fill-rule="evenodd" d="M1080.5 470.5l69.9 0-.2 23-1.1 11-2 4-3.1 4-12.8 9-3.9 3-12.3 6-2.7 2-4.7 5-2.1 1.3-3 .7-4-.2-4-2.5-5-7.8-1.6-3.5-5.8-22-2.5-19-.1-14z"/>
<path fill="#ffc900" fill-rule="evenodd" d="M1080.5 470.5l68.8 0-.3 23-.4 8-.7 3-2.4 4.6-2.8 3.4-11.9 8-5.3 3.7-12.3 6.3-7.7 6.7-3 .9-3 0-2-.5-2-1.4-5-6.7-2-3.8-5.8-21.2-2.6-19-.1-15z"/>
<path fill="#ffc000" fill-rule="evenodd" d="M1080.5 470.5l67.6 0-.3 24-.4 7-.7 3-2.2 4-3.3 4-10.7 7-6.2 4-11.8 6.3-8 6.4-5 .7-2-.6-2-1.7-4-4.8-2.5-4.3-5.9-21-2.4-17z"/>
<path fill="#ffb700" fill-rule="evenodd" d="M1081.5 470.5l65.3 0-.3 24-.5 7-.7 3-2.2 4-3.4 4-10.2 6.5-18 10.2-6 4.9-2 1.1-5 .1-3-2.2-4-4.4-2-3.4-6.3-21.8-2.3-18-.1-15z"/>
<path fill="#ffae00" fill-rule="evenodd" d="M1081.5 470.5l64 0-.2 21-1 12-2 4-3.8 4.6-3.1 2.4-6.8 4-17.8 10-6.3 4.7-2 .9-4-.1-5-4.1-2.1-2.4-1.6-3-6.5-22-2-17z"/>
<path fill="#ffa500" fill-rule="evenodd" d="M1082.5 470.5l61.6 0-.1 21-1.1 12-2.1 4-3.3 4-3.7 3-5.3 3.1-18 10-8 5.1-4-.1-5.3-4.1-2.7-4-6.8-22-2.1-18-.1-14z"/>
<path fill="#ff9c00" fill-rule="evenodd" d="M1082.5 470.5l60.6 0-.2 21-1.1 12-1.5 3-4.1 5-3.7 3-5 2.9-25 14.2-4-.1-5.4-4-2.4-4-6.8-21-2.1-18-.1-14z"/>
<path fill="#ff9300" fill-rule="evenodd" d="M1082.5 470.5l59.6 0-.2 21-1.1 12-1.6 3-4.2 5-7.5 5.2-25 13.8-2 .3-2-.4-5-3.4-2.2-3.5-7.2-21-2-17-.2-15z"/>
<path fill="#ff8a00" fill-rule="evenodd" d="M1082.5 470.5l58.6 0-.2 21-1.1 12-1.7 3-4.3 5-7.1 5-25.2 13.2-2 0-2-.8-4-2.9-1.6-2.5-3.7-9-4-13-1.9-16z"/>
<path fill="#ff8100" fill-rule="evenodd" d="M1082.5 470.5l57.7 0-.2 20-.9 12-1.3 3-4.1 5-3.3 3-3.9 2.5-25 12.7-3-.3-4.4-2.9-1.6-2.1-3.6-7.9-4.1-12-2.2-16z"/>
<path fill="#ff7800" fill-rule="evenodd" d="M1083.5 470.5l55.8 0-.2 20-.9 12-1.4 3-4.2 5-6.4 5-24.7 12.3-3-.3-4.4-3-1.6-2.3-3.7-7.7-4.1-12-2.1-18 0-14z"/>
<path fill="#ff6f00" fill-rule="evenodd" d="M1083.5 470.5l55 0-.2 20-1 12-1.4 3-3.4 4-3 3-4 2.8-24 11.5-3-.2-4-2.7-2-2.7-3.4-6.7-4.2-12-2.1-17-.1-15z"/>
<path fill="#ff6600" fill-rule="evenodd" d="M1083.5 470.5l54.1 0-.2 20-1 12-3.1 5-3.8 4-3.8 3-7.2 3.9-17 7.5-3-.1-4-2.8-4.6-7.5-4.8-13-2.1-17-.1-15z"/>
<path fill="#ff5d00" fill-rule="evenodd" d="M1083.5 470.5l53.4 0-.2 20-1.1 12-.8 2-2.3 3-7 6.5-7 3.9-17 7.3-3-.1-4-2.8-4.4-6.8-4.8-13-2.2-17-.1-15z"/>
<path fill="#ff5400" fill-rule="evenodd" d="M1083.5 470.5l52.9 0-.2 20-1 12-.9 2-2.4 3-7.4 6.8-7 3.7-16 6.7-3 0-4-2.8-2-2.5-2.7-4.9-4.4-12-2.2-17-.1-15z"/>
<path fill="#ff4b00" fill-rule="evenodd" d="M1083.5 470.5l52.5 0-.3 20-1 12-2.4 4-7.8 7.4-7 3.8-16 6.6-3-.1-4-2.7-2-2.4-2.5-4.6-3.7-9-1.1-4-1.9-16z"/>
<path fill="#ff4200" fill-rule="evenodd" d="M1083.5 470.5l52 0-.2 20-1.1 12-2.4 4-7.3 7-8 4.3-16 6.3-3-.8-3-2.2-4.4-6.6-3.7-9-1.1-4-1.9-16z"/>
<path fill="#ff3900" fill-rule="evenodd" d="M1083.5 470.5l51.6 0-.3 20-1.1 12-2.4 4-7.4 7-7.4 4-16 6.2-3-.7-4-3.3-3.7-6.2-4.4-12-1.9-15z"/>
<path fill="#ff3000" fill-rule="evenodd" d="M1083.5 470.5l51.1 0-.2 20-1.1 12-2.5 4-6.3 6.1-8 4.6-16 6.1-3-.7-3-2.2-4.1-5.9-4.7-12-2-15z"/>
<path fill="#ff2700" fill-rule="evenodd" d="M1084.5 470.5l49.7 0-.2 20-1.2 12-2.5 4-7.6 7-7.2 3.8-15 5.6-3-.7-4-3.1-3.9-6.6-3.2-8-1-4-1.9-17 0-13z"/>
<path fill="#ff1e00" fill-rule="evenodd" d="M1084.5 470.5l49.3 0-.2 18-1 13-2 4-7.1 6.9-7 4.1-16 6-3-.7-4-3-3.3-5.3-3.4-8-1.1-4-2-17-.1-14z"/>
<path fill="#ff1500" fill-rule="evenodd" d="M1084.5 470.5l48.9 0-.2 18-1 13-2 4-7.4 7-7.3 4.1-15 5.5-3-.6-4-3-3.1-5-3.5-8-1.1-4-2.1-17 0-14z"/>
<path fill="#ff0c00" fill-rule="evenodd" d="M1084.5 470.5l48.4 0-.1 18-1.1 13-2 4-7.2 6.8-7.4 4.2-14.6 5.2-3-.5-4-3-3-4.7-3.5-8-1.2-4-2-17 0-14z"/>
<path fill="#ff0000" fill-rule="evenodd" d="M1084.5 470.5l48 0-.1 18-1.1 13-2.1 4-6.4 6-7.3 4.5-15 5.3-3-.5-4-2.9-3-4.7-3.4-7.7-1.2-4-2-17-.1-14z"/>
<path fill="#f90000" fill-rule="evenodd" d="M1087.5 470.5l31.3 0 1.1 11-.8 11-2.1 9-3 3-9.5 4.6-5 1.1-4-1.4-4-3.9-2-4.3-2-10.9-.5-8.2z"/>
<path fill="#f00000" fill-rule="evenodd" d="M1088.5 470.5l28.9 0 1.2 10-.4 9-1.9 10-.8 2-2 2.2-7 3.6-6 1.9-4-.9-4.5-3.8-2.1-5-2-11-.3-9 .5-9z"/>
<path fill="#e70000" fill-rule="evenodd" d="M1089.5 470.5l26.4 0 1.5 10-.6 10-2.4 10-1.2 2-1.7 1.4-7 3.4-5 .9-4-1.4-3.3-3.3-2.3-7-1.6-10 0-10 .5-6z"/>
<path fill="#de0000" fill-rule="evenodd" d="M1090.5 470.5l24 0 1.5 9-.3 9-2.2 10.2-1.2 2.8-1.8 1.9-6 3-5 .9-4-1.5-3-3.3-2.2-7-1.4-10-.1-6 .8-9z"/>
<path fill="#d50000" fill-rule="evenodd" d="M1090.5 470.5l22.4 0 1.8 8-.1 8-1.9 10-1.6 4-1.4 2-4.2 2.5-5 1.3-4-.9-3-2.9-2.4-7-1.5-9-.2-7z"/>
<path fill="#cc0000" fill-rule="evenodd" d="M1091.5 470.5l19.8 0 2 8 .1 7-1.6 9-3.1 7-3.2 2.3-5 1.4-4-1-2.4-2.7-2.4-7-1.3-8-.2-8z"/>
<path fill="#c30000" fill-rule="evenodd" d="M1092.5 470.7l17.1-.2 2.4 8 .1 6-1.6 9-3 6.7-3 2.7-5 1.1-3-1.3-2-2.9-2.4-7.3-1.1-8 .1-6z"/>
<path fill="#ba0000" fill-rule="evenodd" d="M1094.5 470.5l13.1 0 2 5 1.2 5-.4 7-1.9 7-2.8 5-3.2 2.4-3 .5-3-1.9-2-3.7-2-7.2-.7-8.1.7-6 1.4-5z"/>
<path fill="#b10000" fill-rule="evenodd" d="M1095.5 470.7l9.7-.2 3.5 7 .6 5-.7 6-1.6 5-2.5 4-3 2.3-3-.2-2-2-2-4.4-1.5-6.7-.2-6 .7-4.5z"/>
<path fill="#a80000" fill-rule="evenodd" d="M1097.5 471.3l.5-.8 4 0 3.5 4 2.1 4 .4 4-.6 5-1.7 5-2 3-3.2 2-2-.5-2-2.3-2-5.2-.8-6 .2-5 1.4-4z"/>
<path fill="#9f0000" fill-rule="evenodd" d="M1099.5 473.2l2 .3 2.7 2 1.4 2 .9 3-.1 4-.9 4-2 4-2 1.8-2 .4-2-1.5-2-4.6-.7-4.1-.1-4 .8-3.6 2-2.8z"/>
<path fill="#960000" fill-rule="evenodd" d="M1098.5 475.9l3 0 2 1.6 1 2 .3 3-.4 3-.9 2.6-1.7 2.4-1.3.8-2-.6-2.1-4.2-.5-4 .2-3 .8-2z"/>
<path fill="#8d0000" fill-rule="evenodd" d="M1098.5 479.4l1-.7 1 .1 1.5 1.7.3 2-1 3-.8.8-1 0-1-1.2-.6-3.6z"/>
<path fill="none" stroke="#8c8ca0" stroke-opacity="0.78" stroke-width="1.1" d="M1192.6 470.5l0 34-.8 6-1.3 4-3 4.4-5.3 5.6-10.7 8-7 6.2-2.8 3.8-.7 2-.3 137-.2 4.3-.8 3.7-1.2 2-1.4 1-5.6 2.2-3.8.8-24.2 2.2-15 .1-22-.1-5-.5-2-.5-2-1.4-1.5-3.8-.7-13-.1-138-.9-13-2.5-18-1.8-21-.3-18"/>
<path fill="none" stroke="#8c8ca0" stroke-opacity="0.78" stroke-width="1.1" d="M1159.9 470.5l-.1 32-1.8 6-1.7 3-1.8 2.1-12 8.9-11.5 10-4.9 7-1.3 3-.4 4 0 117-.3 10-.6 3.5-1 1.9-1 .7-4 .5-5 2.7-4 .8-8 .3-8-.4-4-.9-2-1.4-1.3-3.7-.4-8-.4-129-.7-11-1.2-8.1-4-19.9-2-13-.4-18"/>
<path fill="none" stroke="#8c8ca0" stroke-opacity="0.78" stroke-width="1.1" d="M1141.1 470.5l-.1 18-.7 12-.8 3.5-1.4 2.5-4.3 5-3.8 3-26.5 14.4-3 .9-3.7-1.3-2.7-2-1.7-2-3.4-8-4.2-12-1.9-12-.5-6-.2-16"/>
<path fill="none" stroke="#8c8ca0" stroke-opacity="0.78" stroke-width="1.1" d="M1124.3 470.5l.5 9-.3 10.5-1.1 9.5-1 3-3.9 3.2-14.5 7.8-4.5 1-2-.4-3-1.7-3.8-4.9-2.2-4-1.3-5-1.4-11-.1-17"/>
</g>
<rect x="999.0" y="471.5" width="245.5" height="306.0" fill="none" stroke="#1a1a1a" stroke-width="1.6"/>
<text x="999.0" y="803.8" font-size="20.5" text-anchor="middle" fill="#1a1a1a" >0.0</text>
<line x1="1029.7" y1="777.5" x2="1029.7" y2="773.5" stroke="#1a1a1a" stroke-width="1.3"/>
<line x1="1060.4" y1="777.5" x2="1060.4" y2="770.5" stroke="#1a1a1a" stroke-width="1.3"/>
<text x="1060.4" y="803.8" font-size="20.5" text-anchor="middle" fill="#1a1a1a" >0.5</text>
<line x1="1091.1" y1="777.5" x2="1091.1" y2="773.5" stroke="#1a1a1a" stroke-width="1.3"/>
<line x1="1121.8" y1="777.5" x2="1121.8" y2="770.5" stroke="#1a1a1a" stroke-width="1.3"/>
<text x="1121.8" y="803.8" font-size="20.5" text-anchor="middle" fill="#1a1a1a" >1.0</text>
<line x1="1152.4" y1="777.5" x2="1152.4" y2="773.5" stroke="#1a1a1a" stroke-width="1.3"/>
<line x1="1183.1" y1="777.5" x2="1183.1" y2="770.5" stroke="#1a1a1a" stroke-width="1.3"/>
<text x="1183.1" y="803.8" font-size="20.5" text-anchor="middle" fill="#1a1a1a" >1.5</text>
<line x1="1213.8" y1="777.5" x2="1213.8" y2="773.5" stroke="#1a1a1a" stroke-width="1.3"/>
<text x="1244.5" y="803.8" font-size="20.5" text-anchor="middle" fill="#1a1a1a" >2.0</text>
<text x="988.5" y="783.7" font-size="20.5" text-anchor="end" fill="#1a1a1a" >200</text>
<line x1="999.0" y1="746.9" x2="1003.0" y2="746.9" stroke="#1a1a1a" stroke-width="1.3"/>
<line x1="999.0" y1="716.3" x2="1006.0" y2="716.3" stroke="#1a1a1a" stroke-width="1.3"/>
<text x="988.5" y="722.5" font-size="20.5" text-anchor="end" fill="#1a1a1a" >300</text>
<line x1="999.0" y1="685.7" x2="1003.0" y2="685.7" stroke="#1a1a1a" stroke-width="1.3"/>
<line x1="999.0" y1="655.1" x2="1006.0" y2="655.1" stroke="#1a1a1a" stroke-width="1.3"/>
<text x="988.5" y="661.3" font-size="20.5" text-anchor="end" fill="#1a1a1a" >400</text>
<line x1="999.0" y1="624.5" x2="1003.0" y2="624.5" stroke="#1a1a1a" stroke-width="1.3"/>
<line x1="999.0" y1="593.9" x2="1006.0" y2="593.9" stroke="#1a1a1a" stroke-width="1.3"/>
<text x="988.5" y="600.1" font-size="20.5" text-anchor="end" fill="#1a1a1a" >500</text>
<line x1="999.0" y1="563.3" x2="1003.0" y2="563.3" stroke="#1a1a1a" stroke-width="1.3"/>
<line x1="999.0" y1="532.7" x2="1006.0" y2="532.7" stroke="#1a1a1a" stroke-width="1.3"/>
<text x="988.5" y="538.9" font-size="20.5" text-anchor="end" fill="#1a1a1a" >600</text>
<line x1="999.0" y1="502.1" x2="1003.0" y2="502.1" stroke="#1a1a1a" stroke-width="1.3"/>
<text x="988.5" y="477.7" font-size="20.5" text-anchor="end" fill="#1a1a1a" >700</text>
<text transform="translate(943.0,624.5) rotate(-90)" font-size="23.6" text-anchor="middle" fill="#1a1a1a">Energy (meV)</text>
<rect x="828" y="42.5" width="24" height="306.0" fill="url(#cbg)" stroke="#1a1a1a" stroke-width="1.2"/>
<line x1="852.0" y1="348.5" x2="860.5" y2="348.5" stroke="#1a1a1a" stroke-width="1.3"/>
<text x="867.0" y="355.1" font-size="20.5" text-anchor="start" fill="#1a1a1a" >0.0</text>
<line x1="852.0" y1="293.3" x2="860.5" y2="293.3" stroke="#1a1a1a" stroke-width="1.3"/>
<text x="867.0" y="299.9" font-size="20.5" text-anchor="start" fill="#1a1a1a" >0.2</text>
<line x1="852.0" y1="238.1" x2="860.5" y2="238.1" stroke="#1a1a1a" stroke-width="1.3"/>
<text x="867.0" y="244.7" font-size="20.5" text-anchor="start" fill="#1a1a1a" >0.4</text>
<line x1="852.0" y1="182.9" x2="860.5" y2="182.9" stroke="#1a1a1a" stroke-width="1.3"/>
<text x="867.0" y="189.5" font-size="20.5" text-anchor="start" fill="#1a1a1a" >0.6</text>
<line x1="852.0" y1="127.8" x2="860.5" y2="127.8" stroke="#1a1a1a" stroke-width="1.3"/>
<text x="867.0" y="134.4" font-size="20.5" text-anchor="start" fill="#1a1a1a" >0.8</text>
<line x1="852.0" y1="72.6" x2="860.5" y2="72.6" stroke="#1a1a1a" stroke-width="1.3"/>
<text x="867.0" y="79.2" font-size="20.5" text-anchor="start" fill="#1a1a1a" >1.0</text>
<rect x="828" y="471.5" width="24" height="306.0" fill="url(#cbg)" stroke="#1a1a1a" stroke-width="1.2"/>
<line x1="852.0" y1="777.5" x2="860.5" y2="777.5" stroke="#1a1a1a" stroke-width="1.3"/>
<text x="867.0" y="784.1" font-size="20.5" text-anchor="start" fill="#1a1a1a" >0.0</text>
<line x1="852.0" y1="714.3" x2="860.5" y2="714.3" stroke="#1a1a1a" stroke-width="1.3"/>
<text x="867.0" y="720.9" font-size="20.5" text-anchor="start" fill="#1a1a1a" >0.5</text>
<line x1="852.0" y1="651.1" x2="860.5" y2="651.1" stroke="#1a1a1a" stroke-width="1.3"/>
<text x="867.0" y="657.7" font-size="20.5" text-anchor="start" fill="#1a1a1a" >1.0</text>
<line x1="852.0" y1="587.8" x2="860.5" y2="587.8" stroke="#1a1a1a" stroke-width="1.3"/>
<text x="867.0" y="594.4" font-size="20.5" text-anchor="start" fill="#1a1a1a" >1.5</text>
<line x1="852.0" y1="524.6" x2="860.5" y2="524.6" stroke="#1a1a1a" stroke-width="1.3"/>
<text x="867.0" y="531.2" font-size="20.5" text-anchor="start" fill="#1a1a1a" >2.0</text>
<rect x="1258" y="42.5" width="24" height="306.0" fill="url(#cbg)" stroke="#1a1a1a" stroke-width="1.2"/>
<line x1="1282.0" y1="348.5" x2="1290.5" y2="348.5" stroke="#1a1a1a" stroke-width="1.3"/>
<text x="1297.0" y="355.1" font-size="20.5" text-anchor="start" fill="#1a1a1a" >0</text>
<line x1="1282.0" y1="287.3" x2="1290.5" y2="287.3" stroke="#1a1a1a" stroke-width="1.3"/>
<text x="1297.0" y="293.9" font-size="20.5" text-anchor="start" fill="#1a1a1a" >100</text>
<line x1="1282.0" y1="226.1" x2="1290.5" y2="226.1" stroke="#1a1a1a" stroke-width="1.3"/>
<text x="1297.0" y="232.7" font-size="20.5" text-anchor="start" fill="#1a1a1a" >200</text>
<line x1="1282.0" y1="164.9" x2="1290.5" y2="164.9" stroke="#1a1a1a" stroke-width="1.3"/>
<text x="1297.0" y="171.5" font-size="20.5" text-anchor="start" fill="#1a1a1a" >300</text>
<line x1="1282.0" y1="103.7" x2="1290.5" y2="103.7" stroke="#1a1a1a" stroke-width="1.3"/>
<text x="1297.0" y="110.3" font-size="20.5" text-anchor="start" fill="#1a1a1a" >400</text>
<rect x="1258" y="471.5" width="24" height="306.0" fill="url(#cbg)" stroke="#1a1a1a" stroke-width="1.2"/>
<line x1="1282.0" y1="777.5" x2="1290.5" y2="777.5" stroke="#1a1a1a" stroke-width="1.3"/>
<text x="1297.0" y="784.1" font-size="20.5" text-anchor="start" fill="#1a1a1a" >0</text>
<line x1="1282.0" y1="733.9" x2="1290.5" y2="733.9" stroke="#1a1a1a" stroke-width="1.3"/>
<text x="1297.0" y="740.5" font-size="20.5" text-anchor="start" fill="#1a1a1a" >10</text>
<line x1="1282.0" y1="690.3" x2="1290.5" y2="690.3" stroke="#1a1a1a" stroke-width="1.3"/>
<text x="1297.0" y="696.9" font-size="20.5" text-anchor="start" fill="#1a1a1a" >20</text>
<line x1="1282.0" y1="646.7" x2="1290.5" y2="646.7" stroke="#1a1a1a" stroke-width="1.3"/>
<text x="1297.0" y="653.3" font-size="20.5" text-anchor="start" fill="#1a1a1a" >30</text>
<line x1="1282.0" y1="603.1" x2="1290.5" y2="603.1" stroke="#1a1a1a" stroke-width="1.3"/>
<text x="1297.0" y="609.7" font-size="20.5" text-anchor="start" fill="#1a1a1a" >40</text>
<line x1="1282.0" y1="559.6" x2="1290.5" y2="559.6" stroke="#1a1a1a" stroke-width="1.3"/>
<text x="1297.0" y="566.2" font-size="20.5" text-anchor="start" fill="#1a1a1a" >50</text>
<line x1="1282.0" y1="516.0" x2="1290.5" y2="516.0" stroke="#1a1a1a" stroke-width="1.3"/>
<text x="1297.0" y="522.6" font-size="20.5" text-anchor="start" fill="#1a1a1a" >60</text>
<text x="807.0" y="331.0" font-size="28" text-anchor="end" fill="#ffffff" >High Power</text>
<text x="810.0" y="760.4" font-size="28" text-anchor="end" fill="#ffffff" >Low Power</text>
<text x="1233.0" y="331.2" font-size="28" text-anchor="end" fill="#ffffff" >High Power</text>
<text x="1240.0" y="760.4" font-size="28" text-anchor="end" fill="#ffffff" >Low Power</text>
<text x="692.5" y="414.0" font-size="38.5" text-anchor="middle" fill="#1a1a1a" >(c)</text>
<text x="692.5" y="885.0" font-size="38.5" text-anchor="middle" fill="#1a1a1a" >(d)</text>
<text x="1122.0" y="414.0" font-size="38.5" text-anchor="middle" fill="#1a1a1a" >(e)</text>
<text x="1122.0" y="885.0" font-size="38.5" text-anchor="middle" fill="#1a1a1a" >(f)</text>
<text x="692.5" y="842.0" font-size="23.6" text-anchor="middle" fill="#1a1a1a" >Voltage (V)</text>
<text x="1122.0" y="842.0" font-size="23.6" text-anchor="middle" fill="#1a1a1a" >Voltage (V)</text>
<text x="764.6" y="28.3" font-size="24" fill="#1a1a1a"><tspan font-style="italic">S</tspan><tspan font-style="italic" font-size="16" dy="6.5">ħω</tspan><tspan dy="-6.5"> (% meV</tspan><tspan font-size="15" dy="-10">−1</tspan><tspan dy="10">)</tspan></text>
<text x="686.5" y="458.6" font-size="24" fill="#1a1a1a"><tspan font-style="italic">S</tspan><tspan font-style="italic" font-size="16" dy="6.5">ħω</tspan><tspan dy="-6.5"> (×10</tspan><tspan font-size="15" dy="-10">-4</tspan><tspan dy="10"> % meV</tspan><tspan font-size="15" dy="-10">−1</tspan><tspan dy="10">)</tspan></text>
<text x="1203.2" y="27.6" font-size="24" fill="#1a1a1a"><tspan font-style="italic">S</tspan><tspan font-style="italic" font-size="16" dy="6.5">F</tspan><tspan dy="-6.5"> (% cm</tspan><tspan font-size="15" dy="-10">2</tspan><tspan dy="10"> s)</tspan></text>
<text x="1192.6" y="458.6" font-size="24" fill="#1a1a1a"><tspan font-style="italic">S</tspan><tspan font-style="italic" font-size="16" dy="6.5">F</tspan><tspan dy="-6.5"> (% cm</tspan><tspan font-size="15" dy="-10">2</tspan><tspan dy="10"> s)</tspan></text>
</svg></body></html>
